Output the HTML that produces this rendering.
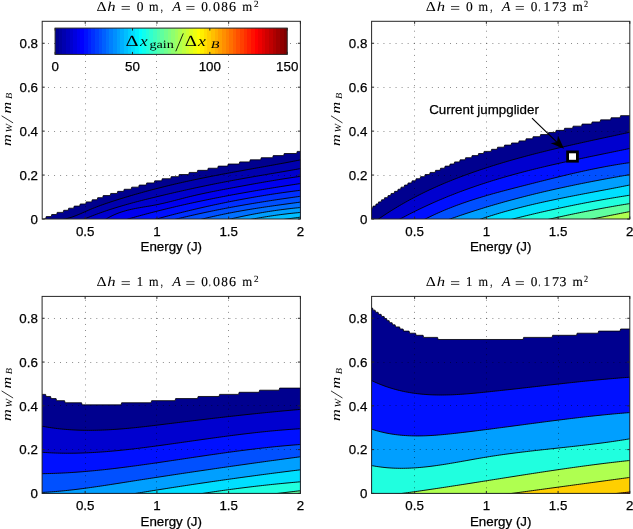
<!DOCTYPE html>
<html><head><meta charset="utf-8"><style>
*{margin:0;padding:0}
html,body{width:633px;height:529px;background:#fff;overflow:hidden}
svg{display:block;will-change:transform;filter:blur(0.3px)}
.gr{stroke:#000;stroke-width:1;stroke-dasharray:1 5.05;opacity:0.45}
.bx{fill:none;stroke:#262626;stroke-width:1}
.tk{stroke:#262626;stroke-width:1}
.tl{font-family:"Liberation Sans",sans-serif;font-size:13.33px;fill:#000;stroke:#000;stroke-width:0.25px}
.tt{font-family:"Liberation Serif",serif;font-size:13px;fill:#000}
.tsup{font-family:"Liberation Serif",serif;font-size:9px;fill:#000}
.it{font-style:italic}
.ml{font-family:"Liberation Serif",serif;font-size:14px;fill:#000}
.ms{font-family:"Liberation Serif",serif;font-size:10px;fill:#000}
.cbl{font-family:"Liberation Serif",serif;font-size:16px;fill:#000}
.cbs{font-family:"Liberation Serif",serif;font-size:11px;fill:#000}
.sf{font-family:"Liberation Serif",serif;fill:#000;text-rendering:geometricPrecision}
.ttl .sf{stroke:#000;stroke-width:0.12px}
.ttl .sfd{stroke-width:0.15px}
.ttl .nb{stroke:none}
</style></head>
<body><svg width="633" height="529" viewBox="0 0 633 529">
<rect width="633" height="529" fill="#fff"/>
<clipPath id="cTL"><rect x="42.2" y="21.3" width="258.2" height="197.7"/></clipPath>
<g clip-path="url(#cTL)">
<path d="M40.2,220.5 L44.2,220.5 L44.7,218.7 L45.7,218.7 L46.2,216.6 L51.2,216.6 L51.7,214.49 L56.7,214.49 L57.2,212.39 L63.2,212.39 L63.7,210.29 L68.2,210.29 L68.7,208.19 L73.7,208.19 L74.2,206.08 L79.7,206.08 L80.2,203.98 L85.7,203.98 L86.2,201.88 L91.7,201.88 L92.2,199.77 L97.2,199.77 L97.7,197.67 L102.7,197.67 L103.2,195.57 L110.2,195.57 L110.7,193.46 L117.2,193.46 L117.7,191.36 L123.7,191.36 L124.2,189.26 L131.2,189.26 L131.7,187.15 L138.7,187.15 L139.2,185.05 L146.2,185.05 L146.7,182.95 L154.2,182.95 L154.7,180.85 L161.7,180.85 L162.2,178.74 L170.7,178.74 L171.2,176.64 L178.7,176.64 L179.2,174.54 L188.7,174.54 L189.2,172.43 L197.2,172.43 L197.7,170.33 L207.7,170.33 L208.2,168.23 L217.7,168.23 L218.2,166.12 L227.7,166.12 L228.2,164.02 L239.2,164.02 L239.7,161.92 L249.7,161.92 L250.2,159.82 L260.7,159.82 L261.2,157.71 L272.7,157.71 L273.2,155.61 L283.7,155.61 L284.2,153.51 L296.7,153.51 L297.2,151.4 L302.2,151.4 L303.4,151.4 L303.4,224 L39.2,224 L39.2,220.5Z" fill="#00008f"/>
<path d="M39.2,224.14 L41.25,223.73 L43.3,223.32 L45.34,222.91 L47.39,222.5 L49.44,222.09 L51.49,221.68 L53.54,221.27 L55.58,220.86 L57.63,220.45 L59.68,220.04 L61.73,219.64 L63.78,219.23 L65.82,218.81 L67.87,218.31 L69.92,217.73 L71.97,217.07 L74.02,216.34 L76.07,215.56 L78.11,214.73 L80.16,213.87 L82.21,212.99 L84.26,212.09 L86.31,211.19 L88.35,210.29 L90.4,209.41 L92.45,208.56 L94.5,207.74 L96.55,206.93 L98.59,206.16 L100.64,205.4 L102.69,204.67 L104.74,203.95 L106.79,203.24 L108.83,202.56 L110.88,201.88 L112.93,201.21 L114.98,200.56 L117.03,199.91 L119.07,199.26 L121.12,198.63 L123.17,198 L125.22,197.37 L127.27,196.75 L129.31,196.14 L131.36,195.54 L133.41,194.94 L135.46,194.35 L137.51,193.77 L139.56,193.19 L141.6,192.61 L143.65,192.05 L145.7,191.49 L147.75,190.93 L149.8,190.38 L151.84,189.84 L153.89,189.3 L155.94,188.77 L157.99,188.24 L160.04,187.72 L162.08,187.21 L164.13,186.7 L166.18,186.19 L168.23,185.7 L170.28,185.2 L172.32,184.72 L174.37,184.23 L176.42,183.76 L178.47,183.28 L180.52,182.82 L182.56,182.35 L184.61,181.9 L186.66,181.44 L188.71,181 L190.76,180.55 L192.8,180.12 L194.85,179.68 L196.9,179.25 L198.95,178.83 L201,178.41 L203.04,177.99 L205.09,177.58 L207.14,177.17 L209.19,176.76 L211.24,176.36 L213.29,175.96 L215.33,175.57 L217.38,175.17 L219.43,174.78 L221.48,174.39 L223.53,174.01 L225.57,173.63 L227.62,173.25 L229.67,172.87 L231.72,172.49 L233.77,172.11 L235.81,171.74 L237.86,171.37 L239.91,171 L241.96,170.63 L244.01,170.26 L246.05,169.89 L248.1,169.52 L250.15,169.16 L252.2,168.79 L254.25,168.42 L256.29,168.06 L258.34,167.69 L260.39,167.32 L262.44,166.96 L264.49,166.59 L266.53,166.22 L268.58,165.85 L270.63,165.48 L272.68,165.11 L274.73,164.74 L276.78,164.37 L278.82,163.99 L280.87,163.62 L282.92,163.24 L284.97,162.86 L287.02,162.47 L289.06,162.09 L291.11,161.7 L293.16,161.31 L295.21,160.92 L297.26,160.52 L299.3,160.12 L301.35,159.73 L303.4,159.33 L303.4,259 L39.2,259Z" fill="#0000af"/>
<path d="M39.2,238 L41.25,237.14 L43.3,236.28 L45.34,235.42 L47.39,234.56 L49.44,233.7 L51.49,232.84 L53.54,231.98 L55.58,231.13 L57.63,230.27 L59.68,229.41 L61.73,228.55 L63.78,227.69 L65.82,226.83 L67.87,225.97 L69.92,225.11 L71.97,224.25 L74.02,223.4 L76.07,222.54 L78.11,221.68 L80.16,220.82 L82.21,219.96 L84.26,219.1 L86.31,218.24 L88.35,217.41 L90.4,216.58 L92.45,215.78 L94.5,214.99 L96.55,214.22 L98.59,213.47 L100.64,212.73 L102.69,212.01 L104.74,211.3 L106.79,210.6 L108.83,209.92 L110.88,209.25 L112.93,208.6 L114.98,207.96 L117.03,207.33 L119.07,206.71 L121.12,206.1 L123.17,205.5 L125.22,204.91 L127.27,204.33 L129.31,203.76 L131.36,203.2 L133.41,202.64 L135.46,202.1 L137.51,201.56 L139.56,201.03 L141.6,200.5 L143.65,199.98 L145.7,199.46 L147.75,198.95 L149.8,198.45 L151.84,197.94 L153.89,197.44 L155.94,196.95 L157.99,196.45 L160.04,195.96 L162.08,195.47 L164.13,194.99 L166.18,194.5 L168.23,194.02 L170.28,193.54 L172.32,193.07 L174.37,192.59 L176.42,192.12 L178.47,191.66 L180.52,191.19 L182.56,190.73 L184.61,190.27 L186.66,189.82 L188.71,189.36 L190.76,188.92 L192.8,188.47 L194.85,188.03 L196.9,187.59 L198.95,187.15 L201,186.72 L203.04,186.29 L205.09,185.86 L207.14,185.44 L209.19,185.02 L211.24,184.6 L213.29,184.19 L215.33,183.78 L217.38,183.37 L219.43,182.97 L221.48,182.57 L223.53,182.18 L225.57,181.78 L227.62,181.39 L229.67,181.01 L231.72,180.62 L233.77,180.24 L235.81,179.87 L237.86,179.5 L239.91,179.12 L241.96,178.76 L244.01,178.39 L246.05,178.03 L248.1,177.67 L250.15,177.31 L252.2,176.95 L254.25,176.59 L256.29,176.24 L258.34,175.89 L260.39,175.54 L262.44,175.18 L264.49,174.83 L266.53,174.48 L268.58,174.13 L270.63,173.78 L272.68,173.43 L274.73,173.09 L276.78,172.74 L278.82,172.38 L280.87,172.03 L282.92,171.68 L284.97,171.33 L287.02,170.97 L289.06,170.62 L291.11,170.26 L293.16,169.9 L295.21,169.54 L297.26,169.18 L299.3,168.82 L301.35,168.45 L303.4,168.09 L303.4,259 L39.2,259Z" fill="#0000cf"/>
<path d="M39.2,257.85 L41.25,256.66 L43.3,255.47 L45.34,254.28 L47.39,253.09 L49.44,251.9 L51.49,250.71 L53.54,249.52 L55.58,248.34 L57.63,247.15 L59.68,245.96 L61.73,244.77 L63.78,243.58 L65.82,242.39 L67.87,241.2 L69.92,240.01 L71.97,238.82 L74.02,237.64 L76.07,236.45 L78.11,235.26 L80.16,234.07 L82.21,232.88 L84.26,231.69 L86.31,230.5 L88.35,229.31 L90.4,228.12 L92.45,226.94 L94.5,225.75 L96.55,224.56 L98.59,223.37 L100.64,222.18 L102.69,220.99 L104.74,219.8 L106.79,218.61 L108.83,217.45 L110.88,216.37 L112.93,215.38 L114.98,214.46 L117.03,213.62 L119.07,212.84 L121.12,212.12 L123.17,211.47 L125.22,210.86 L127.27,210.31 L129.31,209.79 L131.36,209.32 L133.41,208.88 L135.46,208.47 L137.51,208.08 L139.56,207.71 L141.6,207.36 L143.65,207.01 L145.7,206.67 L147.75,206.33 L149.8,205.99 L151.84,205.63 L153.89,205.26 L155.94,204.87 L157.99,204.46 L160.04,204.02 L162.08,203.57 L164.13,203.1 L166.18,202.61 L168.23,202.12 L170.28,201.61 L172.32,201.09 L174.37,200.57 L176.42,200.04 L178.47,199.51 L180.52,198.98 L182.56,198.45 L184.61,197.92 L186.66,197.4 L188.71,196.89 L190.76,196.38 L192.8,195.89 L194.85,195.41 L196.9,194.94 L198.95,194.48 L201,194.03 L203.04,193.58 L205.09,193.15 L207.14,192.72 L209.19,192.3 L211.24,191.88 L213.29,191.47 L215.33,191.07 L217.38,190.67 L219.43,190.27 L221.48,189.88 L223.53,189.49 L225.57,189.1 L227.62,188.72 L229.67,188.33 L231.72,187.95 L233.77,187.57 L235.81,187.19 L237.86,186.81 L239.91,186.43 L241.96,186.05 L244.01,185.68 L246.05,185.3 L248.1,184.93 L250.15,184.56 L252.2,184.19 L254.25,183.82 L256.29,183.46 L258.34,183.1 L260.39,182.74 L262.44,182.38 L264.49,182.02 L266.53,181.67 L268.58,181.32 L270.63,180.98 L272.68,180.63 L274.73,180.29 L276.78,179.95 L278.82,179.62 L280.87,179.29 L282.92,178.96 L284.97,178.64 L287.02,178.32 L289.06,178.01 L291.11,177.7 L293.16,177.39 L295.21,177.09 L297.26,176.79 L299.3,176.49 L301.35,176.2 L303.4,175.9 L303.4,259 L39.2,259Z" fill="#0000ef"/>
<path d="M39.2,244.53 L41.25,243.94 L43.3,243.35 L45.34,242.77 L47.39,242.18 L49.44,241.59 L51.49,241 L53.54,240.41 L55.58,239.83 L57.63,239.24 L59.68,238.65 L61.73,238.06 L63.78,237.48 L65.82,236.89 L67.87,236.3 L69.92,235.71 L71.97,235.13 L74.02,234.54 L76.07,233.95 L78.11,233.36 L80.16,232.77 L82.21,232.19 L84.26,231.6 L86.31,231.01 L88.35,230.42 L90.4,229.84 L92.45,229.25 L94.5,228.66 L96.55,228.07 L98.59,227.49 L100.64,226.9 L102.69,226.31 L104.74,225.72 L106.79,225.13 L108.83,224.55 L110.88,223.96 L112.93,223.37 L114.98,222.78 L117.03,222.2 L119.07,221.61 L121.12,221.02 L123.17,220.43 L125.22,219.85 L127.27,219.26 L129.31,218.67 L131.36,218.09 L133.41,217.51 L135.46,216.93 L137.51,216.36 L139.56,215.8 L141.6,215.24 L143.65,214.69 L145.7,214.14 L147.75,213.6 L149.8,213.06 L151.84,212.52 L153.89,211.99 L155.94,211.47 L157.99,210.95 L160.04,210.43 L162.08,209.92 L164.13,209.42 L166.18,208.92 L168.23,208.42 L170.28,207.93 L172.32,207.44 L174.37,206.96 L176.42,206.48 L178.47,206 L180.52,205.53 L182.56,205.06 L184.61,204.6 L186.66,204.14 L188.71,203.69 L190.76,203.24 L192.8,202.79 L194.85,202.35 L196.9,201.91 L198.95,201.47 L201,201.04 L203.04,200.61 L205.09,200.19 L207.14,199.77 L209.19,199.35 L211.24,198.93 L213.29,198.52 L215.33,198.12 L217.38,197.71 L219.43,197.31 L221.48,196.91 L223.53,196.52 L225.57,196.13 L227.62,195.74 L229.67,195.36 L231.72,194.97 L233.77,194.59 L235.81,194.22 L237.86,193.84 L239.91,193.47 L241.96,193.11 L244.01,192.74 L246.05,192.38 L248.1,192.02 L250.15,191.66 L252.2,191.31 L254.25,190.95 L256.29,190.6 L258.34,190.25 L260.39,189.91 L262.44,189.57 L264.49,189.23 L266.53,188.89 L268.58,188.55 L270.63,188.22 L272.68,187.88 L274.73,187.55 L276.78,187.22 L278.82,186.9 L280.87,186.57 L282.92,186.25 L284.97,185.93 L287.02,185.61 L289.06,185.29 L291.11,184.97 L293.16,184.66 L295.21,184.34 L297.26,184.03 L299.3,183.72 L301.35,183.41 L303.4,183.1 L303.4,259 L39.2,259Z" fill="#0010ff"/>
<path d="M39.2,251.12 L41.25,250.56 L43.3,250 L45.34,249.44 L47.39,248.88 L49.44,248.32 L51.49,247.76 L53.54,247.2 L55.58,246.64 L57.63,246.08 L59.68,245.52 L61.73,244.96 L63.78,244.39 L65.82,243.83 L67.87,243.27 L69.92,242.71 L71.97,242.15 L74.02,241.59 L76.07,241.03 L78.11,240.47 L80.16,239.91 L82.21,239.35 L84.26,238.79 L86.31,238.23 L88.35,237.67 L90.4,237.11 L92.45,236.55 L94.5,235.98 L96.55,235.42 L98.59,234.86 L100.64,234.3 L102.69,233.74 L104.74,233.18 L106.79,232.62 L108.83,232.06 L110.88,231.5 L112.93,230.94 L114.98,230.38 L117.03,229.82 L119.07,229.26 L121.12,228.7 L123.17,228.14 L125.22,227.58 L127.27,227.01 L129.31,226.45 L131.36,225.89 L133.41,225.33 L135.46,224.77 L137.51,224.21 L139.56,223.65 L141.6,223.09 L143.65,222.53 L145.7,221.97 L147.75,221.41 L149.8,220.85 L151.84,220.29 L153.89,219.73 L155.94,219.17 L157.99,218.61 L160.04,218.05 L162.08,217.5 L164.13,216.95 L166.18,216.41 L168.23,215.87 L170.28,215.33 L172.32,214.8 L174.37,214.27 L176.42,213.75 L178.47,213.23 L180.52,212.72 L182.56,212.21 L184.61,211.71 L186.66,211.21 L188.71,210.71 L190.76,210.22 L192.8,209.73 L194.85,209.25 L196.9,208.77 L198.95,208.29 L201,207.82 L203.04,207.36 L205.09,206.9 L207.14,206.44 L209.19,205.99 L211.24,205.54 L213.29,205.09 L215.33,204.65 L217.38,204.22 L219.43,203.79 L221.48,203.36 L223.53,202.94 L225.57,202.52 L227.62,202.11 L229.67,201.7 L231.72,201.29 L233.77,200.89 L235.81,200.5 L237.86,200.11 L239.91,199.72 L241.96,199.34 L244.01,198.96 L246.05,198.59 L248.1,198.22 L250.15,197.85 L252.2,197.49 L254.25,197.14 L256.29,196.78 L258.34,196.44 L260.39,196.1 L262.44,195.76 L264.49,195.42 L266.53,195.09 L268.58,194.77 L270.63,194.45 L272.68,194.13 L274.73,193.82 L276.78,193.52 L278.82,193.21 L280.87,192.92 L282.92,192.62 L284.97,192.33 L287.02,192.05 L289.06,191.77 L291.11,191.5 L293.16,191.23 L295.21,190.96 L297.26,190.7 L299.3,190.44 L301.35,190.18 L303.4,189.92 L303.4,259 L39.2,259Z" fill="#0030ff"/>
<path d="M39.2,252.91 L41.25,252.4 L43.3,251.9 L45.34,251.39 L47.39,250.89 L49.44,250.38 L51.49,249.88 L53.54,249.37 L55.58,248.87 L57.63,248.36 L59.68,247.86 L61.73,247.35 L63.78,246.85 L65.82,246.34 L67.87,245.84 L69.92,245.33 L71.97,244.83 L74.02,244.32 L76.07,243.82 L78.11,243.31 L80.16,242.81 L82.21,242.3 L84.26,241.8 L86.31,241.29 L88.35,240.79 L90.4,240.28 L92.45,239.78 L94.5,239.27 L96.55,238.77 L98.59,238.26 L100.64,237.75 L102.69,237.25 L104.74,236.74 L106.79,236.24 L108.83,235.73 L110.88,235.23 L112.93,234.72 L114.98,234.22 L117.03,233.71 L119.07,233.21 L121.12,232.7 L123.17,232.2 L125.22,231.69 L127.27,231.19 L129.31,230.68 L131.36,230.18 L133.41,229.67 L135.46,229.17 L137.51,228.66 L139.56,228.16 L141.6,227.65 L143.65,227.15 L145.7,226.64 L147.75,226.14 L149.8,225.63 L151.84,225.13 L153.89,224.62 L155.94,224.12 L157.99,223.61 L160.04,223.11 L162.08,222.6 L164.13,222.1 L166.18,221.59 L168.23,221.09 L170.28,220.58 L172.32,220.07 L174.37,219.57 L176.42,219.06 L178.47,218.56 L180.52,218.06 L182.56,217.57 L184.61,217.08 L186.66,216.6 L188.71,216.12 L190.76,215.65 L192.8,215.18 L194.85,214.72 L196.9,214.26 L198.95,213.81 L201,213.36 L203.04,212.92 L205.09,212.48 L207.14,212.05 L209.19,211.62 L211.24,211.2 L213.29,210.78 L215.33,210.36 L217.38,209.95 L219.43,209.55 L221.48,209.14 L223.53,208.75 L225.57,208.35 L227.62,207.96 L229.67,207.58 L231.72,207.2 L233.77,206.82 L235.81,206.45 L237.86,206.08 L239.91,205.71 L241.96,205.35 L244.01,204.99 L246.05,204.64 L248.1,204.29 L250.15,203.94 L252.2,203.59 L254.25,203.25 L256.29,202.92 L258.34,202.58 L260.39,202.25 L262.44,201.92 L264.49,201.6 L266.53,201.27 L268.58,200.95 L270.63,200.64 L272.68,200.32 L274.73,200.01 L276.78,199.7 L278.82,199.4 L280.87,199.09 L282.92,198.79 L284.97,198.49 L287.02,198.2 L289.06,197.9 L291.11,197.61 L293.16,197.32 L295.21,197.03 L297.26,196.75 L299.3,196.46 L301.35,196.18 L303.4,195.9 L303.4,259 L39.2,259Z" fill="#0050ff"/>
<path d="M39.2,259.83 L41.25,259.32 L43.3,258.8 L45.34,258.29 L47.39,257.78 L49.44,257.27 L51.49,256.76 L53.54,256.25 L55.58,255.73 L57.63,255.22 L59.68,254.71 L61.73,254.2 L63.78,253.69 L65.82,253.17 L67.87,252.66 L69.92,252.15 L71.97,251.64 L74.02,251.13 L76.07,250.62 L78.11,250.1 L80.16,249.59 L82.21,249.08 L84.26,248.57 L86.31,248.06 L88.35,247.54 L90.4,247.03 L92.45,246.52 L94.5,246.01 L96.55,245.5 L98.59,244.99 L100.64,244.47 L102.69,243.96 L104.74,243.45 L106.79,242.94 L108.83,242.43 L110.88,241.91 L112.93,241.4 L114.98,240.89 L117.03,240.38 L119.07,239.87 L121.12,239.36 L123.17,238.84 L125.22,238.33 L127.27,237.82 L129.31,237.31 L131.36,236.8 L133.41,236.28 L135.46,235.77 L137.51,235.26 L139.56,234.75 L141.6,234.24 L143.65,233.73 L145.7,233.21 L147.75,232.7 L149.8,232.19 L151.84,231.68 L153.89,231.17 L155.94,230.65 L157.99,230.14 L160.04,229.63 L162.08,229.12 L164.13,228.61 L166.18,228.1 L168.23,227.58 L170.28,227.07 L172.32,226.56 L174.37,226.05 L176.42,225.54 L178.47,225.02 L180.52,224.51 L182.56,224 L184.61,223.49 L186.66,222.98 L188.71,222.47 L190.76,221.95 L192.8,221.44 L194.85,220.93 L196.9,220.42 L198.95,219.91 L201,219.39 L203.04,218.88 L205.09,218.38 L207.14,217.88 L209.19,217.39 L211.24,216.91 L213.29,216.45 L215.33,215.99 L217.38,215.53 L219.43,215.09 L221.48,214.66 L223.53,214.23 L225.57,213.82 L227.62,213.41 L229.67,213 L231.72,212.61 L233.77,212.22 L235.81,211.84 L237.86,211.46 L239.91,211.1 L241.96,210.73 L244.01,210.38 L246.05,210.03 L248.1,209.68 L250.15,209.35 L252.2,209.01 L254.25,208.68 L256.29,208.36 L258.34,208.04 L260.39,207.72 L262.44,207.41 L264.49,207.1 L266.53,206.8 L268.58,206.5 L270.63,206.2 L272.68,205.91 L274.73,205.62 L276.78,205.33 L278.82,205.04 L280.87,204.76 L282.92,204.48 L284.97,204.2 L287.02,203.92 L289.06,203.64 L291.11,203.36 L293.16,203.09 L295.21,202.81 L297.26,202.54 L299.3,202.26 L301.35,201.99 L303.4,201.71 L303.4,259 L39.2,259Z" fill="#0070ff"/>
<path d="M39.2,263.97 L41.25,263.49 L43.3,263.01 L45.34,262.53 L47.39,262.05 L49.44,261.57 L51.49,261.08 L53.54,260.6 L55.58,260.12 L57.63,259.64 L59.68,259.16 L61.73,258.68 L63.78,258.2 L65.82,257.71 L67.87,257.23 L69.92,256.75 L71.97,256.27 L74.02,255.79 L76.07,255.31 L78.11,254.83 L80.16,254.35 L82.21,253.86 L84.26,253.38 L86.31,252.9 L88.35,252.42 L90.4,251.94 L92.45,251.46 L94.5,250.98 L96.55,250.49 L98.59,250.01 L100.64,249.53 L102.69,249.05 L104.74,248.57 L106.79,248.09 L108.83,247.61 L110.88,247.12 L112.93,246.64 L114.98,246.16 L117.03,245.68 L119.07,245.2 L121.12,244.72 L123.17,244.24 L125.22,243.75 L127.27,243.27 L129.31,242.79 L131.36,242.31 L133.41,241.83 L135.46,241.35 L137.51,240.87 L139.56,240.39 L141.6,239.9 L143.65,239.42 L145.7,238.94 L147.75,238.46 L149.8,237.98 L151.84,237.5 L153.89,237.02 L155.94,236.53 L157.99,236.05 L160.04,235.57 L162.08,235.09 L164.13,234.61 L166.18,234.13 L168.23,233.65 L170.28,233.16 L172.32,232.68 L174.37,232.2 L176.42,231.72 L178.47,231.24 L180.52,230.76 L182.56,230.28 L184.61,229.79 L186.66,229.31 L188.71,228.83 L190.76,228.35 L192.8,227.87 L194.85,227.39 L196.9,226.91 L198.95,226.43 L201,225.94 L203.04,225.46 L205.09,224.98 L207.14,224.5 L209.19,224.02 L211.24,223.54 L213.29,223.06 L215.33,222.57 L217.38,222.09 L219.43,221.61 L221.48,221.13 L223.53,220.65 L225.57,220.17 L227.62,219.69 L229.67,219.2 L231.72,218.73 L233.77,218.25 L235.81,217.79 L237.86,217.34 L239.91,216.89 L241.96,216.45 L244.01,216.02 L246.05,215.6 L248.1,215.19 L250.15,214.79 L252.2,214.39 L254.25,214 L256.29,213.63 L258.34,213.26 L260.39,212.89 L262.44,212.54 L264.49,212.2 L266.53,211.86 L268.58,211.53 L270.63,211.21 L272.68,210.9 L274.73,210.6 L276.78,210.31 L278.82,210.02 L280.87,209.74 L282.92,209.48 L284.97,209.22 L287.02,208.96 L289.06,208.72 L291.11,208.49 L293.16,208.26 L295.21,208.04 L297.26,207.83 L299.3,207.63 L301.35,207.44 L303.4,207.24 L303.4,259 L39.2,259Z" fill="#009fff"/>
<path d="M39.2,258.9 L41.25,258.51 L43.3,258.13 L45.34,257.75 L47.39,257.37 L49.44,256.99 L51.49,256.6 L53.54,256.22 L55.58,255.84 L57.63,255.46 L59.68,255.08 L61.73,254.69 L63.78,254.31 L65.82,253.93 L67.87,253.55 L69.92,253.16 L71.97,252.78 L74.02,252.4 L76.07,252.02 L78.11,251.64 L80.16,251.25 L82.21,250.87 L84.26,250.49 L86.31,250.11 L88.35,249.72 L90.4,249.34 L92.45,248.96 L94.5,248.58 L96.55,248.2 L98.59,247.81 L100.64,247.43 L102.69,247.05 L104.74,246.67 L106.79,246.28 L108.83,245.9 L110.88,245.52 L112.93,245.14 L114.98,244.76 L117.03,244.37 L119.07,243.99 L121.12,243.61 L123.17,243.23 L125.22,242.85 L127.27,242.46 L129.31,242.08 L131.36,241.7 L133.41,241.32 L135.46,240.93 L137.51,240.55 L139.56,240.17 L141.6,239.79 L143.65,239.41 L145.7,239.02 L147.75,238.64 L149.8,238.26 L151.84,237.88 L153.89,237.49 L155.94,237.11 L157.99,236.73 L160.04,236.35 L162.08,235.97 L164.13,235.58 L166.18,235.2 L168.23,234.82 L170.28,234.44 L172.32,234.05 L174.37,233.67 L176.42,233.29 L178.47,232.91 L180.52,232.53 L182.56,232.14 L184.61,231.76 L186.66,231.38 L188.71,231 L190.76,230.62 L192.8,230.23 L194.85,229.85 L196.9,229.47 L198.95,229.09 L201,228.7 L203.04,228.32 L205.09,227.94 L207.14,227.56 L209.19,227.18 L211.24,226.79 L213.29,226.41 L215.33,226.03 L217.38,225.65 L219.43,225.26 L221.48,224.88 L223.53,224.5 L225.57,224.12 L227.62,223.74 L229.67,223.35 L231.72,222.97 L233.77,222.59 L235.81,222.21 L237.86,221.82 L239.91,221.44 L241.96,221.06 L244.01,220.68 L246.05,220.3 L248.1,219.91 L250.15,219.53 L252.2,219.15 L254.25,218.77 L256.29,218.39 L258.34,218.03 L260.39,217.67 L262.44,217.33 L264.49,216.99 L266.53,216.66 L268.58,216.34 L270.63,216.02 L272.68,215.72 L274.73,215.42 L276.78,215.14 L278.82,214.86 L280.87,214.59 L282.92,214.33 L284.97,214.08 L287.02,213.84 L289.06,213.6 L291.11,213.38 L293.16,213.16 L295.21,212.95 L297.26,212.75 L299.3,212.56 L301.35,212.38 L303.4,212.19 L303.4,259 L39.2,259Z" fill="#00bfff"/>
<path d="M39.2,253.31 L41.25,253.03 L43.3,252.74 L45.34,252.46 L47.39,252.18 L49.44,251.89 L51.49,251.61 L53.54,251.33 L55.58,251.04 L57.63,250.76 L59.68,250.47 L61.73,250.19 L63.78,249.91 L65.82,249.62 L67.87,249.34 L69.92,249.06 L71.97,248.77 L74.02,248.49 L76.07,248.21 L78.11,247.92 L80.16,247.64 L82.21,247.36 L84.26,247.07 L86.31,246.79 L88.35,246.5 L90.4,246.22 L92.45,245.94 L94.5,245.65 L96.55,245.37 L98.59,245.09 L100.64,244.8 L102.69,244.52 L104.74,244.24 L106.79,243.95 L108.83,243.67 L110.88,243.39 L112.93,243.1 L114.98,242.82 L117.03,242.53 L119.07,242.25 L121.12,241.97 L123.17,241.68 L125.22,241.4 L127.27,241.12 L129.31,240.83 L131.36,240.55 L133.41,240.27 L135.46,239.98 L137.51,239.7 L139.56,239.42 L141.6,239.13 L143.65,238.85 L145.7,238.56 L147.75,238.28 L149.8,238 L151.84,237.71 L153.89,237.43 L155.94,237.15 L157.99,236.86 L160.04,236.58 L162.08,236.3 L164.13,236.01 L166.18,235.73 L168.23,235.45 L170.28,235.16 L172.32,234.88 L174.37,234.59 L176.42,234.31 L178.47,234.03 L180.52,233.74 L182.56,233.46 L184.61,233.18 L186.66,232.89 L188.71,232.61 L190.76,232.33 L192.8,232.04 L194.85,231.76 L196.9,231.48 L198.95,231.19 L201,230.91 L203.04,230.62 L205.09,230.34 L207.14,230.06 L209.19,229.77 L211.24,229.49 L213.29,229.21 L215.33,228.92 L217.38,228.64 L219.43,228.36 L221.48,228.07 L223.53,227.79 L225.57,227.51 L227.62,227.22 L229.67,226.94 L231.72,226.65 L233.77,226.37 L235.81,226.09 L237.86,225.8 L239.91,225.52 L241.96,225.24 L244.01,224.95 L246.05,224.67 L248.1,224.39 L250.15,224.1 L252.2,223.82 L254.25,223.54 L256.29,223.25 L258.34,222.97 L260.39,222.68 L262.44,222.4 L264.49,222.12 L266.53,221.83 L268.58,221.55 L270.63,221.27 L272.68,220.98 L274.73,220.7 L276.78,220.42 L278.82,220.13 L280.87,219.85 L282.92,219.57 L284.97,219.28 L287.02,219 L289.06,218.71 L291.11,218.43 L293.16,218.15 L295.21,217.86 L297.26,217.58 L299.3,217.3 L301.35,217.01 L303.4,216.73 L303.4,259 L39.2,259Z" fill="#00dfff"/>
<path d="M39.2,224.14 L41.25,223.73 L43.3,223.32 L45.34,222.91 L47.39,222.5 L49.44,222.09 L51.49,221.68 L53.54,221.27 L55.58,220.86 L57.63,220.45 L59.68,220.04 L61.73,219.64 L63.78,219.23 L65.82,218.81 L67.87,218.31 L69.92,217.73 L71.97,217.07 L74.02,216.34 L76.07,215.56 L78.11,214.73 L80.16,213.87 L82.21,212.99 L84.26,212.09 L86.31,211.19 L88.35,210.29 L90.4,209.41 L92.45,208.56 L94.5,207.74 L96.55,206.93 L98.59,206.16 L100.64,205.4 L102.69,204.67 L104.74,203.95 L106.79,203.24 L108.83,202.56 L110.88,201.88 L112.93,201.21 L114.98,200.56 L117.03,199.91 L119.07,199.26 L121.12,198.63 L123.17,198 L125.22,197.37 L127.27,196.75 L129.31,196.14 L131.36,195.54 L133.41,194.94 L135.46,194.35 L137.51,193.77 L139.56,193.19 L141.6,192.61 L143.65,192.05 L145.7,191.49 L147.75,190.93 L149.8,190.38 L151.84,189.84 L153.89,189.3 L155.94,188.77 L157.99,188.24 L160.04,187.72 L162.08,187.21 L164.13,186.7 L166.18,186.19 L168.23,185.7 L170.28,185.2 L172.32,184.72 L174.37,184.23 L176.42,183.76 L178.47,183.28 L180.52,182.82 L182.56,182.35 L184.61,181.9 L186.66,181.44 L188.71,181 L190.76,180.55 L192.8,180.12 L194.85,179.68 L196.9,179.25 L198.95,178.83 L201,178.41 L203.04,177.99 L205.09,177.58 L207.14,177.17 L209.19,176.76 L211.24,176.36 L213.29,175.96 L215.33,175.57 L217.38,175.17 L219.43,174.78 L221.48,174.39 L223.53,174.01 L225.57,173.63 L227.62,173.25 L229.67,172.87 L231.72,172.49 L233.77,172.11 L235.81,171.74 L237.86,171.37 L239.91,171 L241.96,170.63 L244.01,170.26 L246.05,169.89 L248.1,169.52 L250.15,169.16 L252.2,168.79 L254.25,168.42 L256.29,168.06 L258.34,167.69 L260.39,167.32 L262.44,166.96 L264.49,166.59 L266.53,166.22 L268.58,165.85 L270.63,165.48 L272.68,165.11 L274.73,164.74 L276.78,164.37 L278.82,163.99 L280.87,163.62 L282.92,163.24 L284.97,162.86 L287.02,162.47 L289.06,162.09 L291.11,161.7 L293.16,161.31 L295.21,160.92 L297.26,160.52 L299.3,160.12 L301.35,159.73 L303.4,159.33" fill="none" stroke="#000" stroke-width="0.9"/>
<path d="M39.2,238 L41.25,237.14 L43.3,236.28 L45.34,235.42 L47.39,234.56 L49.44,233.7 L51.49,232.84 L53.54,231.98 L55.58,231.13 L57.63,230.27 L59.68,229.41 L61.73,228.55 L63.78,227.69 L65.82,226.83 L67.87,225.97 L69.92,225.11 L71.97,224.25 L74.02,223.4 L76.07,222.54 L78.11,221.68 L80.16,220.82 L82.21,219.96 L84.26,219.1 L86.31,218.24 L88.35,217.41 L90.4,216.58 L92.45,215.78 L94.5,214.99 L96.55,214.22 L98.59,213.47 L100.64,212.73 L102.69,212.01 L104.74,211.3 L106.79,210.6 L108.83,209.92 L110.88,209.25 L112.93,208.6 L114.98,207.96 L117.03,207.33 L119.07,206.71 L121.12,206.1 L123.17,205.5 L125.22,204.91 L127.27,204.33 L129.31,203.76 L131.36,203.2 L133.41,202.64 L135.46,202.1 L137.51,201.56 L139.56,201.03 L141.6,200.5 L143.65,199.98 L145.7,199.46 L147.75,198.95 L149.8,198.45 L151.84,197.94 L153.89,197.44 L155.94,196.95 L157.99,196.45 L160.04,195.96 L162.08,195.47 L164.13,194.99 L166.18,194.5 L168.23,194.02 L170.28,193.54 L172.32,193.07 L174.37,192.59 L176.42,192.12 L178.47,191.66 L180.52,191.19 L182.56,190.73 L184.61,190.27 L186.66,189.82 L188.71,189.36 L190.76,188.92 L192.8,188.47 L194.85,188.03 L196.9,187.59 L198.95,187.15 L201,186.72 L203.04,186.29 L205.09,185.86 L207.14,185.44 L209.19,185.02 L211.24,184.6 L213.29,184.19 L215.33,183.78 L217.38,183.37 L219.43,182.97 L221.48,182.57 L223.53,182.18 L225.57,181.78 L227.62,181.39 L229.67,181.01 L231.72,180.62 L233.77,180.24 L235.81,179.87 L237.86,179.5 L239.91,179.12 L241.96,178.76 L244.01,178.39 L246.05,178.03 L248.1,177.67 L250.15,177.31 L252.2,176.95 L254.25,176.59 L256.29,176.24 L258.34,175.89 L260.39,175.54 L262.44,175.18 L264.49,174.83 L266.53,174.48 L268.58,174.13 L270.63,173.78 L272.68,173.43 L274.73,173.09 L276.78,172.74 L278.82,172.38 L280.87,172.03 L282.92,171.68 L284.97,171.33 L287.02,170.97 L289.06,170.62 L291.11,170.26 L293.16,169.9 L295.21,169.54 L297.26,169.18 L299.3,168.82 L301.35,168.45 L303.4,168.09" fill="none" stroke="#000" stroke-width="0.9"/>
<path d="M39.2,257.85 L41.25,256.66 L43.3,255.47 L45.34,254.28 L47.39,253.09 L49.44,251.9 L51.49,250.71 L53.54,249.52 L55.58,248.34 L57.63,247.15 L59.68,245.96 L61.73,244.77 L63.78,243.58 L65.82,242.39 L67.87,241.2 L69.92,240.01 L71.97,238.82 L74.02,237.64 L76.07,236.45 L78.11,235.26 L80.16,234.07 L82.21,232.88 L84.26,231.69 L86.31,230.5 L88.35,229.31 L90.4,228.12 L92.45,226.94 L94.5,225.75 L96.55,224.56 L98.59,223.37 L100.64,222.18 L102.69,220.99 L104.74,219.8 L106.79,218.61 L108.83,217.45 L110.88,216.37 L112.93,215.38 L114.98,214.46 L117.03,213.62 L119.07,212.84 L121.12,212.12 L123.17,211.47 L125.22,210.86 L127.27,210.31 L129.31,209.79 L131.36,209.32 L133.41,208.88 L135.46,208.47 L137.51,208.08 L139.56,207.71 L141.6,207.36 L143.65,207.01 L145.7,206.67 L147.75,206.33 L149.8,205.99 L151.84,205.63 L153.89,205.26 L155.94,204.87 L157.99,204.46 L160.04,204.02 L162.08,203.57 L164.13,203.1 L166.18,202.61 L168.23,202.12 L170.28,201.61 L172.32,201.09 L174.37,200.57 L176.42,200.04 L178.47,199.51 L180.52,198.98 L182.56,198.45 L184.61,197.92 L186.66,197.4 L188.71,196.89 L190.76,196.38 L192.8,195.89 L194.85,195.41 L196.9,194.94 L198.95,194.48 L201,194.03 L203.04,193.58 L205.09,193.15 L207.14,192.72 L209.19,192.3 L211.24,191.88 L213.29,191.47 L215.33,191.07 L217.38,190.67 L219.43,190.27 L221.48,189.88 L223.53,189.49 L225.57,189.1 L227.62,188.72 L229.67,188.33 L231.72,187.95 L233.77,187.57 L235.81,187.19 L237.86,186.81 L239.91,186.43 L241.96,186.05 L244.01,185.68 L246.05,185.3 L248.1,184.93 L250.15,184.56 L252.2,184.19 L254.25,183.82 L256.29,183.46 L258.34,183.1 L260.39,182.74 L262.44,182.38 L264.49,182.02 L266.53,181.67 L268.58,181.32 L270.63,180.98 L272.68,180.63 L274.73,180.29 L276.78,179.95 L278.82,179.62 L280.87,179.29 L282.92,178.96 L284.97,178.64 L287.02,178.32 L289.06,178.01 L291.11,177.7 L293.16,177.39 L295.21,177.09 L297.26,176.79 L299.3,176.49 L301.35,176.2 L303.4,175.9" fill="none" stroke="#000" stroke-width="0.9"/>
<path d="M39.2,244.53 L41.25,243.94 L43.3,243.35 L45.34,242.77 L47.39,242.18 L49.44,241.59 L51.49,241 L53.54,240.41 L55.58,239.83 L57.63,239.24 L59.68,238.65 L61.73,238.06 L63.78,237.48 L65.82,236.89 L67.87,236.3 L69.92,235.71 L71.97,235.13 L74.02,234.54 L76.07,233.95 L78.11,233.36 L80.16,232.77 L82.21,232.19 L84.26,231.6 L86.31,231.01 L88.35,230.42 L90.4,229.84 L92.45,229.25 L94.5,228.66 L96.55,228.07 L98.59,227.49 L100.64,226.9 L102.69,226.31 L104.74,225.72 L106.79,225.13 L108.83,224.55 L110.88,223.96 L112.93,223.37 L114.98,222.78 L117.03,222.2 L119.07,221.61 L121.12,221.02 L123.17,220.43 L125.22,219.85 L127.27,219.26 L129.31,218.67 L131.36,218.09 L133.41,217.51 L135.46,216.93 L137.51,216.36 L139.56,215.8 L141.6,215.24 L143.65,214.69 L145.7,214.14 L147.75,213.6 L149.8,213.06 L151.84,212.52 L153.89,211.99 L155.94,211.47 L157.99,210.95 L160.04,210.43 L162.08,209.92 L164.13,209.42 L166.18,208.92 L168.23,208.42 L170.28,207.93 L172.32,207.44 L174.37,206.96 L176.42,206.48 L178.47,206 L180.52,205.53 L182.56,205.06 L184.61,204.6 L186.66,204.14 L188.71,203.69 L190.76,203.24 L192.8,202.79 L194.85,202.35 L196.9,201.91 L198.95,201.47 L201,201.04 L203.04,200.61 L205.09,200.19 L207.14,199.77 L209.19,199.35 L211.24,198.93 L213.29,198.52 L215.33,198.12 L217.38,197.71 L219.43,197.31 L221.48,196.91 L223.53,196.52 L225.57,196.13 L227.62,195.74 L229.67,195.36 L231.72,194.97 L233.77,194.59 L235.81,194.22 L237.86,193.84 L239.91,193.47 L241.96,193.11 L244.01,192.74 L246.05,192.38 L248.1,192.02 L250.15,191.66 L252.2,191.31 L254.25,190.95 L256.29,190.6 L258.34,190.25 L260.39,189.91 L262.44,189.57 L264.49,189.23 L266.53,188.89 L268.58,188.55 L270.63,188.22 L272.68,187.88 L274.73,187.55 L276.78,187.22 L278.82,186.9 L280.87,186.57 L282.92,186.25 L284.97,185.93 L287.02,185.61 L289.06,185.29 L291.11,184.97 L293.16,184.66 L295.21,184.34 L297.26,184.03 L299.3,183.72 L301.35,183.41 L303.4,183.1" fill="none" stroke="#000" stroke-width="0.9"/>
<path d="M39.2,251.12 L41.25,250.56 L43.3,250 L45.34,249.44 L47.39,248.88 L49.44,248.32 L51.49,247.76 L53.54,247.2 L55.58,246.64 L57.63,246.08 L59.68,245.52 L61.73,244.96 L63.78,244.39 L65.82,243.83 L67.87,243.27 L69.92,242.71 L71.97,242.15 L74.02,241.59 L76.07,241.03 L78.11,240.47 L80.16,239.91 L82.21,239.35 L84.26,238.79 L86.31,238.23 L88.35,237.67 L90.4,237.11 L92.45,236.55 L94.5,235.98 L96.55,235.42 L98.59,234.86 L100.64,234.3 L102.69,233.74 L104.74,233.18 L106.79,232.62 L108.83,232.06 L110.88,231.5 L112.93,230.94 L114.98,230.38 L117.03,229.82 L119.07,229.26 L121.12,228.7 L123.17,228.14 L125.22,227.58 L127.27,227.01 L129.31,226.45 L131.36,225.89 L133.41,225.33 L135.46,224.77 L137.51,224.21 L139.56,223.65 L141.6,223.09 L143.65,222.53 L145.7,221.97 L147.75,221.41 L149.8,220.85 L151.84,220.29 L153.89,219.73 L155.94,219.17 L157.99,218.61 L160.04,218.05 L162.08,217.5 L164.13,216.95 L166.18,216.41 L168.23,215.87 L170.28,215.33 L172.32,214.8 L174.37,214.27 L176.42,213.75 L178.47,213.23 L180.52,212.72 L182.56,212.21 L184.61,211.71 L186.66,211.21 L188.71,210.71 L190.76,210.22 L192.8,209.73 L194.85,209.25 L196.9,208.77 L198.95,208.29 L201,207.82 L203.04,207.36 L205.09,206.9 L207.14,206.44 L209.19,205.99 L211.24,205.54 L213.29,205.09 L215.33,204.65 L217.38,204.22 L219.43,203.79 L221.48,203.36 L223.53,202.94 L225.57,202.52 L227.62,202.11 L229.67,201.7 L231.72,201.29 L233.77,200.89 L235.81,200.5 L237.86,200.11 L239.91,199.72 L241.96,199.34 L244.01,198.96 L246.05,198.59 L248.1,198.22 L250.15,197.85 L252.2,197.49 L254.25,197.14 L256.29,196.78 L258.34,196.44 L260.39,196.1 L262.44,195.76 L264.49,195.42 L266.53,195.09 L268.58,194.77 L270.63,194.45 L272.68,194.13 L274.73,193.82 L276.78,193.52 L278.82,193.21 L280.87,192.92 L282.92,192.62 L284.97,192.33 L287.02,192.05 L289.06,191.77 L291.11,191.5 L293.16,191.23 L295.21,190.96 L297.26,190.7 L299.3,190.44 L301.35,190.18 L303.4,189.92" fill="none" stroke="#000" stroke-width="0.9"/>
<path d="M39.2,252.91 L41.25,252.4 L43.3,251.9 L45.34,251.39 L47.39,250.89 L49.44,250.38 L51.49,249.88 L53.54,249.37 L55.58,248.87 L57.63,248.36 L59.68,247.86 L61.73,247.35 L63.78,246.85 L65.82,246.34 L67.87,245.84 L69.92,245.33 L71.97,244.83 L74.02,244.32 L76.07,243.82 L78.11,243.31 L80.16,242.81 L82.21,242.3 L84.26,241.8 L86.31,241.29 L88.35,240.79 L90.4,240.28 L92.45,239.78 L94.5,239.27 L96.55,238.77 L98.59,238.26 L100.64,237.75 L102.69,237.25 L104.74,236.74 L106.79,236.24 L108.83,235.73 L110.88,235.23 L112.93,234.72 L114.98,234.22 L117.03,233.71 L119.07,233.21 L121.12,232.7 L123.17,232.2 L125.22,231.69 L127.27,231.19 L129.31,230.68 L131.36,230.18 L133.41,229.67 L135.46,229.17 L137.51,228.66 L139.56,228.16 L141.6,227.65 L143.65,227.15 L145.7,226.64 L147.75,226.14 L149.8,225.63 L151.84,225.13 L153.89,224.62 L155.94,224.12 L157.99,223.61 L160.04,223.11 L162.08,222.6 L164.13,222.1 L166.18,221.59 L168.23,221.09 L170.28,220.58 L172.32,220.07 L174.37,219.57 L176.42,219.06 L178.47,218.56 L180.52,218.06 L182.56,217.57 L184.61,217.08 L186.66,216.6 L188.71,216.12 L190.76,215.65 L192.8,215.18 L194.85,214.72 L196.9,214.26 L198.95,213.81 L201,213.36 L203.04,212.92 L205.09,212.48 L207.14,212.05 L209.19,211.62 L211.24,211.2 L213.29,210.78 L215.33,210.36 L217.38,209.95 L219.43,209.55 L221.48,209.14 L223.53,208.75 L225.57,208.35 L227.62,207.96 L229.67,207.58 L231.72,207.2 L233.77,206.82 L235.81,206.45 L237.86,206.08 L239.91,205.71 L241.96,205.35 L244.01,204.99 L246.05,204.64 L248.1,204.29 L250.15,203.94 L252.2,203.59 L254.25,203.25 L256.29,202.92 L258.34,202.58 L260.39,202.25 L262.44,201.92 L264.49,201.6 L266.53,201.27 L268.58,200.95 L270.63,200.64 L272.68,200.32 L274.73,200.01 L276.78,199.7 L278.82,199.4 L280.87,199.09 L282.92,198.79 L284.97,198.49 L287.02,198.2 L289.06,197.9 L291.11,197.61 L293.16,197.32 L295.21,197.03 L297.26,196.75 L299.3,196.46 L301.35,196.18 L303.4,195.9" fill="none" stroke="#000" stroke-width="0.9"/>
<path d="M39.2,259.83 L41.25,259.32 L43.3,258.8 L45.34,258.29 L47.39,257.78 L49.44,257.27 L51.49,256.76 L53.54,256.25 L55.58,255.73 L57.63,255.22 L59.68,254.71 L61.73,254.2 L63.78,253.69 L65.82,253.17 L67.87,252.66 L69.92,252.15 L71.97,251.64 L74.02,251.13 L76.07,250.62 L78.11,250.1 L80.16,249.59 L82.21,249.08 L84.26,248.57 L86.31,248.06 L88.35,247.54 L90.4,247.03 L92.45,246.52 L94.5,246.01 L96.55,245.5 L98.59,244.99 L100.64,244.47 L102.69,243.96 L104.74,243.45 L106.79,242.94 L108.83,242.43 L110.88,241.91 L112.93,241.4 L114.98,240.89 L117.03,240.38 L119.07,239.87 L121.12,239.36 L123.17,238.84 L125.22,238.33 L127.27,237.82 L129.31,237.31 L131.36,236.8 L133.41,236.28 L135.46,235.77 L137.51,235.26 L139.56,234.75 L141.6,234.24 L143.65,233.73 L145.7,233.21 L147.75,232.7 L149.8,232.19 L151.84,231.68 L153.89,231.17 L155.94,230.65 L157.99,230.14 L160.04,229.63 L162.08,229.12 L164.13,228.61 L166.18,228.1 L168.23,227.58 L170.28,227.07 L172.32,226.56 L174.37,226.05 L176.42,225.54 L178.47,225.02 L180.52,224.51 L182.56,224 L184.61,223.49 L186.66,222.98 L188.71,222.47 L190.76,221.95 L192.8,221.44 L194.85,220.93 L196.9,220.42 L198.95,219.91 L201,219.39 L203.04,218.88 L205.09,218.38 L207.14,217.88 L209.19,217.39 L211.24,216.91 L213.29,216.45 L215.33,215.99 L217.38,215.53 L219.43,215.09 L221.48,214.66 L223.53,214.23 L225.57,213.82 L227.62,213.41 L229.67,213 L231.72,212.61 L233.77,212.22 L235.81,211.84 L237.86,211.46 L239.91,211.1 L241.96,210.73 L244.01,210.38 L246.05,210.03 L248.1,209.68 L250.15,209.35 L252.2,209.01 L254.25,208.68 L256.29,208.36 L258.34,208.04 L260.39,207.72 L262.44,207.41 L264.49,207.1 L266.53,206.8 L268.58,206.5 L270.63,206.2 L272.68,205.91 L274.73,205.62 L276.78,205.33 L278.82,205.04 L280.87,204.76 L282.92,204.48 L284.97,204.2 L287.02,203.92 L289.06,203.64 L291.11,203.36 L293.16,203.09 L295.21,202.81 L297.26,202.54 L299.3,202.26 L301.35,201.99 L303.4,201.71" fill="none" stroke="#000" stroke-width="0.9"/>
<path d="M39.2,263.97 L41.25,263.49 L43.3,263.01 L45.34,262.53 L47.39,262.05 L49.44,261.57 L51.49,261.08 L53.54,260.6 L55.58,260.12 L57.63,259.64 L59.68,259.16 L61.73,258.68 L63.78,258.2 L65.82,257.71 L67.87,257.23 L69.92,256.75 L71.97,256.27 L74.02,255.79 L76.07,255.31 L78.11,254.83 L80.16,254.35 L82.21,253.86 L84.26,253.38 L86.31,252.9 L88.35,252.42 L90.4,251.94 L92.45,251.46 L94.5,250.98 L96.55,250.49 L98.59,250.01 L100.64,249.53 L102.69,249.05 L104.74,248.57 L106.79,248.09 L108.83,247.61 L110.88,247.12 L112.93,246.64 L114.98,246.16 L117.03,245.68 L119.07,245.2 L121.12,244.72 L123.17,244.24 L125.22,243.75 L127.27,243.27 L129.31,242.79 L131.36,242.31 L133.41,241.83 L135.46,241.35 L137.51,240.87 L139.56,240.39 L141.6,239.9 L143.65,239.42 L145.7,238.94 L147.75,238.46 L149.8,237.98 L151.84,237.5 L153.89,237.02 L155.94,236.53 L157.99,236.05 L160.04,235.57 L162.08,235.09 L164.13,234.61 L166.18,234.13 L168.23,233.65 L170.28,233.16 L172.32,232.68 L174.37,232.2 L176.42,231.72 L178.47,231.24 L180.52,230.76 L182.56,230.28 L184.61,229.79 L186.66,229.31 L188.71,228.83 L190.76,228.35 L192.8,227.87 L194.85,227.39 L196.9,226.91 L198.95,226.43 L201,225.94 L203.04,225.46 L205.09,224.98 L207.14,224.5 L209.19,224.02 L211.24,223.54 L213.29,223.06 L215.33,222.57 L217.38,222.09 L219.43,221.61 L221.48,221.13 L223.53,220.65 L225.57,220.17 L227.62,219.69 L229.67,219.2 L231.72,218.73 L233.77,218.25 L235.81,217.79 L237.86,217.34 L239.91,216.89 L241.96,216.45 L244.01,216.02 L246.05,215.6 L248.1,215.19 L250.15,214.79 L252.2,214.39 L254.25,214 L256.29,213.63 L258.34,213.26 L260.39,212.89 L262.44,212.54 L264.49,212.2 L266.53,211.86 L268.58,211.53 L270.63,211.21 L272.68,210.9 L274.73,210.6 L276.78,210.31 L278.82,210.02 L280.87,209.74 L282.92,209.48 L284.97,209.22 L287.02,208.96 L289.06,208.72 L291.11,208.49 L293.16,208.26 L295.21,208.04 L297.26,207.83 L299.3,207.63 L301.35,207.44 L303.4,207.24" fill="none" stroke="#000" stroke-width="0.9"/>
<path d="M39.2,258.9 L41.25,258.51 L43.3,258.13 L45.34,257.75 L47.39,257.37 L49.44,256.99 L51.49,256.6 L53.54,256.22 L55.58,255.84 L57.63,255.46 L59.68,255.08 L61.73,254.69 L63.78,254.31 L65.82,253.93 L67.87,253.55 L69.92,253.16 L71.97,252.78 L74.02,252.4 L76.07,252.02 L78.11,251.64 L80.16,251.25 L82.21,250.87 L84.26,250.49 L86.31,250.11 L88.35,249.72 L90.4,249.34 L92.45,248.96 L94.5,248.58 L96.55,248.2 L98.59,247.81 L100.64,247.43 L102.69,247.05 L104.74,246.67 L106.79,246.28 L108.83,245.9 L110.88,245.52 L112.93,245.14 L114.98,244.76 L117.03,244.37 L119.07,243.99 L121.12,243.61 L123.17,243.23 L125.22,242.85 L127.27,242.46 L129.31,242.08 L131.36,241.7 L133.41,241.32 L135.46,240.93 L137.51,240.55 L139.56,240.17 L141.6,239.79 L143.65,239.41 L145.7,239.02 L147.75,238.64 L149.8,238.26 L151.84,237.88 L153.89,237.49 L155.94,237.11 L157.99,236.73 L160.04,236.35 L162.08,235.97 L164.13,235.58 L166.18,235.2 L168.23,234.82 L170.28,234.44 L172.32,234.05 L174.37,233.67 L176.42,233.29 L178.47,232.91 L180.52,232.53 L182.56,232.14 L184.61,231.76 L186.66,231.38 L188.71,231 L190.76,230.62 L192.8,230.23 L194.85,229.85 L196.9,229.47 L198.95,229.09 L201,228.7 L203.04,228.32 L205.09,227.94 L207.14,227.56 L209.19,227.18 L211.24,226.79 L213.29,226.41 L215.33,226.03 L217.38,225.65 L219.43,225.26 L221.48,224.88 L223.53,224.5 L225.57,224.12 L227.62,223.74 L229.67,223.35 L231.72,222.97 L233.77,222.59 L235.81,222.21 L237.86,221.82 L239.91,221.44 L241.96,221.06 L244.01,220.68 L246.05,220.3 L248.1,219.91 L250.15,219.53 L252.2,219.15 L254.25,218.77 L256.29,218.39 L258.34,218.03 L260.39,217.67 L262.44,217.33 L264.49,216.99 L266.53,216.66 L268.58,216.34 L270.63,216.02 L272.68,215.72 L274.73,215.42 L276.78,215.14 L278.82,214.86 L280.87,214.59 L282.92,214.33 L284.97,214.08 L287.02,213.84 L289.06,213.6 L291.11,213.38 L293.16,213.16 L295.21,212.95 L297.26,212.75 L299.3,212.56 L301.35,212.38 L303.4,212.19" fill="none" stroke="#000" stroke-width="0.9"/>
<path d="M39.2,253.31 L41.25,253.03 L43.3,252.74 L45.34,252.46 L47.39,252.18 L49.44,251.89 L51.49,251.61 L53.54,251.33 L55.58,251.04 L57.63,250.76 L59.68,250.47 L61.73,250.19 L63.78,249.91 L65.82,249.62 L67.87,249.34 L69.92,249.06 L71.97,248.77 L74.02,248.49 L76.07,248.21 L78.11,247.92 L80.16,247.64 L82.21,247.36 L84.26,247.07 L86.31,246.79 L88.35,246.5 L90.4,246.22 L92.45,245.94 L94.5,245.65 L96.55,245.37 L98.59,245.09 L100.64,244.8 L102.69,244.52 L104.74,244.24 L106.79,243.95 L108.83,243.67 L110.88,243.39 L112.93,243.1 L114.98,242.82 L117.03,242.53 L119.07,242.25 L121.12,241.97 L123.17,241.68 L125.22,241.4 L127.27,241.12 L129.31,240.83 L131.36,240.55 L133.41,240.27 L135.46,239.98 L137.51,239.7 L139.56,239.42 L141.6,239.13 L143.65,238.85 L145.7,238.56 L147.75,238.28 L149.8,238 L151.84,237.71 L153.89,237.43 L155.94,237.15 L157.99,236.86 L160.04,236.58 L162.08,236.3 L164.13,236.01 L166.18,235.73 L168.23,235.45 L170.28,235.16 L172.32,234.88 L174.37,234.59 L176.42,234.31 L178.47,234.03 L180.52,233.74 L182.56,233.46 L184.61,233.18 L186.66,232.89 L188.71,232.61 L190.76,232.33 L192.8,232.04 L194.85,231.76 L196.9,231.48 L198.95,231.19 L201,230.91 L203.04,230.62 L205.09,230.34 L207.14,230.06 L209.19,229.77 L211.24,229.49 L213.29,229.21 L215.33,228.92 L217.38,228.64 L219.43,228.36 L221.48,228.07 L223.53,227.79 L225.57,227.51 L227.62,227.22 L229.67,226.94 L231.72,226.65 L233.77,226.37 L235.81,226.09 L237.86,225.8 L239.91,225.52 L241.96,225.24 L244.01,224.95 L246.05,224.67 L248.1,224.39 L250.15,224.1 L252.2,223.82 L254.25,223.54 L256.29,223.25 L258.34,222.97 L260.39,222.68 L262.44,222.4 L264.49,222.12 L266.53,221.83 L268.58,221.55 L270.63,221.27 L272.68,220.98 L274.73,220.7 L276.78,220.42 L278.82,220.13 L280.87,219.85 L282.92,219.57 L284.97,219.28 L287.02,219 L289.06,218.71 L291.11,218.43 L293.16,218.15 L295.21,217.86 L297.26,217.58 L299.3,217.3 L301.35,217.01 L303.4,216.73" fill="none" stroke="#000" stroke-width="0.9"/>
<path d="M40.2,220.5 L44.2,220.5 L44.7,218.7 L45.7,218.7 L46.2,216.6 L51.2,216.6 L51.7,214.49 L56.7,214.49 L57.2,212.39 L63.2,212.39 L63.7,210.29 L68.2,210.29 L68.7,208.19 L73.7,208.19 L74.2,206.08 L79.7,206.08 L80.2,203.98 L85.7,203.98 L86.2,201.88 L91.7,201.88 L92.2,199.77 L97.2,199.77 L97.7,197.67 L102.7,197.67 L103.2,195.57 L110.2,195.57 L110.7,193.46 L117.2,193.46 L117.7,191.36 L123.7,191.36 L124.2,189.26 L131.2,189.26 L131.7,187.15 L138.7,187.15 L139.2,185.05 L146.2,185.05 L146.7,182.95 L154.2,182.95 L154.7,180.85 L161.7,180.85 L162.2,178.74 L170.7,178.74 L171.2,176.64 L178.7,176.64 L179.2,174.54 L188.7,174.54 L189.2,172.43 L197.2,172.43 L197.7,170.33 L207.7,170.33 L208.2,168.23 L217.7,168.23 L218.2,166.12 L227.7,166.12 L228.2,164.02 L239.2,164.02 L239.7,161.92 L249.7,161.92 L250.2,159.82 L260.7,159.82 L261.2,157.71 L272.7,157.71 L273.2,155.61 L283.7,155.61 L284.2,153.51 L296.7,153.51 L297.2,151.4 L302.2,151.4" fill="none" stroke="#000" stroke-width="0.8" stroke-linejoin="round"/>
</g>
<clipPath id="cTR"><rect x="371.6" y="21.3" width="258.2" height="197.7"/></clipPath>
<g clip-path="url(#cTR)">
<path d="M369.6,208.19 L372.6,208.19 L373.1,206.08 L375.6,206.08 L376.1,203.98 L378.1,203.98 L378.6,201.88 L381.1,201.88 L381.6,199.77 L384.1,199.77 L384.6,197.67 L387.6,197.67 L388.1,195.57 L390.6,195.57 L391.1,193.46 L394.1,193.46 L394.6,191.36 L397.6,191.36 L398.1,189.26 L400.6,189.26 L401.1,187.15 L404.1,187.15 L404.6,185.05 L407.6,185.05 L408.1,182.95 L411.6,182.95 L412.1,180.85 L415.6,180.85 L416.1,178.74 L420.1,178.74 L420.6,176.64 L424.6,176.64 L425.1,174.54 L429.6,174.54 L430.1,172.43 L435.1,172.43 L435.6,170.33 L440.1,170.33 L440.6,168.23 L444.6,168.23 L445.1,166.12 L449.6,166.12 L450.1,164.02 L454.1,164.02 L454.6,161.92 L459.6,161.92 L460.1,159.82 L465.1,159.82 L465.6,157.71 L471.6,157.71 L472.1,155.61 L478.1,155.61 L478.6,153.51 L483.6,153.51 L484.1,151.4 L491.1,151.4 L491.6,149.3 L497.1,149.3 L497.6,147.2 L504.1,147.2 L504.6,145.09 L511.1,145.09 L511.6,142.99 L518.6,142.99 L519.1,140.89 L525.6,140.89 L526.1,138.79 L532.6,138.79 L533.1,136.68 L540.1,136.68 L540.6,134.58 L548.1,134.58 L548.6,132.48 L555.6,132.48 L556.1,130.37 L564.1,130.37 L564.6,128.27 L572.6,128.27 L573.1,126.17 L581.6,126.17 L582.1,124.06 L591.6,124.06 L592.1,121.96 L600.1,121.96 L600.6,119.86 L610.6,119.86 L611.1,117.76 L620.1,117.76 L620.6,115.65 L631.6,115.65 L632.8,115.65 L632.8,224 L368.6,224 L368.6,208.19Z" fill="#00008f"/>
<path d="M368.6,225.86 L370.65,224.45 L372.7,223.05 L374.74,221.64 L376.79,220.24 L378.84,218.83 L380.89,217.43 L382.94,216.05 L384.98,214.7 L387.03,213.36 L389.08,212.04 L391.13,210.75 L393.18,209.47 L395.22,208.22 L397.27,206.98 L399.32,205.76 L401.37,204.57 L403.42,203.39 L405.47,202.23 L407.51,201.09 L409.56,199.96 L411.61,198.85 L413.66,197.76 L415.71,196.69 L417.75,195.64 L419.8,194.6 L421.85,193.57 L423.9,192.56 L425.95,191.57 L427.99,190.59 L430.04,189.63 L432.09,188.68 L434.14,187.75 L436.19,186.83 L438.23,185.92 L440.28,185.03 L442.33,184.15 L444.38,183.28 L446.43,182.43 L448.47,181.59 L450.52,180.75 L452.57,179.93 L454.62,179.13 L456.67,178.33 L458.71,177.54 L460.76,176.77 L462.81,176 L464.86,175.24 L466.91,174.5 L468.96,173.76 L471,173.03 L473.05,172.31 L475.1,171.6 L477.15,170.89 L479.2,170.2 L481.24,169.51 L483.29,168.83 L485.34,168.15 L487.39,167.49 L489.44,166.83 L491.48,166.17 L493.53,165.53 L495.58,164.89 L497.63,164.26 L499.68,163.63 L501.72,163.02 L503.77,162.4 L505.82,161.8 L507.87,161.2 L509.92,160.6 L511.96,160.02 L514.01,159.43 L516.06,158.86 L518.11,158.29 L520.16,157.72 L522.2,157.16 L524.25,156.61 L526.3,156.06 L528.35,155.52 L530.4,154.98 L532.44,154.44 L534.49,153.91 L536.54,153.39 L538.59,152.86 L540.64,152.35 L542.69,151.83 L544.73,151.33 L546.78,150.82 L548.83,150.32 L550.88,149.82 L552.93,149.33 L554.97,148.84 L557.02,148.35 L559.07,147.87 L561.12,147.39 L563.17,146.91 L565.21,146.44 L567.26,145.96 L569.31,145.49 L571.36,145.03 L573.41,144.56 L575.45,144.1 L577.5,143.64 L579.55,143.18 L581.6,142.73 L583.65,142.27 L585.69,141.82 L587.74,141.37 L589.79,140.92 L591.84,140.47 L593.89,140.02 L595.93,139.58 L597.98,139.13 L600.03,138.69 L602.08,138.25 L604.13,137.8 L606.18,137.36 L608.22,136.92 L610.27,136.48 L612.32,136.04 L614.37,135.6 L616.42,135.15 L618.46,134.71 L620.51,134.27 L622.56,133.83 L624.61,133.39 L626.66,132.94 L628.7,132.5 L630.75,132.05 L632.8,131.61 L632.8,259 L368.6,259Z" fill="#0000cf"/>
<path d="M368.6,236.01 L370.65,234.91 L372.7,233.8 L374.74,232.7 L376.79,231.59 L378.84,230.49 L380.89,229.39 L382.94,228.28 L384.98,227.18 L387.03,226.07 L389.08,224.97 L391.13,223.87 L393.18,222.76 L395.22,221.66 L397.27,220.56 L399.32,219.45 L401.37,218.35 L403.42,217.25 L405.47,216.17 L407.51,215.1 L409.56,214.04 L411.61,213 L413.66,211.97 L415.71,210.95 L417.75,209.95 L419.8,208.96 L421.85,207.98 L423.9,207.01 L425.95,206.05 L427.99,205.11 L430.04,204.18 L432.09,203.26 L434.14,202.35 L436.19,201.45 L438.23,200.56 L440.28,199.69 L442.33,198.82 L444.38,197.97 L446.43,197.12 L448.47,196.29 L450.52,195.47 L452.57,194.66 L454.62,193.86 L456.67,193.06 L458.71,192.28 L460.76,191.51 L462.81,190.75 L464.86,190 L466.91,189.25 L468.96,188.52 L471,187.79 L473.05,187.08 L475.1,186.37 L477.15,185.67 L479.2,184.98 L481.24,184.3 L483.29,183.63 L485.34,182.96 L487.39,182.3 L489.44,181.65 L491.48,181.01 L493.53,180.38 L495.58,179.75 L497.63,179.13 L499.68,178.52 L501.72,177.92 L503.77,177.32 L505.82,176.73 L507.87,176.14 L509.92,175.56 L511.96,174.99 L514.01,174.43 L516.06,173.87 L518.11,173.32 L520.16,172.77 L522.2,172.23 L524.25,171.69 L526.3,171.16 L528.35,170.64 L530.4,170.12 L532.44,169.6 L534.49,169.09 L536.54,168.59 L538.59,168.09 L540.64,167.59 L542.69,167.1 L544.73,166.61 L546.78,166.13 L548.83,165.65 L550.88,165.18 L552.93,164.71 L554.97,164.24 L557.02,163.77 L559.07,163.31 L561.12,162.86 L563.17,162.4 L565.21,161.95 L567.26,161.5 L569.31,161.05 L571.36,160.61 L573.41,160.17 L575.45,159.73 L577.5,159.3 L579.55,158.86 L581.6,158.43 L583.65,158 L585.69,157.57 L587.74,157.14 L589.79,156.71 L591.84,156.29 L593.89,155.86 L595.93,155.44 L597.98,155.02 L600.03,154.6 L602.08,154.17 L604.13,153.75 L606.18,153.33 L608.22,152.91 L610.27,152.49 L612.32,152.07 L614.37,151.65 L616.42,151.23 L618.46,150.81 L620.51,150.38 L622.56,149.96 L624.61,149.54 L626.66,149.11 L628.7,148.69 L630.75,148.26 L632.8,147.83 L632.8,259 L368.6,259Z" fill="#0010ff"/>
<path d="M368.6,247.23 L370.65,246.21 L372.7,245.19 L374.74,244.17 L376.79,243.15 L378.84,242.13 L380.89,241.12 L382.94,240.1 L384.98,239.08 L387.03,238.06 L389.08,237.04 L391.13,236.02 L393.18,235 L395.22,233.98 L397.27,232.96 L399.32,231.94 L401.37,230.93 L403.42,229.91 L405.47,228.89 L407.51,227.87 L409.56,226.85 L411.61,225.83 L413.66,224.81 L415.71,223.79 L417.75,222.77 L419.8,221.75 L421.85,220.74 L423.9,219.72 L425.95,218.7 L427.99,217.68 L430.04,216.68 L432.09,215.71 L434.14,214.75 L436.19,213.81 L438.23,212.89 L440.28,211.99 L442.33,211.11 L444.38,210.24 L446.43,209.39 L448.47,208.56 L450.52,207.75 L452.57,206.95 L454.62,206.16 L456.67,205.39 L458.71,204.64 L460.76,203.9 L462.81,203.17 L464.86,202.46 L466.91,201.75 L468.96,201.06 L471,200.39 L473.05,199.72 L475.1,199.07 L477.15,198.42 L479.2,197.79 L481.24,197.16 L483.29,196.55 L485.34,195.94 L487.39,195.34 L489.44,194.75 L491.48,194.17 L493.53,193.59 L495.58,193.02 L497.63,192.46 L499.68,191.9 L501.72,191.35 L503.77,190.81 L505.82,190.26 L507.87,189.73 L509.92,189.19 L511.96,188.66 L514.01,188.13 L516.06,187.6 L518.11,187.08 L520.16,186.56 L522.2,186.03 L524.25,185.51 L526.3,184.99 L528.35,184.47 L530.4,183.95 L532.44,183.43 L534.49,182.91 L536.54,182.39 L538.59,181.87 L540.64,181.35 L542.69,180.83 L544.73,180.32 L546.78,179.8 L548.83,179.29 L550.88,178.78 L552.93,178.27 L554.97,177.77 L557.02,177.27 L559.07,176.77 L561.12,176.27 L563.17,175.78 L565.21,175.29 L567.26,174.8 L569.31,174.32 L571.36,173.84 L573.41,173.36 L575.45,172.89 L577.5,172.43 L579.55,171.96 L581.6,171.51 L583.65,171.06 L585.69,170.61 L587.74,170.17 L589.79,169.73 L591.84,169.31 L593.89,168.88 L595.93,168.47 L597.98,168.05 L600.03,167.65 L602.08,167.25 L604.13,166.86 L606.18,166.48 L608.22,166.11 L610.27,165.74 L612.32,165.38 L614.37,165.03 L616.42,164.68 L618.46,164.35 L620.51,164.02 L622.56,163.7 L624.61,163.39 L626.66,163.09 L628.7,162.8 L630.75,162.51 L632.8,162.23 L632.8,259 L368.6,259Z" fill="#0050ff"/>
<path d="M368.6,247.92 L370.65,247.19 L372.7,246.47 L374.74,245.74 L376.79,245.02 L378.84,244.29 L380.89,243.56 L382.94,242.84 L384.98,242.11 L387.03,241.38 L389.08,240.66 L391.13,239.93 L393.18,239.21 L395.22,238.48 L397.27,237.75 L399.32,237.03 L401.37,236.3 L403.42,235.57 L405.47,234.85 L407.51,234.12 L409.56,233.4 L411.61,232.67 L413.66,231.94 L415.71,231.22 L417.75,230.49 L419.8,229.77 L421.85,229.04 L423.9,228.31 L425.95,227.59 L427.99,226.86 L430.04,226.13 L432.09,225.41 L434.14,224.68 L436.19,223.96 L438.23,223.23 L440.28,222.5 L442.33,221.78 L444.38,221.05 L446.43,220.32 L448.47,219.6 L450.52,218.87 L452.57,218.15 L454.62,217.43 L456.67,216.72 L458.71,216.02 L460.76,215.32 L462.81,214.63 L464.86,213.95 L466.91,213.27 L468.96,212.59 L471,211.93 L473.05,211.27 L475.1,210.61 L477.15,209.97 L479.2,209.32 L481.24,208.69 L483.29,208.06 L485.34,207.43 L487.39,206.81 L489.44,206.2 L491.48,205.59 L493.53,204.99 L495.58,204.39 L497.63,203.8 L499.68,203.21 L501.72,202.63 L503.77,202.05 L505.82,201.48 L507.87,200.92 L509.92,200.36 L511.96,199.8 L514.01,199.25 L516.06,198.71 L518.11,198.16 L520.16,197.63 L522.2,197.1 L524.25,196.57 L526.3,196.05 L528.35,195.53 L530.4,195.02 L532.44,194.51 L534.49,194.01 L536.54,193.51 L538.59,193.02 L540.64,192.53 L542.69,192.04 L544.73,191.56 L546.78,191.08 L548.83,190.61 L550.88,190.14 L552.93,189.68 L554.97,189.22 L557.02,188.76 L559.07,188.31 L561.12,187.86 L563.17,187.41 L565.21,186.97 L567.26,186.53 L569.31,186.1 L571.36,185.66 L573.41,185.24 L575.45,184.81 L577.5,184.39 L579.55,183.97 L581.6,183.56 L583.65,183.15 L585.69,182.74 L587.74,182.34 L589.79,181.94 L591.84,181.54 L593.89,181.14 L595.93,180.75 L597.98,180.36 L600.03,179.97 L602.08,179.59 L604.13,179.21 L606.18,178.83 L608.22,178.46 L610.27,178.08 L612.32,177.71 L614.37,177.34 L616.42,176.98 L618.46,176.61 L620.51,176.25 L622.56,175.89 L624.61,175.54 L626.66,175.18 L628.7,174.83 L630.75,174.48 L632.8,174.13 L632.8,259 L368.6,259Z" fill="#009fff"/>
<path d="M368.6,256.84 L370.65,256.15 L372.7,255.46 L374.74,254.77 L376.79,254.08 L378.84,253.39 L380.89,252.7 L382.94,252.01 L384.98,251.32 L387.03,250.63 L389.08,249.94 L391.13,249.25 L393.18,248.56 L395.22,247.87 L397.27,247.18 L399.32,246.49 L401.37,245.8 L403.42,245.12 L405.47,244.43 L407.51,243.74 L409.56,243.05 L411.61,242.36 L413.66,241.67 L415.71,240.98 L417.75,240.29 L419.8,239.6 L421.85,238.91 L423.9,238.22 L425.95,237.53 L427.99,236.84 L430.04,236.15 L432.09,235.46 L434.14,234.77 L436.19,234.08 L438.23,233.39 L440.28,232.71 L442.33,232.02 L444.38,231.33 L446.43,230.64 L448.47,229.95 L450.52,229.26 L452.57,228.57 L454.62,227.88 L456.67,227.19 L458.71,226.5 L460.76,225.81 L462.81,225.12 L464.86,224.43 L466.91,223.74 L468.96,223.05 L471,222.36 L473.05,221.67 L475.1,220.98 L477.15,220.29 L479.2,219.61 L481.24,218.92 L483.29,218.23 L485.34,217.55 L487.39,216.89 L489.44,216.23 L491.48,215.59 L493.53,214.96 L495.58,214.33 L497.63,213.71 L499.68,213.11 L501.72,212.51 L503.77,211.92 L505.82,211.34 L507.87,210.77 L509.92,210.21 L511.96,209.66 L514.01,209.11 L516.06,208.57 L518.11,208.04 L520.16,207.52 L522.2,207 L524.25,206.49 L526.3,205.99 L528.35,205.49 L530.4,205 L532.44,204.52 L534.49,204.04 L536.54,203.57 L538.59,203.1 L540.64,202.64 L542.69,202.19 L544.73,201.74 L546.78,201.29 L548.83,200.85 L550.88,200.41 L552.93,199.98 L554.97,199.55 L557.02,199.13 L559.07,198.71 L561.12,198.29 L563.17,197.88 L565.21,197.47 L567.26,197.06 L569.31,196.66 L571.36,196.25 L573.41,195.85 L575.45,195.46 L577.5,195.06 L579.55,194.67 L581.6,194.27 L583.65,193.88 L585.69,193.49 L587.74,193.1 L589.79,192.71 L591.84,192.33 L593.89,191.94 L595.93,191.55 L597.98,191.16 L600.03,190.78 L602.08,190.39 L604.13,190 L606.18,189.61 L608.22,189.22 L610.27,188.83 L612.32,188.44 L614.37,188.04 L616.42,187.65 L618.46,187.25 L620.51,186.85 L622.56,186.45 L624.61,186.04 L626.66,185.64 L628.7,185.23 L630.75,184.81 L632.8,184.4 L632.8,259 L368.6,259Z" fill="#00dfff"/>
<path d="M368.6,255.64 L370.65,255.13 L372.7,254.61 L374.74,254.09 L376.79,253.57 L378.84,253.05 L380.89,252.53 L382.94,252.01 L384.98,251.49 L387.03,250.97 L389.08,250.45 L391.13,249.93 L393.18,249.41 L395.22,248.89 L397.27,248.37 L399.32,247.85 L401.37,247.33 L403.42,246.81 L405.47,246.29 L407.51,245.77 L409.56,245.25 L411.61,244.73 L413.66,244.21 L415.71,243.69 L417.75,243.17 L419.8,242.65 L421.85,242.13 L423.9,241.61 L425.95,241.09 L427.99,240.58 L430.04,240.06 L432.09,239.54 L434.14,239.02 L436.19,238.5 L438.23,237.98 L440.28,237.46 L442.33,236.94 L444.38,236.42 L446.43,235.9 L448.47,235.38 L450.52,234.86 L452.57,234.34 L454.62,233.82 L456.67,233.3 L458.71,232.78 L460.76,232.26 L462.81,231.74 L464.86,231.22 L466.91,230.7 L468.96,230.18 L471,229.66 L473.05,229.14 L475.1,228.62 L477.15,228.1 L479.2,227.58 L481.24,227.06 L483.29,226.55 L485.34,226.03 L487.39,225.51 L489.44,224.99 L491.48,224.47 L493.53,223.95 L495.58,223.43 L497.63,222.91 L499.68,222.39 L501.72,221.87 L503.77,221.35 L505.82,220.83 L507.87,220.31 L509.92,219.79 L511.96,219.27 L514.01,218.75 L516.06,218.23 L518.11,217.72 L520.16,217.21 L522.2,216.7 L524.25,216.2 L526.3,215.7 L528.35,215.21 L530.4,214.72 L532.44,214.23 L534.49,213.74 L536.54,213.26 L538.59,212.79 L540.64,212.31 L542.69,211.84 L544.73,211.38 L546.78,210.91 L548.83,210.45 L550.88,210 L552.93,209.55 L554.97,209.1 L557.02,208.66 L559.07,208.21 L561.12,207.78 L563.17,207.34 L565.21,206.91 L567.26,206.49 L569.31,206.06 L571.36,205.65 L573.41,205.23 L575.45,204.82 L577.5,204.41 L579.55,204 L581.6,203.6 L583.65,203.21 L585.69,202.81 L587.74,202.42 L589.79,202.04 L591.84,201.65 L593.89,201.27 L595.93,200.9 L597.98,200.53 L600.03,200.16 L602.08,199.79 L604.13,199.43 L606.18,199.07 L608.22,198.72 L610.27,198.37 L612.32,198.02 L614.37,197.68 L616.42,197.34 L618.46,197.01 L620.51,196.67 L622.56,196.35 L624.61,196.02 L626.66,195.7 L628.7,195.38 L630.75,195.07 L632.8,194.75 L632.8,259 L368.6,259Z" fill="#20ffdf"/>
<path d="M368.6,260.09 L370.65,259.63 L372.7,259.16 L374.74,258.7 L376.79,258.23 L378.84,257.77 L380.89,257.31 L382.94,256.84 L384.98,256.38 L387.03,255.92 L389.08,255.45 L391.13,254.99 L393.18,254.53 L395.22,254.06 L397.27,253.6 L399.32,253.13 L401.37,252.67 L403.42,252.21 L405.47,251.74 L407.51,251.28 L409.56,250.82 L411.61,250.35 L413.66,249.89 L415.71,249.43 L417.75,248.96 L419.8,248.5 L421.85,248.03 L423.9,247.57 L425.95,247.11 L427.99,246.64 L430.04,246.18 L432.09,245.72 L434.14,245.25 L436.19,244.79 L438.23,244.33 L440.28,243.86 L442.33,243.4 L444.38,242.93 L446.43,242.47 L448.47,242.01 L450.52,241.54 L452.57,241.08 L454.62,240.62 L456.67,240.15 L458.71,239.69 L460.76,239.22 L462.81,238.76 L464.86,238.3 L466.91,237.83 L468.96,237.37 L471,236.91 L473.05,236.44 L475.1,235.98 L477.15,235.52 L479.2,235.05 L481.24,234.59 L483.29,234.12 L485.34,233.66 L487.39,233.2 L489.44,232.73 L491.48,232.27 L493.53,231.81 L495.58,231.34 L497.63,230.88 L499.68,230.42 L501.72,229.95 L503.77,229.49 L505.82,229.02 L507.87,228.56 L509.92,228.1 L511.96,227.63 L514.01,227.17 L516.06,226.71 L518.11,226.24 L520.16,225.78 L522.2,225.32 L524.25,224.85 L526.3,224.39 L528.35,223.92 L530.4,223.46 L532.44,223 L534.49,222.53 L536.54,222.07 L538.59,221.61 L540.64,221.14 L542.69,220.68 L544.73,220.21 L546.78,219.75 L548.83,219.29 L550.88,218.82 L552.93,218.36 L554.97,217.91 L557.02,217.45 L559.07,217 L561.12,216.55 L563.17,216.11 L565.21,215.67 L567.26,215.23 L569.31,214.8 L571.36,214.37 L573.41,213.94 L575.45,213.52 L577.5,213.1 L579.55,212.69 L581.6,212.27 L583.65,211.86 L585.69,211.46 L587.74,211.06 L589.79,210.66 L591.84,210.26 L593.89,209.87 L595.93,209.48 L597.98,209.1 L600.03,208.72 L602.08,208.34 L604.13,207.97 L606.18,207.59 L608.22,207.23 L610.27,206.86 L612.32,206.5 L614.37,206.15 L616.42,205.79 L618.46,205.44 L620.51,205.1 L622.56,204.75 L624.61,204.41 L626.66,204.08 L628.7,203.74 L630.75,203.41 L632.8,203.08 L632.8,259 L368.6,259Z" fill="#60ff9f"/>
<path d="M368.6,263.24 L370.65,262.84 L372.7,262.43 L374.74,262.03 L376.79,261.62 L378.84,261.22 L380.89,260.81 L382.94,260.41 L384.98,260 L387.03,259.59 L389.08,259.19 L391.13,258.78 L393.18,258.38 L395.22,257.97 L397.27,257.57 L399.32,257.16 L401.37,256.76 L403.42,256.35 L405.47,255.95 L407.51,255.54 L409.56,255.14 L411.61,254.73 L413.66,254.33 L415.71,253.92 L417.75,253.52 L419.8,253.11 L421.85,252.71 L423.9,252.3 L425.95,251.9 L427.99,251.49 L430.04,251.08 L432.09,250.68 L434.14,250.27 L436.19,249.87 L438.23,249.46 L440.28,249.06 L442.33,248.65 L444.38,248.25 L446.43,247.84 L448.47,247.44 L450.52,247.03 L452.57,246.63 L454.62,246.22 L456.67,245.82 L458.71,245.41 L460.76,245.01 L462.81,244.6 L464.86,244.2 L466.91,243.79 L468.96,243.39 L471,242.98 L473.05,242.57 L475.1,242.17 L477.15,241.76 L479.2,241.36 L481.24,240.95 L483.29,240.55 L485.34,240.14 L487.39,239.74 L489.44,239.33 L491.48,238.93 L493.53,238.52 L495.58,238.12 L497.63,237.71 L499.68,237.31 L501.72,236.9 L503.77,236.5 L505.82,236.09 L507.87,235.69 L509.92,235.28 L511.96,234.88 L514.01,234.47 L516.06,234.07 L518.11,233.66 L520.16,233.25 L522.2,232.85 L524.25,232.44 L526.3,232.04 L528.35,231.63 L530.4,231.23 L532.44,230.82 L534.49,230.42 L536.54,230.01 L538.59,229.61 L540.64,229.2 L542.69,228.8 L544.73,228.39 L546.78,227.99 L548.83,227.58 L550.88,227.18 L552.93,226.77 L554.97,226.37 L557.02,225.96 L559.07,225.56 L561.12,225.15 L563.17,224.74 L565.21,224.34 L567.26,223.93 L569.31,223.53 L571.36,223.12 L573.41,222.72 L575.45,222.31 L577.5,221.91 L579.55,221.5 L581.6,221.1 L583.65,220.69 L585.69,220.29 L587.74,219.88 L589.79,219.48 L591.84,219.07 L593.89,218.67 L595.93,218.26 L597.98,217.86 L600.03,217.45 L602.08,217.05 L604.13,216.64 L606.18,216.23 L608.22,215.83 L610.27,215.42 L612.32,215.02 L614.37,214.61 L616.42,214.21 L618.46,213.8 L620.51,213.4 L622.56,212.99 L624.61,212.59 L626.66,212.18 L628.7,211.78 L630.75,211.37 L632.8,210.97 L632.8,259 L368.6,259Z" fill="#afff50"/>
<path d="M368.6,225.86 L370.65,224.45 L372.7,223.05 L374.74,221.64 L376.79,220.24 L378.84,218.83 L380.89,217.43 L382.94,216.05 L384.98,214.7 L387.03,213.36 L389.08,212.04 L391.13,210.75 L393.18,209.47 L395.22,208.22 L397.27,206.98 L399.32,205.76 L401.37,204.57 L403.42,203.39 L405.47,202.23 L407.51,201.09 L409.56,199.96 L411.61,198.85 L413.66,197.76 L415.71,196.69 L417.75,195.64 L419.8,194.6 L421.85,193.57 L423.9,192.56 L425.95,191.57 L427.99,190.59 L430.04,189.63 L432.09,188.68 L434.14,187.75 L436.19,186.83 L438.23,185.92 L440.28,185.03 L442.33,184.15 L444.38,183.28 L446.43,182.43 L448.47,181.59 L450.52,180.75 L452.57,179.93 L454.62,179.13 L456.67,178.33 L458.71,177.54 L460.76,176.77 L462.81,176 L464.86,175.24 L466.91,174.5 L468.96,173.76 L471,173.03 L473.05,172.31 L475.1,171.6 L477.15,170.89 L479.2,170.2 L481.24,169.51 L483.29,168.83 L485.34,168.15 L487.39,167.49 L489.44,166.83 L491.48,166.17 L493.53,165.53 L495.58,164.89 L497.63,164.26 L499.68,163.63 L501.72,163.02 L503.77,162.4 L505.82,161.8 L507.87,161.2 L509.92,160.6 L511.96,160.02 L514.01,159.43 L516.06,158.86 L518.11,158.29 L520.16,157.72 L522.2,157.16 L524.25,156.61 L526.3,156.06 L528.35,155.52 L530.4,154.98 L532.44,154.44 L534.49,153.91 L536.54,153.39 L538.59,152.86 L540.64,152.35 L542.69,151.83 L544.73,151.33 L546.78,150.82 L548.83,150.32 L550.88,149.82 L552.93,149.33 L554.97,148.84 L557.02,148.35 L559.07,147.87 L561.12,147.39 L563.17,146.91 L565.21,146.44 L567.26,145.96 L569.31,145.49 L571.36,145.03 L573.41,144.56 L575.45,144.1 L577.5,143.64 L579.55,143.18 L581.6,142.73 L583.65,142.27 L585.69,141.82 L587.74,141.37 L589.79,140.92 L591.84,140.47 L593.89,140.02 L595.93,139.58 L597.98,139.13 L600.03,138.69 L602.08,138.25 L604.13,137.8 L606.18,137.36 L608.22,136.92 L610.27,136.48 L612.32,136.04 L614.37,135.6 L616.42,135.15 L618.46,134.71 L620.51,134.27 L622.56,133.83 L624.61,133.39 L626.66,132.94 L628.7,132.5 L630.75,132.05 L632.8,131.61" fill="none" stroke="#000" stroke-width="0.9"/>
<path d="M368.6,236.01 L370.65,234.91 L372.7,233.8 L374.74,232.7 L376.79,231.59 L378.84,230.49 L380.89,229.39 L382.94,228.28 L384.98,227.18 L387.03,226.07 L389.08,224.97 L391.13,223.87 L393.18,222.76 L395.22,221.66 L397.27,220.56 L399.32,219.45 L401.37,218.35 L403.42,217.25 L405.47,216.17 L407.51,215.1 L409.56,214.04 L411.61,213 L413.66,211.97 L415.71,210.95 L417.75,209.95 L419.8,208.96 L421.85,207.98 L423.9,207.01 L425.95,206.05 L427.99,205.11 L430.04,204.18 L432.09,203.26 L434.14,202.35 L436.19,201.45 L438.23,200.56 L440.28,199.69 L442.33,198.82 L444.38,197.97 L446.43,197.12 L448.47,196.29 L450.52,195.47 L452.57,194.66 L454.62,193.86 L456.67,193.06 L458.71,192.28 L460.76,191.51 L462.81,190.75 L464.86,190 L466.91,189.25 L468.96,188.52 L471,187.79 L473.05,187.08 L475.1,186.37 L477.15,185.67 L479.2,184.98 L481.24,184.3 L483.29,183.63 L485.34,182.96 L487.39,182.3 L489.44,181.65 L491.48,181.01 L493.53,180.38 L495.58,179.75 L497.63,179.13 L499.68,178.52 L501.72,177.92 L503.77,177.32 L505.82,176.73 L507.87,176.14 L509.92,175.56 L511.96,174.99 L514.01,174.43 L516.06,173.87 L518.11,173.32 L520.16,172.77 L522.2,172.23 L524.25,171.69 L526.3,171.16 L528.35,170.64 L530.4,170.12 L532.44,169.6 L534.49,169.09 L536.54,168.59 L538.59,168.09 L540.64,167.59 L542.69,167.1 L544.73,166.61 L546.78,166.13 L548.83,165.65 L550.88,165.18 L552.93,164.71 L554.97,164.24 L557.02,163.77 L559.07,163.31 L561.12,162.86 L563.17,162.4 L565.21,161.95 L567.26,161.5 L569.31,161.05 L571.36,160.61 L573.41,160.17 L575.45,159.73 L577.5,159.3 L579.55,158.86 L581.6,158.43 L583.65,158 L585.69,157.57 L587.74,157.14 L589.79,156.71 L591.84,156.29 L593.89,155.86 L595.93,155.44 L597.98,155.02 L600.03,154.6 L602.08,154.17 L604.13,153.75 L606.18,153.33 L608.22,152.91 L610.27,152.49 L612.32,152.07 L614.37,151.65 L616.42,151.23 L618.46,150.81 L620.51,150.38 L622.56,149.96 L624.61,149.54 L626.66,149.11 L628.7,148.69 L630.75,148.26 L632.8,147.83" fill="none" stroke="#000" stroke-width="0.9"/>
<path d="M368.6,247.23 L370.65,246.21 L372.7,245.19 L374.74,244.17 L376.79,243.15 L378.84,242.13 L380.89,241.12 L382.94,240.1 L384.98,239.08 L387.03,238.06 L389.08,237.04 L391.13,236.02 L393.18,235 L395.22,233.98 L397.27,232.96 L399.32,231.94 L401.37,230.93 L403.42,229.91 L405.47,228.89 L407.51,227.87 L409.56,226.85 L411.61,225.83 L413.66,224.81 L415.71,223.79 L417.75,222.77 L419.8,221.75 L421.85,220.74 L423.9,219.72 L425.95,218.7 L427.99,217.68 L430.04,216.68 L432.09,215.71 L434.14,214.75 L436.19,213.81 L438.23,212.89 L440.28,211.99 L442.33,211.11 L444.38,210.24 L446.43,209.39 L448.47,208.56 L450.52,207.75 L452.57,206.95 L454.62,206.16 L456.67,205.39 L458.71,204.64 L460.76,203.9 L462.81,203.17 L464.86,202.46 L466.91,201.75 L468.96,201.06 L471,200.39 L473.05,199.72 L475.1,199.07 L477.15,198.42 L479.2,197.79 L481.24,197.16 L483.29,196.55 L485.34,195.94 L487.39,195.34 L489.44,194.75 L491.48,194.17 L493.53,193.59 L495.58,193.02 L497.63,192.46 L499.68,191.9 L501.72,191.35 L503.77,190.81 L505.82,190.26 L507.87,189.73 L509.92,189.19 L511.96,188.66 L514.01,188.13 L516.06,187.6 L518.11,187.08 L520.16,186.56 L522.2,186.03 L524.25,185.51 L526.3,184.99 L528.35,184.47 L530.4,183.95 L532.44,183.43 L534.49,182.91 L536.54,182.39 L538.59,181.87 L540.64,181.35 L542.69,180.83 L544.73,180.32 L546.78,179.8 L548.83,179.29 L550.88,178.78 L552.93,178.27 L554.97,177.77 L557.02,177.27 L559.07,176.77 L561.12,176.27 L563.17,175.78 L565.21,175.29 L567.26,174.8 L569.31,174.32 L571.36,173.84 L573.41,173.36 L575.45,172.89 L577.5,172.43 L579.55,171.96 L581.6,171.51 L583.65,171.06 L585.69,170.61 L587.74,170.17 L589.79,169.73 L591.84,169.31 L593.89,168.88 L595.93,168.47 L597.98,168.05 L600.03,167.65 L602.08,167.25 L604.13,166.86 L606.18,166.48 L608.22,166.11 L610.27,165.74 L612.32,165.38 L614.37,165.03 L616.42,164.68 L618.46,164.35 L620.51,164.02 L622.56,163.7 L624.61,163.39 L626.66,163.09 L628.7,162.8 L630.75,162.51 L632.8,162.23" fill="none" stroke="#000" stroke-width="0.9"/>
<path d="M368.6,247.92 L370.65,247.19 L372.7,246.47 L374.74,245.74 L376.79,245.02 L378.84,244.29 L380.89,243.56 L382.94,242.84 L384.98,242.11 L387.03,241.38 L389.08,240.66 L391.13,239.93 L393.18,239.21 L395.22,238.48 L397.27,237.75 L399.32,237.03 L401.37,236.3 L403.42,235.57 L405.47,234.85 L407.51,234.12 L409.56,233.4 L411.61,232.67 L413.66,231.94 L415.71,231.22 L417.75,230.49 L419.8,229.77 L421.85,229.04 L423.9,228.31 L425.95,227.59 L427.99,226.86 L430.04,226.13 L432.09,225.41 L434.14,224.68 L436.19,223.96 L438.23,223.23 L440.28,222.5 L442.33,221.78 L444.38,221.05 L446.43,220.32 L448.47,219.6 L450.52,218.87 L452.57,218.15 L454.62,217.43 L456.67,216.72 L458.71,216.02 L460.76,215.32 L462.81,214.63 L464.86,213.95 L466.91,213.27 L468.96,212.59 L471,211.93 L473.05,211.27 L475.1,210.61 L477.15,209.97 L479.2,209.32 L481.24,208.69 L483.29,208.06 L485.34,207.43 L487.39,206.81 L489.44,206.2 L491.48,205.59 L493.53,204.99 L495.58,204.39 L497.63,203.8 L499.68,203.21 L501.72,202.63 L503.77,202.05 L505.82,201.48 L507.87,200.92 L509.92,200.36 L511.96,199.8 L514.01,199.25 L516.06,198.71 L518.11,198.16 L520.16,197.63 L522.2,197.1 L524.25,196.57 L526.3,196.05 L528.35,195.53 L530.4,195.02 L532.44,194.51 L534.49,194.01 L536.54,193.51 L538.59,193.02 L540.64,192.53 L542.69,192.04 L544.73,191.56 L546.78,191.08 L548.83,190.61 L550.88,190.14 L552.93,189.68 L554.97,189.22 L557.02,188.76 L559.07,188.31 L561.12,187.86 L563.17,187.41 L565.21,186.97 L567.26,186.53 L569.31,186.1 L571.36,185.66 L573.41,185.24 L575.45,184.81 L577.5,184.39 L579.55,183.97 L581.6,183.56 L583.65,183.15 L585.69,182.74 L587.74,182.34 L589.79,181.94 L591.84,181.54 L593.89,181.14 L595.93,180.75 L597.98,180.36 L600.03,179.97 L602.08,179.59 L604.13,179.21 L606.18,178.83 L608.22,178.46 L610.27,178.08 L612.32,177.71 L614.37,177.34 L616.42,176.98 L618.46,176.61 L620.51,176.25 L622.56,175.89 L624.61,175.54 L626.66,175.18 L628.7,174.83 L630.75,174.48 L632.8,174.13" fill="none" stroke="#000" stroke-width="0.9"/>
<path d="M368.6,256.84 L370.65,256.15 L372.7,255.46 L374.74,254.77 L376.79,254.08 L378.84,253.39 L380.89,252.7 L382.94,252.01 L384.98,251.32 L387.03,250.63 L389.08,249.94 L391.13,249.25 L393.18,248.56 L395.22,247.87 L397.27,247.18 L399.32,246.49 L401.37,245.8 L403.42,245.12 L405.47,244.43 L407.51,243.74 L409.56,243.05 L411.61,242.36 L413.66,241.67 L415.71,240.98 L417.75,240.29 L419.8,239.6 L421.85,238.91 L423.9,238.22 L425.95,237.53 L427.99,236.84 L430.04,236.15 L432.09,235.46 L434.14,234.77 L436.19,234.08 L438.23,233.39 L440.28,232.71 L442.33,232.02 L444.38,231.33 L446.43,230.64 L448.47,229.95 L450.52,229.26 L452.57,228.57 L454.62,227.88 L456.67,227.19 L458.71,226.5 L460.76,225.81 L462.81,225.12 L464.86,224.43 L466.91,223.74 L468.96,223.05 L471,222.36 L473.05,221.67 L475.1,220.98 L477.15,220.29 L479.2,219.61 L481.24,218.92 L483.29,218.23 L485.34,217.55 L487.39,216.89 L489.44,216.23 L491.48,215.59 L493.53,214.96 L495.58,214.33 L497.63,213.71 L499.68,213.11 L501.72,212.51 L503.77,211.92 L505.82,211.34 L507.87,210.77 L509.92,210.21 L511.96,209.66 L514.01,209.11 L516.06,208.57 L518.11,208.04 L520.16,207.52 L522.2,207 L524.25,206.49 L526.3,205.99 L528.35,205.49 L530.4,205 L532.44,204.52 L534.49,204.04 L536.54,203.57 L538.59,203.1 L540.64,202.64 L542.69,202.19 L544.73,201.74 L546.78,201.29 L548.83,200.85 L550.88,200.41 L552.93,199.98 L554.97,199.55 L557.02,199.13 L559.07,198.71 L561.12,198.29 L563.17,197.88 L565.21,197.47 L567.26,197.06 L569.31,196.66 L571.36,196.25 L573.41,195.85 L575.45,195.46 L577.5,195.06 L579.55,194.67 L581.6,194.27 L583.65,193.88 L585.69,193.49 L587.74,193.1 L589.79,192.71 L591.84,192.33 L593.89,191.94 L595.93,191.55 L597.98,191.16 L600.03,190.78 L602.08,190.39 L604.13,190 L606.18,189.61 L608.22,189.22 L610.27,188.83 L612.32,188.44 L614.37,188.04 L616.42,187.65 L618.46,187.25 L620.51,186.85 L622.56,186.45 L624.61,186.04 L626.66,185.64 L628.7,185.23 L630.75,184.81 L632.8,184.4" fill="none" stroke="#000" stroke-width="0.9"/>
<path d="M368.6,255.64 L370.65,255.13 L372.7,254.61 L374.74,254.09 L376.79,253.57 L378.84,253.05 L380.89,252.53 L382.94,252.01 L384.98,251.49 L387.03,250.97 L389.08,250.45 L391.13,249.93 L393.18,249.41 L395.22,248.89 L397.27,248.37 L399.32,247.85 L401.37,247.33 L403.42,246.81 L405.47,246.29 L407.51,245.77 L409.56,245.25 L411.61,244.73 L413.66,244.21 L415.71,243.69 L417.75,243.17 L419.8,242.65 L421.85,242.13 L423.9,241.61 L425.95,241.09 L427.99,240.58 L430.04,240.06 L432.09,239.54 L434.14,239.02 L436.19,238.5 L438.23,237.98 L440.28,237.46 L442.33,236.94 L444.38,236.42 L446.43,235.9 L448.47,235.38 L450.52,234.86 L452.57,234.34 L454.62,233.82 L456.67,233.3 L458.71,232.78 L460.76,232.26 L462.81,231.74 L464.86,231.22 L466.91,230.7 L468.96,230.18 L471,229.66 L473.05,229.14 L475.1,228.62 L477.15,228.1 L479.2,227.58 L481.24,227.06 L483.29,226.55 L485.34,226.03 L487.39,225.51 L489.44,224.99 L491.48,224.47 L493.53,223.95 L495.58,223.43 L497.63,222.91 L499.68,222.39 L501.72,221.87 L503.77,221.35 L505.82,220.83 L507.87,220.31 L509.92,219.79 L511.96,219.27 L514.01,218.75 L516.06,218.23 L518.11,217.72 L520.16,217.21 L522.2,216.7 L524.25,216.2 L526.3,215.7 L528.35,215.21 L530.4,214.72 L532.44,214.23 L534.49,213.74 L536.54,213.26 L538.59,212.79 L540.64,212.31 L542.69,211.84 L544.73,211.38 L546.78,210.91 L548.83,210.45 L550.88,210 L552.93,209.55 L554.97,209.1 L557.02,208.66 L559.07,208.21 L561.12,207.78 L563.17,207.34 L565.21,206.91 L567.26,206.49 L569.31,206.06 L571.36,205.65 L573.41,205.23 L575.45,204.82 L577.5,204.41 L579.55,204 L581.6,203.6 L583.65,203.21 L585.69,202.81 L587.74,202.42 L589.79,202.04 L591.84,201.65 L593.89,201.27 L595.93,200.9 L597.98,200.53 L600.03,200.16 L602.08,199.79 L604.13,199.43 L606.18,199.07 L608.22,198.72 L610.27,198.37 L612.32,198.02 L614.37,197.68 L616.42,197.34 L618.46,197.01 L620.51,196.67 L622.56,196.35 L624.61,196.02 L626.66,195.7 L628.7,195.38 L630.75,195.07 L632.8,194.75" fill="none" stroke="#000" stroke-width="0.9"/>
<path d="M368.6,260.09 L370.65,259.63 L372.7,259.16 L374.74,258.7 L376.79,258.23 L378.84,257.77 L380.89,257.31 L382.94,256.84 L384.98,256.38 L387.03,255.92 L389.08,255.45 L391.13,254.99 L393.18,254.53 L395.22,254.06 L397.27,253.6 L399.32,253.13 L401.37,252.67 L403.42,252.21 L405.47,251.74 L407.51,251.28 L409.56,250.82 L411.61,250.35 L413.66,249.89 L415.71,249.43 L417.75,248.96 L419.8,248.5 L421.85,248.03 L423.9,247.57 L425.95,247.11 L427.99,246.64 L430.04,246.18 L432.09,245.72 L434.14,245.25 L436.19,244.79 L438.23,244.33 L440.28,243.86 L442.33,243.4 L444.38,242.93 L446.43,242.47 L448.47,242.01 L450.52,241.54 L452.57,241.08 L454.62,240.62 L456.67,240.15 L458.71,239.69 L460.76,239.22 L462.81,238.76 L464.86,238.3 L466.91,237.83 L468.96,237.37 L471,236.91 L473.05,236.44 L475.1,235.98 L477.15,235.52 L479.2,235.05 L481.24,234.59 L483.29,234.12 L485.34,233.66 L487.39,233.2 L489.44,232.73 L491.48,232.27 L493.53,231.81 L495.58,231.34 L497.63,230.88 L499.68,230.42 L501.72,229.95 L503.77,229.49 L505.82,229.02 L507.87,228.56 L509.92,228.1 L511.96,227.63 L514.01,227.17 L516.06,226.71 L518.11,226.24 L520.16,225.78 L522.2,225.32 L524.25,224.85 L526.3,224.39 L528.35,223.92 L530.4,223.46 L532.44,223 L534.49,222.53 L536.54,222.07 L538.59,221.61 L540.64,221.14 L542.69,220.68 L544.73,220.21 L546.78,219.75 L548.83,219.29 L550.88,218.82 L552.93,218.36 L554.97,217.91 L557.02,217.45 L559.07,217 L561.12,216.55 L563.17,216.11 L565.21,215.67 L567.26,215.23 L569.31,214.8 L571.36,214.37 L573.41,213.94 L575.45,213.52 L577.5,213.1 L579.55,212.69 L581.6,212.27 L583.65,211.86 L585.69,211.46 L587.74,211.06 L589.79,210.66 L591.84,210.26 L593.89,209.87 L595.93,209.48 L597.98,209.1 L600.03,208.72 L602.08,208.34 L604.13,207.97 L606.18,207.59 L608.22,207.23 L610.27,206.86 L612.32,206.5 L614.37,206.15 L616.42,205.79 L618.46,205.44 L620.51,205.1 L622.56,204.75 L624.61,204.41 L626.66,204.08 L628.7,203.74 L630.75,203.41 L632.8,203.08" fill="none" stroke="#000" stroke-width="0.9"/>
<path d="M368.6,263.24 L370.65,262.84 L372.7,262.43 L374.74,262.03 L376.79,261.62 L378.84,261.22 L380.89,260.81 L382.94,260.41 L384.98,260 L387.03,259.59 L389.08,259.19 L391.13,258.78 L393.18,258.38 L395.22,257.97 L397.27,257.57 L399.32,257.16 L401.37,256.76 L403.42,256.35 L405.47,255.95 L407.51,255.54 L409.56,255.14 L411.61,254.73 L413.66,254.33 L415.71,253.92 L417.75,253.52 L419.8,253.11 L421.85,252.71 L423.9,252.3 L425.95,251.9 L427.99,251.49 L430.04,251.08 L432.09,250.68 L434.14,250.27 L436.19,249.87 L438.23,249.46 L440.28,249.06 L442.33,248.65 L444.38,248.25 L446.43,247.84 L448.47,247.44 L450.52,247.03 L452.57,246.63 L454.62,246.22 L456.67,245.82 L458.71,245.41 L460.76,245.01 L462.81,244.6 L464.86,244.2 L466.91,243.79 L468.96,243.39 L471,242.98 L473.05,242.57 L475.1,242.17 L477.15,241.76 L479.2,241.36 L481.24,240.95 L483.29,240.55 L485.34,240.14 L487.39,239.74 L489.44,239.33 L491.48,238.93 L493.53,238.52 L495.58,238.12 L497.63,237.71 L499.68,237.31 L501.72,236.9 L503.77,236.5 L505.82,236.09 L507.87,235.69 L509.92,235.28 L511.96,234.88 L514.01,234.47 L516.06,234.07 L518.11,233.66 L520.16,233.25 L522.2,232.85 L524.25,232.44 L526.3,232.04 L528.35,231.63 L530.4,231.23 L532.44,230.82 L534.49,230.42 L536.54,230.01 L538.59,229.61 L540.64,229.2 L542.69,228.8 L544.73,228.39 L546.78,227.99 L548.83,227.58 L550.88,227.18 L552.93,226.77 L554.97,226.37 L557.02,225.96 L559.07,225.56 L561.12,225.15 L563.17,224.74 L565.21,224.34 L567.26,223.93 L569.31,223.53 L571.36,223.12 L573.41,222.72 L575.45,222.31 L577.5,221.91 L579.55,221.5 L581.6,221.1 L583.65,220.69 L585.69,220.29 L587.74,219.88 L589.79,219.48 L591.84,219.07 L593.89,218.67 L595.93,218.26 L597.98,217.86 L600.03,217.45 L602.08,217.05 L604.13,216.64 L606.18,216.23 L608.22,215.83 L610.27,215.42 L612.32,215.02 L614.37,214.61 L616.42,214.21 L618.46,213.8 L620.51,213.4 L622.56,212.99 L624.61,212.59 L626.66,212.18 L628.7,211.78 L630.75,211.37 L632.8,210.97" fill="none" stroke="#000" stroke-width="0.9"/>
<path d="M369.6,208.19 L372.6,208.19 L373.1,206.08 L375.6,206.08 L376.1,203.98 L378.1,203.98 L378.6,201.88 L381.1,201.88 L381.6,199.77 L384.1,199.77 L384.6,197.67 L387.6,197.67 L388.1,195.57 L390.6,195.57 L391.1,193.46 L394.1,193.46 L394.6,191.36 L397.6,191.36 L398.1,189.26 L400.6,189.26 L401.1,187.15 L404.1,187.15 L404.6,185.05 L407.6,185.05 L408.1,182.95 L411.6,182.95 L412.1,180.85 L415.6,180.85 L416.1,178.74 L420.1,178.74 L420.6,176.64 L424.6,176.64 L425.1,174.54 L429.6,174.54 L430.1,172.43 L435.1,172.43 L435.6,170.33 L440.1,170.33 L440.6,168.23 L444.6,168.23 L445.1,166.12 L449.6,166.12 L450.1,164.02 L454.1,164.02 L454.6,161.92 L459.6,161.92 L460.1,159.82 L465.1,159.82 L465.6,157.71 L471.6,157.71 L472.1,155.61 L478.1,155.61 L478.6,153.51 L483.6,153.51 L484.1,151.4 L491.1,151.4 L491.6,149.3 L497.1,149.3 L497.6,147.2 L504.1,147.2 L504.6,145.09 L511.1,145.09 L511.6,142.99 L518.6,142.99 L519.1,140.89 L525.6,140.89 L526.1,138.79 L532.6,138.79 L533.1,136.68 L540.1,136.68 L540.6,134.58 L548.1,134.58 L548.6,132.48 L555.6,132.48 L556.1,130.37 L564.1,130.37 L564.6,128.27 L572.6,128.27 L573.1,126.17 L581.6,126.17 L582.1,124.06 L591.6,124.06 L592.1,121.96 L600.1,121.96 L600.6,119.86 L610.6,119.86 L611.1,117.76 L620.1,117.76 L620.6,115.65 L631.6,115.65" fill="none" stroke="#000" stroke-width="0.8" stroke-linejoin="round"/>
</g>
<clipPath id="cBL"><rect x="42.1" y="296.4" width="258.3" height="197"/></clipPath>
<g clip-path="url(#cBL)">
<path d="M40.1,394.39 L45.6,394.39 L46.1,396.48 L50.6,396.48 L51.1,398.58 L56.1,398.58 L56.6,400.68 L64.6,400.68 L65.1,402.77 L81.6,402.77 L82.1,404.87 L121.1,404.87 L121.6,402.77 L151.1,402.77 L151.6,400.68 L175.1,400.68 L175.6,398.58 L197.6,398.58 L198.1,396.48 L219.1,396.48 L219.6,394.39 L238.6,394.39 L239.1,392.29 L259.1,392.29 L259.6,390.2 L279.1,390.2 L279.6,388.1 L302.1,388.1 L303.4,388.1 L303.4,498.4 L39.1,498.4 L39.1,394.39Z" fill="#00008f"/>
<path d="M39.1,425.63 L41.15,426.02 L43.2,426.41 L45.25,426.78 L47.3,427.13 L49.34,427.46 L51.39,427.76 L53.44,428.05 L55.49,428.33 L57.54,428.58 L59.59,428.81 L61.64,429.03 L63.69,429.22 L65.73,429.4 L67.78,429.57 L69.83,429.71 L71.88,429.84 L73.93,429.96 L75.98,430.05 L78.03,430.14 L80.08,430.21 L82.13,430.26 L84.17,430.3 L86.22,430.32 L88.27,430.33 L90.32,430.33 L92.37,430.32 L94.42,430.29 L96.47,430.25 L98.52,430.2 L100.57,430.13 L102.61,430.06 L104.66,429.97 L106.71,429.88 L108.76,429.77 L110.81,429.65 L112.86,429.53 L114.91,429.39 L116.96,429.25 L119,429.1 L121.05,428.94 L123.1,428.77 L125.15,428.59 L127.2,428.41 L129.25,428.22 L131.3,428.02 L133.35,427.82 L135.4,427.61 L137.44,427.4 L139.49,427.18 L141.54,426.96 L143.59,426.73 L145.64,426.5 L147.69,426.26 L149.74,426.03 L151.79,425.78 L153.83,425.54 L155.88,425.29 L157.93,425.04 L159.98,424.79 L162.03,424.54 L164.08,424.29 L166.13,424.03 L168.18,423.78 L170.23,423.53 L172.27,423.27 L174.32,423.02 L176.37,422.77 L178.42,422.52 L180.47,422.27 L182.52,422.01 L184.57,421.76 L186.62,421.51 L188.67,421.27 L190.71,421.02 L192.76,420.77 L194.81,420.52 L196.86,420.27 L198.91,420.03 L200.96,419.78 L203.01,419.54 L205.06,419.3 L207.1,419.05 L209.15,418.81 L211.2,418.57 L213.25,418.33 L215.3,418.09 L217.35,417.86 L219.4,417.62 L221.45,417.38 L223.5,417.15 L225.54,416.92 L227.59,416.68 L229.64,416.45 L231.69,416.22 L233.74,416 L235.79,415.77 L237.84,415.54 L239.89,415.32 L241.93,415.1 L243.98,414.87 L246.03,414.65 L248.08,414.44 L250.13,414.22 L252.18,414 L254.23,413.79 L256.28,413.58 L258.33,413.36 L260.37,413.16 L262.42,412.95 L264.47,412.74 L266.52,412.54 L268.57,412.34 L270.62,412.14 L272.67,411.94 L274.72,411.74 L276.77,411.55 L278.81,411.35 L280.86,411.16 L282.91,410.97 L284.96,410.78 L287.01,410.6 L289.06,410.42 L291.11,410.24 L293.16,410.06 L295.2,409.88 L297.25,409.71 L299.3,409.53 L301.35,409.36 L303.4,409.19 L303.4,533.4 L39.1,533.4Z" fill="#0000cf"/>
<path d="M39.1,452.07 L41.15,452.22 L43.2,452.37 L45.25,452.51 L47.3,452.64 L49.34,452.75 L51.39,452.85 L53.44,452.94 L55.49,453.02 L57.54,453.08 L59.59,453.14 L61.64,453.18 L63.69,453.21 L65.73,453.23 L67.78,453.23 L69.83,453.23 L71.88,453.22 L73.93,453.2 L75.98,453.16 L78.03,453.12 L80.08,453.07 L82.13,453 L84.17,452.93 L86.22,452.85 L88.27,452.76 L90.32,452.66 L92.37,452.55 L94.42,452.44 L96.47,452.31 L98.52,452.18 L100.57,452.04 L102.61,451.9 L104.66,451.74 L106.71,451.58 L108.76,451.41 L110.81,451.24 L112.86,451.05 L114.91,450.86 L116.96,450.67 L119,450.47 L121.05,450.26 L123.1,450.05 L125.15,449.83 L127.2,449.61 L129.25,449.38 L131.3,449.15 L133.35,448.91 L135.4,448.67 L137.44,448.43 L139.49,448.18 L141.54,447.92 L143.59,447.66 L145.64,447.4 L147.69,447.14 L149.74,446.87 L151.79,446.6 L153.83,446.33 L155.88,446.05 L157.93,445.78 L159.98,445.5 L162.03,445.21 L164.08,444.93 L166.13,444.65 L168.18,444.36 L170.23,444.07 L172.27,443.78 L174.32,443.49 L176.37,443.2 L178.42,442.91 L180.47,442.62 L182.52,442.33 L184.57,442.04 L186.62,441.75 L188.67,441.46 L190.71,441.17 L192.76,440.87 L194.81,440.58 L196.86,440.29 L198.91,440 L200.96,439.71 L203.01,439.42 L205.06,439.14 L207.1,438.85 L209.15,438.56 L211.2,438.28 L213.25,437.99 L215.3,437.71 L217.35,437.43 L219.4,437.15 L221.45,436.88 L223.5,436.6 L225.54,436.33 L227.59,436.06 L229.64,435.79 L231.69,435.52 L233.74,435.26 L235.79,435 L237.84,434.74 L239.89,434.48 L241.93,434.23 L243.98,433.98 L246.03,433.74 L248.08,433.49 L250.13,433.25 L252.18,433.02 L254.23,432.78 L256.28,432.55 L258.33,432.33 L260.37,432.11 L262.42,431.89 L264.47,431.68 L266.52,431.47 L268.57,431.26 L270.62,431.06 L272.67,430.87 L274.72,430.68 L276.77,430.49 L278.81,430.31 L280.86,430.13 L282.91,429.96 L284.96,429.8 L287.01,429.64 L289.06,429.48 L291.11,429.33 L293.16,429.19 L295.2,429.05 L297.25,428.92 L299.3,428.8 L301.35,428.68 L303.4,428.56 L303.4,533.4 L39.1,533.4Z" fill="#0010ff"/>
<path d="M39.1,473.71 L41.15,473.68 L43.2,473.66 L45.25,473.63 L47.3,473.58 L49.34,473.54 L51.39,473.48 L53.44,473.41 L55.49,473.34 L57.54,473.26 L59.59,473.17 L61.64,473.08 L63.69,472.97 L65.73,472.86 L67.78,472.75 L69.83,472.63 L71.88,472.5 L73.93,472.36 L75.98,472.22 L78.03,472.07 L80.08,471.91 L82.13,471.75 L84.17,471.58 L86.22,471.41 L88.27,471.23 L90.32,471.04 L92.37,470.85 L94.42,470.66 L96.47,470.46 L98.52,470.25 L100.57,470.04 L102.61,469.83 L104.66,469.61 L106.71,469.38 L108.76,469.15 L110.81,468.92 L112.86,468.68 L114.91,468.44 L116.96,468.19 L119,467.94 L121.05,467.69 L123.1,467.43 L125.15,467.17 L127.2,466.91 L129.25,466.64 L131.3,466.37 L133.35,466.1 L135.4,465.83 L137.44,465.55 L139.49,465.27 L141.54,464.98 L143.59,464.7 L145.64,464.41 L147.69,464.12 L149.74,463.83 L151.79,463.54 L153.83,463.24 L155.88,462.94 L157.93,462.65 L159.98,462.35 L162.03,462.05 L164.08,461.74 L166.13,461.44 L168.18,461.14 L170.23,460.83 L172.27,460.53 L174.32,460.23 L176.37,459.92 L178.42,459.61 L180.47,459.31 L182.52,459 L184.57,458.7 L186.62,458.39 L188.67,458.09 L190.71,457.78 L192.76,457.48 L194.81,457.17 L196.86,456.87 L198.91,456.56 L200.96,456.26 L203.01,455.96 L205.06,455.66 L207.1,455.36 L209.15,455.06 L211.2,454.77 L213.25,454.47 L215.3,454.18 L217.35,453.89 L219.4,453.6 L221.45,453.31 L223.5,453.02 L225.54,452.73 L227.59,452.45 L229.64,452.17 L231.69,451.89 L233.74,451.62 L235.79,451.34 L237.84,451.07 L239.89,450.8 L241.93,450.54 L243.98,450.27 L246.03,450.01 L248.08,449.76 L250.13,449.5 L252.18,449.25 L254.23,449 L256.28,448.76 L258.33,448.52 L260.37,448.28 L262.42,448.05 L264.47,447.82 L266.52,447.6 L268.57,447.37 L270.62,447.16 L272.67,446.94 L274.72,446.73 L276.77,446.53 L278.81,446.33 L280.86,446.13 L282.91,445.94 L284.96,445.76 L287.01,445.58 L289.06,445.4 L291.11,445.23 L293.16,445.06 L295.2,444.9 L297.25,444.74 L299.3,444.59 L301.35,444.45 L303.4,444.3 L303.4,533.4 L39.1,533.4Z" fill="#0050ff"/>
<path d="M39.1,492.6 L41.15,492.49 L43.2,492.39 L45.25,492.27 L47.3,492.15 L49.34,492.01 L51.39,491.87 L53.44,491.71 L55.49,491.55 L57.54,491.37 L59.59,491.19 L61.64,491 L63.69,490.8 L65.73,490.59 L67.78,490.37 L69.83,490.15 L71.88,489.92 L73.93,489.68 L75.98,489.44 L78.03,489.19 L80.08,488.93 L82.13,488.67 L84.17,488.4 L86.22,488.12 L88.27,487.84 L90.32,487.56 L92.37,487.27 L94.42,486.98 L96.47,486.68 L98.52,486.38 L100.57,486.08 L102.61,485.77 L104.66,485.46 L106.71,485.15 L108.76,484.84 L110.81,484.52 L112.86,484.2 L114.91,483.88 L116.96,483.56 L119,483.24 L121.05,482.92 L123.1,482.59 L125.15,482.27 L127.2,481.95 L129.25,481.62 L131.3,481.3 L133.35,480.98 L135.4,480.66 L137.44,480.34 L139.49,480.02 L141.54,479.7 L143.59,479.39 L145.64,479.07 L147.69,478.75 L149.74,478.43 L151.79,478.12 L153.83,477.8 L155.88,477.49 L157.93,477.18 L159.98,476.86 L162.03,476.55 L164.08,476.24 L166.13,475.93 L168.18,475.61 L170.23,475.3 L172.27,474.99 L174.32,474.68 L176.37,474.38 L178.42,474.07 L180.47,473.76 L182.52,473.45 L184.57,473.15 L186.62,472.84 L188.67,472.54 L190.71,472.23 L192.76,471.93 L194.81,471.62 L196.86,471.32 L198.91,471.02 L200.96,470.72 L203.01,470.42 L205.06,470.12 L207.1,469.82 L209.15,469.52 L211.2,469.22 L213.25,468.92 L215.3,468.62 L217.35,468.32 L219.4,468.03 L221.45,467.73 L223.5,467.44 L225.54,467.14 L227.59,466.85 L229.64,466.56 L231.69,466.26 L233.74,465.97 L235.79,465.68 L237.84,465.39 L239.89,465.1 L241.93,464.81 L243.98,464.52 L246.03,464.23 L248.08,463.94 L250.13,463.65 L252.18,463.37 L254.23,463.08 L256.28,462.79 L258.33,462.51 L260.37,462.22 L262.42,461.94 L264.47,461.66 L266.52,461.37 L268.57,461.09 L270.62,460.81 L272.67,460.53 L274.72,460.25 L276.77,459.97 L278.81,459.69 L280.86,459.41 L282.91,459.13 L284.96,458.85 L287.01,458.57 L289.06,458.3 L291.11,458.02 L293.16,457.75 L295.2,457.47 L297.25,457.2 L299.3,456.92 L301.35,456.65 L303.4,456.38 L303.4,533.4 L39.1,533.4Z" fill="#009fff"/>
<path d="M39.1,509.26 L41.15,508.93 L43.2,508.59 L45.25,508.26 L47.3,507.92 L49.34,507.58 L51.39,507.25 L53.44,506.91 L55.49,506.58 L57.54,506.24 L59.59,505.91 L61.64,505.57 L63.69,505.23 L65.73,504.9 L67.78,504.56 L69.83,504.23 L71.88,503.89 L73.93,503.56 L75.98,503.22 L78.03,502.88 L80.08,502.55 L82.13,502.21 L84.17,501.88 L86.22,501.54 L88.27,501.21 L90.32,500.87 L92.37,500.53 L94.42,500.2 L96.47,499.86 L98.52,499.53 L100.57,499.19 L102.61,498.85 L104.66,498.52 L106.71,498.18 L108.76,497.85 L110.81,497.51 L112.86,497.18 L114.91,496.84 L116.96,496.5 L119,496.17 L121.05,495.83 L123.1,495.5 L125.15,495.16 L127.2,494.83 L129.25,494.49 L131.3,494.15 L133.35,493.82 L135.4,493.48 L137.44,493.15 L139.49,492.81 L141.54,492.48 L143.59,492.15 L145.64,491.82 L147.69,491.48 L149.74,491.16 L151.79,490.83 L153.83,490.5 L155.88,490.17 L157.93,489.85 L159.98,489.52 L162.03,489.2 L164.08,488.88 L166.13,488.56 L168.18,488.24 L170.23,487.92 L172.27,487.6 L174.32,487.28 L176.37,486.97 L178.42,486.65 L180.47,486.34 L182.52,486.03 L184.57,485.72 L186.62,485.41 L188.67,485.1 L190.71,484.79 L192.76,484.48 L194.81,484.17 L196.86,483.87 L198.91,483.56 L200.96,483.26 L203.01,482.96 L205.06,482.66 L207.1,482.36 L209.15,482.06 L211.2,481.76 L213.25,481.46 L215.3,481.17 L217.35,480.87 L219.4,480.58 L221.45,480.29 L223.5,479.99 L225.54,479.7 L227.59,479.41 L229.64,479.13 L231.69,478.84 L233.74,478.55 L235.79,478.27 L237.84,477.98 L239.89,477.7 L241.93,477.42 L243.98,477.13 L246.03,476.85 L248.08,476.58 L250.13,476.3 L252.18,476.02 L254.23,475.74 L256.28,475.47 L258.33,475.19 L260.37,474.92 L262.42,474.65 L264.47,474.38 L266.52,474.11 L268.57,473.84 L270.62,473.57 L272.67,473.31 L274.72,473.04 L276.77,472.78 L278.81,472.51 L280.86,472.25 L282.91,471.99 L284.96,471.73 L287.01,471.47 L289.06,471.21 L291.11,470.95 L293.16,470.7 L295.2,470.44 L297.25,470.19 L299.3,469.94 L301.35,469.68 L303.4,469.43 L303.4,533.4 L39.1,533.4Z" fill="#00dfff"/>
<path d="M39.1,518.67 L41.15,518.35 L43.2,518.04 L45.25,517.72 L47.3,517.4 L49.34,517.09 L51.39,516.77 L53.44,516.46 L55.49,516.14 L57.54,515.82 L59.59,515.51 L61.64,515.19 L63.69,514.88 L65.73,514.56 L67.78,514.25 L69.83,513.93 L71.88,513.61 L73.93,513.3 L75.98,512.98 L78.03,512.67 L80.08,512.35 L82.13,512.03 L84.17,511.72 L86.22,511.4 L88.27,511.09 L90.32,510.77 L92.37,510.45 L94.42,510.14 L96.47,509.82 L98.52,509.51 L100.57,509.19 L102.61,508.88 L104.66,508.56 L106.71,508.24 L108.76,507.93 L110.81,507.61 L112.86,507.3 L114.91,506.98 L116.96,506.66 L119,506.35 L121.05,506.03 L123.1,505.72 L125.15,505.4 L127.2,505.09 L129.25,504.77 L131.3,504.45 L133.35,504.14 L135.4,503.82 L137.44,503.51 L139.49,503.19 L141.54,502.87 L143.59,502.56 L145.64,502.24 L147.69,501.93 L149.74,501.61 L151.79,501.3 L153.83,500.98 L155.88,500.66 L157.93,500.35 L159.98,500.03 L162.03,499.72 L164.08,499.4 L166.13,499.08 L168.18,498.77 L170.23,498.45 L172.27,498.14 L174.32,497.82 L176.37,497.5 L178.42,497.19 L180.47,496.87 L182.52,496.56 L184.57,496.24 L186.62,495.93 L188.67,495.61 L190.71,495.29 L192.76,494.98 L194.81,494.66 L196.86,494.35 L198.91,494.03 L200.96,493.71 L203.01,493.4 L205.06,493.08 L207.1,492.77 L209.15,492.46 L211.2,492.16 L213.25,491.86 L215.3,491.56 L217.35,491.26 L219.4,490.97 L221.45,490.68 L223.5,490.39 L225.54,490.1 L227.59,489.82 L229.64,489.54 L231.69,489.27 L233.74,489 L235.79,488.73 L237.84,488.46 L239.89,488.2 L241.93,487.94 L243.98,487.68 L246.03,487.43 L248.08,487.18 L250.13,486.93 L252.18,486.68 L254.23,486.44 L256.28,486.2 L258.33,485.97 L260.37,485.74 L262.42,485.51 L264.47,485.28 L266.52,485.06 L268.57,484.84 L270.62,484.62 L272.67,484.4 L274.72,484.19 L276.77,483.98 L278.81,483.78 L280.86,483.58 L282.91,483.38 L284.96,483.18 L287.01,482.99 L289.06,482.8 L291.11,482.61 L293.16,482.43 L295.2,482.25 L297.25,482.07 L299.3,481.89 L301.35,481.72 L303.4,481.55 L303.4,533.4 L39.1,533.4Z" fill="#20ffdf"/>
<path d="M39.1,521.92 L41.15,521.67 L43.2,521.43 L45.25,521.18 L47.3,520.94 L49.34,520.69 L51.39,520.45 L53.44,520.2 L55.49,519.96 L57.54,519.71 L59.59,519.47 L61.64,519.22 L63.69,518.98 L65.73,518.74 L67.78,518.49 L69.83,518.25 L71.88,518 L73.93,517.76 L75.98,517.51 L78.03,517.27 L80.08,517.02 L82.13,516.78 L84.17,516.53 L86.22,516.29 L88.27,516.04 L90.32,515.8 L92.37,515.55 L94.42,515.31 L96.47,515.06 L98.52,514.82 L100.57,514.57 L102.61,514.33 L104.66,514.08 L106.71,513.84 L108.76,513.59 L110.81,513.35 L112.86,513.11 L114.91,512.86 L116.96,512.62 L119,512.37 L121.05,512.13 L123.1,511.88 L125.15,511.64 L127.2,511.39 L129.25,511.15 L131.3,510.9 L133.35,510.66 L135.4,510.41 L137.44,510.17 L139.49,509.92 L141.54,509.68 L143.59,509.43 L145.64,509.19 L147.69,508.94 L149.74,508.7 L151.79,508.45 L153.83,508.21 L155.88,507.97 L157.93,507.72 L159.98,507.48 L162.03,507.23 L164.08,506.99 L166.13,506.74 L168.18,506.5 L170.23,506.25 L172.27,506.01 L174.32,505.76 L176.37,505.52 L178.42,505.27 L180.47,505.03 L182.52,504.78 L184.57,504.54 L186.62,504.29 L188.67,504.05 L190.71,503.8 L192.76,503.56 L194.81,503.31 L196.86,503.07 L198.91,502.82 L200.96,502.58 L203.01,502.34 L205.06,502.09 L207.1,501.85 L209.15,501.6 L211.2,501.36 L213.25,501.11 L215.3,500.87 L217.35,500.62 L219.4,500.38 L221.45,500.13 L223.5,499.89 L225.54,499.64 L227.59,499.4 L229.64,499.15 L231.69,498.91 L233.74,498.66 L235.79,498.42 L237.84,498.17 L239.89,497.93 L241.93,497.68 L243.98,497.44 L246.03,497.2 L248.08,496.95 L250.13,496.71 L252.18,496.46 L254.23,496.22 L256.28,495.97 L258.33,495.73 L260.37,495.48 L262.42,495.24 L264.47,494.99 L266.52,494.75 L268.57,494.5 L270.62,494.26 L272.67,494.01 L274.72,493.77 L276.77,493.52 L278.81,493.28 L280.86,493.03 L282.91,492.79 L284.96,492.54 L287.01,492.3 L289.06,492.06 L291.11,491.81 L293.16,491.57 L295.2,491.32 L297.25,491.08 L299.3,490.83 L301.35,490.59 L303.4,490.34 L303.4,533.4 L39.1,533.4Z" fill="#60ff9f"/>
<path d="M39.1,425.63 L41.15,426.02 L43.2,426.41 L45.25,426.78 L47.3,427.13 L49.34,427.46 L51.39,427.76 L53.44,428.05 L55.49,428.33 L57.54,428.58 L59.59,428.81 L61.64,429.03 L63.69,429.22 L65.73,429.4 L67.78,429.57 L69.83,429.71 L71.88,429.84 L73.93,429.96 L75.98,430.05 L78.03,430.14 L80.08,430.21 L82.13,430.26 L84.17,430.3 L86.22,430.32 L88.27,430.33 L90.32,430.33 L92.37,430.32 L94.42,430.29 L96.47,430.25 L98.52,430.2 L100.57,430.13 L102.61,430.06 L104.66,429.97 L106.71,429.88 L108.76,429.77 L110.81,429.65 L112.86,429.53 L114.91,429.39 L116.96,429.25 L119,429.1 L121.05,428.94 L123.1,428.77 L125.15,428.59 L127.2,428.41 L129.25,428.22 L131.3,428.02 L133.35,427.82 L135.4,427.61 L137.44,427.4 L139.49,427.18 L141.54,426.96 L143.59,426.73 L145.64,426.5 L147.69,426.26 L149.74,426.03 L151.79,425.78 L153.83,425.54 L155.88,425.29 L157.93,425.04 L159.98,424.79 L162.03,424.54 L164.08,424.29 L166.13,424.03 L168.18,423.78 L170.23,423.53 L172.27,423.27 L174.32,423.02 L176.37,422.77 L178.42,422.52 L180.47,422.27 L182.52,422.01 L184.57,421.76 L186.62,421.51 L188.67,421.27 L190.71,421.02 L192.76,420.77 L194.81,420.52 L196.86,420.27 L198.91,420.03 L200.96,419.78 L203.01,419.54 L205.06,419.3 L207.1,419.05 L209.15,418.81 L211.2,418.57 L213.25,418.33 L215.3,418.09 L217.35,417.86 L219.4,417.62 L221.45,417.38 L223.5,417.15 L225.54,416.92 L227.59,416.68 L229.64,416.45 L231.69,416.22 L233.74,416 L235.79,415.77 L237.84,415.54 L239.89,415.32 L241.93,415.1 L243.98,414.87 L246.03,414.65 L248.08,414.44 L250.13,414.22 L252.18,414 L254.23,413.79 L256.28,413.58 L258.33,413.36 L260.37,413.16 L262.42,412.95 L264.47,412.74 L266.52,412.54 L268.57,412.34 L270.62,412.14 L272.67,411.94 L274.72,411.74 L276.77,411.55 L278.81,411.35 L280.86,411.16 L282.91,410.97 L284.96,410.78 L287.01,410.6 L289.06,410.42 L291.11,410.24 L293.16,410.06 L295.2,409.88 L297.25,409.71 L299.3,409.53 L301.35,409.36 L303.4,409.19" fill="none" stroke="#000" stroke-width="0.9"/>
<path d="M39.1,452.07 L41.15,452.22 L43.2,452.37 L45.25,452.51 L47.3,452.64 L49.34,452.75 L51.39,452.85 L53.44,452.94 L55.49,453.02 L57.54,453.08 L59.59,453.14 L61.64,453.18 L63.69,453.21 L65.73,453.23 L67.78,453.23 L69.83,453.23 L71.88,453.22 L73.93,453.2 L75.98,453.16 L78.03,453.12 L80.08,453.07 L82.13,453 L84.17,452.93 L86.22,452.85 L88.27,452.76 L90.32,452.66 L92.37,452.55 L94.42,452.44 L96.47,452.31 L98.52,452.18 L100.57,452.04 L102.61,451.9 L104.66,451.74 L106.71,451.58 L108.76,451.41 L110.81,451.24 L112.86,451.05 L114.91,450.86 L116.96,450.67 L119,450.47 L121.05,450.26 L123.1,450.05 L125.15,449.83 L127.2,449.61 L129.25,449.38 L131.3,449.15 L133.35,448.91 L135.4,448.67 L137.44,448.43 L139.49,448.18 L141.54,447.92 L143.59,447.66 L145.64,447.4 L147.69,447.14 L149.74,446.87 L151.79,446.6 L153.83,446.33 L155.88,446.05 L157.93,445.78 L159.98,445.5 L162.03,445.21 L164.08,444.93 L166.13,444.65 L168.18,444.36 L170.23,444.07 L172.27,443.78 L174.32,443.49 L176.37,443.2 L178.42,442.91 L180.47,442.62 L182.52,442.33 L184.57,442.04 L186.62,441.75 L188.67,441.46 L190.71,441.17 L192.76,440.87 L194.81,440.58 L196.86,440.29 L198.91,440 L200.96,439.71 L203.01,439.42 L205.06,439.14 L207.1,438.85 L209.15,438.56 L211.2,438.28 L213.25,437.99 L215.3,437.71 L217.35,437.43 L219.4,437.15 L221.45,436.88 L223.5,436.6 L225.54,436.33 L227.59,436.06 L229.64,435.79 L231.69,435.52 L233.74,435.26 L235.79,435 L237.84,434.74 L239.89,434.48 L241.93,434.23 L243.98,433.98 L246.03,433.74 L248.08,433.49 L250.13,433.25 L252.18,433.02 L254.23,432.78 L256.28,432.55 L258.33,432.33 L260.37,432.11 L262.42,431.89 L264.47,431.68 L266.52,431.47 L268.57,431.26 L270.62,431.06 L272.67,430.87 L274.72,430.68 L276.77,430.49 L278.81,430.31 L280.86,430.13 L282.91,429.96 L284.96,429.8 L287.01,429.64 L289.06,429.48 L291.11,429.33 L293.16,429.19 L295.2,429.05 L297.25,428.92 L299.3,428.8 L301.35,428.68 L303.4,428.56" fill="none" stroke="#000" stroke-width="0.9"/>
<path d="M39.1,473.71 L41.15,473.68 L43.2,473.66 L45.25,473.63 L47.3,473.58 L49.34,473.54 L51.39,473.48 L53.44,473.41 L55.49,473.34 L57.54,473.26 L59.59,473.17 L61.64,473.08 L63.69,472.97 L65.73,472.86 L67.78,472.75 L69.83,472.63 L71.88,472.5 L73.93,472.36 L75.98,472.22 L78.03,472.07 L80.08,471.91 L82.13,471.75 L84.17,471.58 L86.22,471.41 L88.27,471.23 L90.32,471.04 L92.37,470.85 L94.42,470.66 L96.47,470.46 L98.52,470.25 L100.57,470.04 L102.61,469.83 L104.66,469.61 L106.71,469.38 L108.76,469.15 L110.81,468.92 L112.86,468.68 L114.91,468.44 L116.96,468.19 L119,467.94 L121.05,467.69 L123.1,467.43 L125.15,467.17 L127.2,466.91 L129.25,466.64 L131.3,466.37 L133.35,466.1 L135.4,465.83 L137.44,465.55 L139.49,465.27 L141.54,464.98 L143.59,464.7 L145.64,464.41 L147.69,464.12 L149.74,463.83 L151.79,463.54 L153.83,463.24 L155.88,462.94 L157.93,462.65 L159.98,462.35 L162.03,462.05 L164.08,461.74 L166.13,461.44 L168.18,461.14 L170.23,460.83 L172.27,460.53 L174.32,460.23 L176.37,459.92 L178.42,459.61 L180.47,459.31 L182.52,459 L184.57,458.7 L186.62,458.39 L188.67,458.09 L190.71,457.78 L192.76,457.48 L194.81,457.17 L196.86,456.87 L198.91,456.56 L200.96,456.26 L203.01,455.96 L205.06,455.66 L207.1,455.36 L209.15,455.06 L211.2,454.77 L213.25,454.47 L215.3,454.18 L217.35,453.89 L219.4,453.6 L221.45,453.31 L223.5,453.02 L225.54,452.73 L227.59,452.45 L229.64,452.17 L231.69,451.89 L233.74,451.62 L235.79,451.34 L237.84,451.07 L239.89,450.8 L241.93,450.54 L243.98,450.27 L246.03,450.01 L248.08,449.76 L250.13,449.5 L252.18,449.25 L254.23,449 L256.28,448.76 L258.33,448.52 L260.37,448.28 L262.42,448.05 L264.47,447.82 L266.52,447.6 L268.57,447.37 L270.62,447.16 L272.67,446.94 L274.72,446.73 L276.77,446.53 L278.81,446.33 L280.86,446.13 L282.91,445.94 L284.96,445.76 L287.01,445.58 L289.06,445.4 L291.11,445.23 L293.16,445.06 L295.2,444.9 L297.25,444.74 L299.3,444.59 L301.35,444.45 L303.4,444.3" fill="none" stroke="#000" stroke-width="0.9"/>
<path d="M39.1,492.6 L41.15,492.49 L43.2,492.39 L45.25,492.27 L47.3,492.15 L49.34,492.01 L51.39,491.87 L53.44,491.71 L55.49,491.55 L57.54,491.37 L59.59,491.19 L61.64,491 L63.69,490.8 L65.73,490.59 L67.78,490.37 L69.83,490.15 L71.88,489.92 L73.93,489.68 L75.98,489.44 L78.03,489.19 L80.08,488.93 L82.13,488.67 L84.17,488.4 L86.22,488.12 L88.27,487.84 L90.32,487.56 L92.37,487.27 L94.42,486.98 L96.47,486.68 L98.52,486.38 L100.57,486.08 L102.61,485.77 L104.66,485.46 L106.71,485.15 L108.76,484.84 L110.81,484.52 L112.86,484.2 L114.91,483.88 L116.96,483.56 L119,483.24 L121.05,482.92 L123.1,482.59 L125.15,482.27 L127.2,481.95 L129.25,481.62 L131.3,481.3 L133.35,480.98 L135.4,480.66 L137.44,480.34 L139.49,480.02 L141.54,479.7 L143.59,479.39 L145.64,479.07 L147.69,478.75 L149.74,478.43 L151.79,478.12 L153.83,477.8 L155.88,477.49 L157.93,477.18 L159.98,476.86 L162.03,476.55 L164.08,476.24 L166.13,475.93 L168.18,475.61 L170.23,475.3 L172.27,474.99 L174.32,474.68 L176.37,474.38 L178.42,474.07 L180.47,473.76 L182.52,473.45 L184.57,473.15 L186.62,472.84 L188.67,472.54 L190.71,472.23 L192.76,471.93 L194.81,471.62 L196.86,471.32 L198.91,471.02 L200.96,470.72 L203.01,470.42 L205.06,470.12 L207.1,469.82 L209.15,469.52 L211.2,469.22 L213.25,468.92 L215.3,468.62 L217.35,468.32 L219.4,468.03 L221.45,467.73 L223.5,467.44 L225.54,467.14 L227.59,466.85 L229.64,466.56 L231.69,466.26 L233.74,465.97 L235.79,465.68 L237.84,465.39 L239.89,465.1 L241.93,464.81 L243.98,464.52 L246.03,464.23 L248.08,463.94 L250.13,463.65 L252.18,463.37 L254.23,463.08 L256.28,462.79 L258.33,462.51 L260.37,462.22 L262.42,461.94 L264.47,461.66 L266.52,461.37 L268.57,461.09 L270.62,460.81 L272.67,460.53 L274.72,460.25 L276.77,459.97 L278.81,459.69 L280.86,459.41 L282.91,459.13 L284.96,458.85 L287.01,458.57 L289.06,458.3 L291.11,458.02 L293.16,457.75 L295.2,457.47 L297.25,457.2 L299.3,456.92 L301.35,456.65 L303.4,456.38" fill="none" stroke="#000" stroke-width="0.9"/>
<path d="M39.1,509.26 L41.15,508.93 L43.2,508.59 L45.25,508.26 L47.3,507.92 L49.34,507.58 L51.39,507.25 L53.44,506.91 L55.49,506.58 L57.54,506.24 L59.59,505.91 L61.64,505.57 L63.69,505.23 L65.73,504.9 L67.78,504.56 L69.83,504.23 L71.88,503.89 L73.93,503.56 L75.98,503.22 L78.03,502.88 L80.08,502.55 L82.13,502.21 L84.17,501.88 L86.22,501.54 L88.27,501.21 L90.32,500.87 L92.37,500.53 L94.42,500.2 L96.47,499.86 L98.52,499.53 L100.57,499.19 L102.61,498.85 L104.66,498.52 L106.71,498.18 L108.76,497.85 L110.81,497.51 L112.86,497.18 L114.91,496.84 L116.96,496.5 L119,496.17 L121.05,495.83 L123.1,495.5 L125.15,495.16 L127.2,494.83 L129.25,494.49 L131.3,494.15 L133.35,493.82 L135.4,493.48 L137.44,493.15 L139.49,492.81 L141.54,492.48 L143.59,492.15 L145.64,491.82 L147.69,491.48 L149.74,491.16 L151.79,490.83 L153.83,490.5 L155.88,490.17 L157.93,489.85 L159.98,489.52 L162.03,489.2 L164.08,488.88 L166.13,488.56 L168.18,488.24 L170.23,487.92 L172.27,487.6 L174.32,487.28 L176.37,486.97 L178.42,486.65 L180.47,486.34 L182.52,486.03 L184.57,485.72 L186.62,485.41 L188.67,485.1 L190.71,484.79 L192.76,484.48 L194.81,484.17 L196.86,483.87 L198.91,483.56 L200.96,483.26 L203.01,482.96 L205.06,482.66 L207.1,482.36 L209.15,482.06 L211.2,481.76 L213.25,481.46 L215.3,481.17 L217.35,480.87 L219.4,480.58 L221.45,480.29 L223.5,479.99 L225.54,479.7 L227.59,479.41 L229.64,479.13 L231.69,478.84 L233.74,478.55 L235.79,478.27 L237.84,477.98 L239.89,477.7 L241.93,477.42 L243.98,477.13 L246.03,476.85 L248.08,476.58 L250.13,476.3 L252.18,476.02 L254.23,475.74 L256.28,475.47 L258.33,475.19 L260.37,474.92 L262.42,474.65 L264.47,474.38 L266.52,474.11 L268.57,473.84 L270.62,473.57 L272.67,473.31 L274.72,473.04 L276.77,472.78 L278.81,472.51 L280.86,472.25 L282.91,471.99 L284.96,471.73 L287.01,471.47 L289.06,471.21 L291.11,470.95 L293.16,470.7 L295.2,470.44 L297.25,470.19 L299.3,469.94 L301.35,469.68 L303.4,469.43" fill="none" stroke="#000" stroke-width="0.9"/>
<path d="M39.1,518.67 L41.15,518.35 L43.2,518.04 L45.25,517.72 L47.3,517.4 L49.34,517.09 L51.39,516.77 L53.44,516.46 L55.49,516.14 L57.54,515.82 L59.59,515.51 L61.64,515.19 L63.69,514.88 L65.73,514.56 L67.78,514.25 L69.83,513.93 L71.88,513.61 L73.93,513.3 L75.98,512.98 L78.03,512.67 L80.08,512.35 L82.13,512.03 L84.17,511.72 L86.22,511.4 L88.27,511.09 L90.32,510.77 L92.37,510.45 L94.42,510.14 L96.47,509.82 L98.52,509.51 L100.57,509.19 L102.61,508.88 L104.66,508.56 L106.71,508.24 L108.76,507.93 L110.81,507.61 L112.86,507.3 L114.91,506.98 L116.96,506.66 L119,506.35 L121.05,506.03 L123.1,505.72 L125.15,505.4 L127.2,505.09 L129.25,504.77 L131.3,504.45 L133.35,504.14 L135.4,503.82 L137.44,503.51 L139.49,503.19 L141.54,502.87 L143.59,502.56 L145.64,502.24 L147.69,501.93 L149.74,501.61 L151.79,501.3 L153.83,500.98 L155.88,500.66 L157.93,500.35 L159.98,500.03 L162.03,499.72 L164.08,499.4 L166.13,499.08 L168.18,498.77 L170.23,498.45 L172.27,498.14 L174.32,497.82 L176.37,497.5 L178.42,497.19 L180.47,496.87 L182.52,496.56 L184.57,496.24 L186.62,495.93 L188.67,495.61 L190.71,495.29 L192.76,494.98 L194.81,494.66 L196.86,494.35 L198.91,494.03 L200.96,493.71 L203.01,493.4 L205.06,493.08 L207.1,492.77 L209.15,492.46 L211.2,492.16 L213.25,491.86 L215.3,491.56 L217.35,491.26 L219.4,490.97 L221.45,490.68 L223.5,490.39 L225.54,490.1 L227.59,489.82 L229.64,489.54 L231.69,489.27 L233.74,489 L235.79,488.73 L237.84,488.46 L239.89,488.2 L241.93,487.94 L243.98,487.68 L246.03,487.43 L248.08,487.18 L250.13,486.93 L252.18,486.68 L254.23,486.44 L256.28,486.2 L258.33,485.97 L260.37,485.74 L262.42,485.51 L264.47,485.28 L266.52,485.06 L268.57,484.84 L270.62,484.62 L272.67,484.4 L274.72,484.19 L276.77,483.98 L278.81,483.78 L280.86,483.58 L282.91,483.38 L284.96,483.18 L287.01,482.99 L289.06,482.8 L291.11,482.61 L293.16,482.43 L295.2,482.25 L297.25,482.07 L299.3,481.89 L301.35,481.72 L303.4,481.55" fill="none" stroke="#000" stroke-width="0.9"/>
<path d="M39.1,521.92 L41.15,521.67 L43.2,521.43 L45.25,521.18 L47.3,520.94 L49.34,520.69 L51.39,520.45 L53.44,520.2 L55.49,519.96 L57.54,519.71 L59.59,519.47 L61.64,519.22 L63.69,518.98 L65.73,518.74 L67.78,518.49 L69.83,518.25 L71.88,518 L73.93,517.76 L75.98,517.51 L78.03,517.27 L80.08,517.02 L82.13,516.78 L84.17,516.53 L86.22,516.29 L88.27,516.04 L90.32,515.8 L92.37,515.55 L94.42,515.31 L96.47,515.06 L98.52,514.82 L100.57,514.57 L102.61,514.33 L104.66,514.08 L106.71,513.84 L108.76,513.59 L110.81,513.35 L112.86,513.11 L114.91,512.86 L116.96,512.62 L119,512.37 L121.05,512.13 L123.1,511.88 L125.15,511.64 L127.2,511.39 L129.25,511.15 L131.3,510.9 L133.35,510.66 L135.4,510.41 L137.44,510.17 L139.49,509.92 L141.54,509.68 L143.59,509.43 L145.64,509.19 L147.69,508.94 L149.74,508.7 L151.79,508.45 L153.83,508.21 L155.88,507.97 L157.93,507.72 L159.98,507.48 L162.03,507.23 L164.08,506.99 L166.13,506.74 L168.18,506.5 L170.23,506.25 L172.27,506.01 L174.32,505.76 L176.37,505.52 L178.42,505.27 L180.47,505.03 L182.52,504.78 L184.57,504.54 L186.62,504.29 L188.67,504.05 L190.71,503.8 L192.76,503.56 L194.81,503.31 L196.86,503.07 L198.91,502.82 L200.96,502.58 L203.01,502.34 L205.06,502.09 L207.1,501.85 L209.15,501.6 L211.2,501.36 L213.25,501.11 L215.3,500.87 L217.35,500.62 L219.4,500.38 L221.45,500.13 L223.5,499.89 L225.54,499.64 L227.59,499.4 L229.64,499.15 L231.69,498.91 L233.74,498.66 L235.79,498.42 L237.84,498.17 L239.89,497.93 L241.93,497.68 L243.98,497.44 L246.03,497.2 L248.08,496.95 L250.13,496.71 L252.18,496.46 L254.23,496.22 L256.28,495.97 L258.33,495.73 L260.37,495.48 L262.42,495.24 L264.47,494.99 L266.52,494.75 L268.57,494.5 L270.62,494.26 L272.67,494.01 L274.72,493.77 L276.77,493.52 L278.81,493.28 L280.86,493.03 L282.91,492.79 L284.96,492.54 L287.01,492.3 L289.06,492.06 L291.11,491.81 L293.16,491.57 L295.2,491.32 L297.25,491.08 L299.3,490.83 L301.35,490.59 L303.4,490.34" fill="none" stroke="#000" stroke-width="0.9"/>
<path d="M40.1,394.39 L45.6,394.39 L46.1,396.48 L50.6,396.48 L51.1,398.58 L56.1,398.58 L56.6,400.68 L64.6,400.68 L65.1,402.77 L81.6,402.77 L82.1,404.87 L121.1,404.87 L121.6,402.77 L151.1,402.77 L151.6,400.68 L175.1,400.68 L175.6,398.58 L197.6,398.58 L198.1,396.48 L219.1,396.48 L219.6,394.39 L238.6,394.39 L239.1,392.29 L259.1,392.29 L259.6,390.2 L279.1,390.2 L279.6,388.1 L302.1,388.1" fill="none" stroke="#000" stroke-width="0.8" stroke-linejoin="round"/>
</g>
<clipPath id="cBR"><rect x="371.6" y="296.4" width="258.2" height="197"/></clipPath>
<g clip-path="url(#cBR)">
<path d="M369.6,305.96 L370.6,305.96 L371.1,308.05 L372.6,308.05 L373.1,310.15 L375.1,310.15 L375.6,312.24 L378.1,312.24 L378.6,314.34 L381.1,314.34 L381.6,316.44 L384.1,316.44 L384.6,318.53 L386.6,318.53 L387.1,320.63 L389.1,320.63 L389.6,322.72 L392.1,322.72 L392.6,324.82 L395.1,324.82 L395.6,326.92 L399.6,326.92 L400.1,329.01 L403.1,329.01 L403.6,331.11 L409.1,331.11 L409.6,333.2 L415.6,333.2 L416.1,335.3 L423.1,335.3 L423.6,337.4 L437.6,337.4 L438.1,339.49 L523.1,339.49 L523.6,337.4 L552.1,337.4 L552.6,335.3 L576.6,335.3 L577.1,333.2 L598.1,333.2 L598.6,331.11 L620.1,331.11 L620.6,329.01 L631.6,329.01 L632.8,329.01 L632.8,498.4 L368.6,498.4 L368.6,305.96Z" fill="#00008f"/>
<path d="M368.6,379.1 L370.65,380.09 L372.7,381.07 L374.74,382.01 L376.79,382.92 L378.84,383.79 L380.89,384.61 L382.94,385.4 L384.98,386.16 L387.03,386.87 L389.08,387.55 L391.13,388.2 L393.18,388.81 L395.22,389.39 L397.27,389.93 L399.32,390.44 L401.37,390.93 L403.42,391.38 L405.47,391.8 L407.51,392.19 L409.56,392.55 L411.61,392.88 L413.66,393.19 L415.71,393.47 L417.75,393.72 L419.8,393.95 L421.85,394.16 L423.9,394.34 L425.95,394.49 L427.99,394.63 L430.04,394.74 L432.09,394.83 L434.14,394.91 L436.19,394.96 L438.23,394.99 L440.28,395.01 L442.33,395 L444.38,394.98 L446.43,394.95 L448.47,394.9 L450.52,394.83 L452.57,394.75 L454.62,394.66 L456.67,394.55 L458.71,394.44 L460.76,394.31 L462.81,394.17 L464.86,394.02 L466.91,393.86 L468.96,393.69 L471,393.52 L473.05,393.34 L475.1,393.15 L477.15,392.95 L479.2,392.76 L481.24,392.55 L483.29,392.35 L485.34,392.14 L487.39,391.93 L489.44,391.71 L491.48,391.5 L493.53,391.28 L495.58,391.06 L497.63,390.84 L499.68,390.62 L501.72,390.4 L503.77,390.17 L505.82,389.95 L507.87,389.72 L509.92,389.5 L511.96,389.27 L514.01,389.04 L516.06,388.81 L518.11,388.58 L520.16,388.35 L522.2,388.12 L524.25,387.88 L526.3,387.65 L528.35,387.42 L530.4,387.19 L532.44,386.95 L534.49,386.72 L536.54,386.49 L538.59,386.25 L540.64,386.02 L542.69,385.79 L544.73,385.56 L546.78,385.32 L548.83,385.09 L550.88,384.86 L552.93,384.63 L554.97,384.4 L557.02,384.17 L559.07,383.95 L561.12,383.72 L563.17,383.49 L565.21,383.27 L567.26,383.05 L569.31,382.82 L571.36,382.6 L573.41,382.38 L575.45,382.17 L577.5,381.95 L579.55,381.73 L581.6,381.52 L583.65,381.31 L585.69,381.1 L587.74,380.9 L589.79,380.69 L591.84,380.49 L593.89,380.29 L595.93,380.09 L597.98,379.89 L600.03,379.7 L602.08,379.51 L604.13,379.32 L606.18,379.14 L608.22,378.95 L610.27,378.77 L612.32,378.6 L614.37,378.42 L616.42,378.25 L618.46,378.09 L620.51,377.92 L622.56,377.76 L624.61,377.61 L626.66,377.45 L628.7,377.3 L630.75,377.15 L632.8,377.01 L632.8,533.4 L368.6,533.4Z" fill="#0010ff"/>
<path d="M368.6,428.17 L370.65,428.85 L372.7,429.53 L374.74,430.16 L376.79,430.76 L378.84,431.32 L380.89,431.85 L382.94,432.34 L384.98,432.79 L387.03,433.21 L389.08,433.59 L391.13,433.94 L393.18,434.26 L395.22,434.55 L397.27,434.81 L399.32,435.04 L401.37,435.24 L403.42,435.41 L405.47,435.56 L407.51,435.68 L409.56,435.78 L411.61,435.85 L413.66,435.9 L415.71,435.93 L417.75,435.94 L419.8,435.92 L421.85,435.89 L423.9,435.84 L425.95,435.77 L427.99,435.68 L430.04,435.58 L432.09,435.46 L434.14,435.33 L436.19,435.18 L438.23,435.02 L440.28,434.85 L442.33,434.67 L444.38,434.48 L446.43,434.28 L448.47,434.07 L450.52,433.86 L452.57,433.64 L454.62,433.41 L456.67,433.18 L458.71,432.94 L460.76,432.7 L462.81,432.46 L464.86,432.22 L466.91,431.97 L468.96,431.73 L471,431.48 L473.05,431.23 L475.1,430.97 L477.15,430.72 L479.2,430.46 L481.24,430.2 L483.29,429.94 L485.34,429.68 L487.39,429.42 L489.44,429.16 L491.48,428.89 L493.53,428.63 L495.58,428.36 L497.63,428.09 L499.68,427.82 L501.72,427.55 L503.77,427.28 L505.82,427.01 L507.87,426.74 L509.92,426.47 L511.96,426.19 L514.01,425.92 L516.06,425.65 L518.11,425.38 L520.16,425.1 L522.2,424.83 L524.25,424.56 L526.3,424.28 L528.35,424.01 L530.4,423.74 L532.44,423.47 L534.49,423.2 L536.54,422.93 L538.59,422.66 L540.64,422.39 L542.69,422.12 L544.73,421.85 L546.78,421.58 L548.83,421.32 L550.88,421.05 L552.93,420.79 L554.97,420.53 L557.02,420.27 L559.07,420.01 L561.12,419.75 L563.17,419.5 L565.21,419.24 L567.26,418.99 L569.31,418.74 L571.36,418.49 L573.41,418.25 L575.45,418 L577.5,417.76 L579.55,417.52 L581.6,417.28 L583.65,417.05 L585.69,416.82 L587.74,416.59 L589.79,416.36 L591.84,416.13 L593.89,415.91 L595.93,415.69 L597.98,415.48 L600.03,415.27 L602.08,415.06 L604.13,414.85 L606.18,414.65 L608.22,414.45 L610.27,414.25 L612.32,414.06 L614.37,413.87 L616.42,413.69 L618.46,413.51 L620.51,413.33 L622.56,413.16 L624.61,412.99 L626.66,412.82 L628.7,412.66 L630.75,412.5 L632.8,412.34 L632.8,533.4 L368.6,533.4Z" fill="#009fff"/>
<path d="M368.6,464.94 L370.65,465.35 L372.7,465.76 L374.74,466.13 L376.79,466.47 L378.84,466.78 L380.89,467.06 L382.94,467.31 L384.98,467.53 L387.03,467.73 L389.08,467.89 L391.13,468.03 L393.18,468.14 L395.22,468.22 L397.27,468.28 L399.32,468.32 L401.37,468.33 L403.42,468.32 L405.47,468.28 L407.51,468.23 L409.56,468.15 L411.61,468.05 L413.66,467.94 L415.71,467.81 L417.75,467.65 L419.8,467.49 L421.85,467.3 L423.9,467.1 L425.95,466.88 L427.99,466.65 L430.04,466.41 L432.09,466.15 L434.14,465.88 L436.19,465.6 L438.23,465.31 L440.28,465.01 L442.33,464.7 L444.38,464.38 L446.43,464.05 L448.47,463.72 L450.52,463.37 L452.57,463.03 L454.62,462.68 L456.67,462.32 L458.71,461.96 L460.76,461.6 L462.81,461.23 L464.86,460.87 L466.91,460.5 L468.96,460.13 L471,459.77 L473.05,459.4 L475.1,459.04 L477.15,458.68 L479.2,458.32 L481.24,457.97 L483.29,457.62 L485.34,457.28 L487.39,456.94 L489.44,456.62 L491.48,456.29 L493.53,455.98 L495.58,455.67 L497.63,455.36 L499.68,455.06 L501.72,454.77 L503.77,454.48 L505.82,454.2 L507.87,453.92 L509.92,453.65 L511.96,453.38 L514.01,453.11 L516.06,452.85 L518.11,452.6 L520.16,452.34 L522.2,452.09 L524.25,451.85 L526.3,451.6 L528.35,451.36 L530.4,451.12 L532.44,450.89 L534.49,450.65 L536.54,450.42 L538.59,450.19 L540.64,449.97 L542.69,449.74 L544.73,449.52 L546.78,449.29 L548.83,449.07 L550.88,448.85 L552.93,448.63 L554.97,448.4 L557.02,448.18 L559.07,447.96 L561.12,447.74 L563.17,447.52 L565.21,447.3 L567.26,447.07 L569.31,446.85 L571.36,446.62 L573.41,446.4 L575.45,446.17 L577.5,445.94 L579.55,445.7 L581.6,445.47 L583.65,445.23 L585.69,444.99 L587.74,444.75 L589.79,444.5 L591.84,444.26 L593.89,444 L595.93,443.75 L597.98,443.49 L600.03,443.22 L602.08,442.96 L604.13,442.68 L606.18,442.41 L608.22,442.13 L610.27,441.84 L612.32,441.55 L614.37,441.25 L616.42,440.95 L618.46,440.64 L620.51,440.33 L622.56,440.01 L624.61,439.68 L626.66,439.35 L628.7,439.01 L630.75,438.67 L632.8,438.32 L632.8,533.4 L368.6,533.4Z" fill="#20ffdf"/>
<path d="M368.6,497.95 L370.65,497.67 L372.7,497.4 L374.74,497.12 L376.79,496.84 L378.84,496.57 L380.89,496.29 L382.94,496.01 L384.98,495.74 L387.03,495.46 L389.08,495.18 L391.13,494.91 L393.18,494.63 L395.22,494.35 L397.27,494.08 L399.32,493.8 L401.37,493.52 L403.42,493.25 L405.47,492.97 L407.51,492.69 L409.56,492.4 L411.61,492.12 L413.66,491.83 L415.71,491.54 L417.75,491.25 L419.8,490.96 L421.85,490.66 L423.9,490.37 L425.95,490.07 L427.99,489.77 L430.04,489.47 L432.09,489.17 L434.14,488.87 L436.19,488.56 L438.23,488.25 L440.28,487.95 L442.33,487.64 L444.38,487.33 L446.43,487.02 L448.47,486.7 L450.52,486.39 L452.57,486.07 L454.62,485.76 L456.67,485.44 L458.71,485.13 L460.76,484.81 L462.81,484.49 L464.86,484.17 L466.91,483.85 L468.96,483.53 L471,483.21 L473.05,482.88 L475.1,482.56 L477.15,482.24 L479.2,481.91 L481.24,481.59 L483.29,481.27 L485.34,480.94 L487.39,480.62 L489.44,480.29 L491.48,479.97 L493.53,479.64 L495.58,479.32 L497.63,479 L499.68,478.67 L501.72,478.35 L503.77,478.02 L505.82,477.7 L507.87,477.38 L509.92,477.05 L511.96,476.73 L514.01,476.41 L516.06,476.09 L518.11,475.76 L520.16,475.44 L522.2,475.12 L524.25,474.81 L526.3,474.49 L528.35,474.17 L530.4,473.85 L532.44,473.54 L534.49,473.22 L536.54,472.91 L538.59,472.59 L540.64,472.28 L542.69,471.97 L544.73,471.66 L546.78,471.35 L548.83,471.05 L550.88,470.74 L552.93,470.44 L554.97,470.13 L557.02,469.83 L559.07,469.53 L561.12,469.23 L563.17,468.94 L565.21,468.64 L567.26,468.35 L569.31,468.06 L571.36,467.77 L573.41,467.48 L575.45,467.2 L577.5,466.91 L579.55,466.63 L581.6,466.35 L583.65,466.07 L585.69,465.8 L587.74,465.52 L589.79,465.25 L591.84,464.98 L593.89,464.72 L595.93,464.45 L597.98,464.19 L600.03,463.93 L602.08,463.68 L604.13,463.42 L606.18,463.17 L608.22,462.92 L610.27,462.68 L612.32,462.44 L614.37,462.2 L616.42,461.96 L618.46,461.73 L620.51,461.49 L622.56,461.27 L624.61,461.04 L626.66,460.82 L628.7,460.6 L630.75,460.39 L632.8,460.17 L632.8,533.4 L368.6,533.4Z" fill="#afff50"/>
<path d="M368.6,512.87 L370.65,512.59 L372.7,512.31 L374.74,512.03 L376.79,511.76 L378.84,511.48 L380.89,511.2 L382.94,510.92 L384.98,510.64 L387.03,510.37 L389.08,510.09 L391.13,509.81 L393.18,509.53 L395.22,509.25 L397.27,508.98 L399.32,508.7 L401.37,508.42 L403.42,508.14 L405.47,507.86 L407.51,507.59 L409.56,507.31 L411.61,507.03 L413.66,506.75 L415.71,506.47 L417.75,506.2 L419.8,505.92 L421.85,505.64 L423.9,505.36 L425.95,505.08 L427.99,504.81 L430.04,504.53 L432.09,504.25 L434.14,503.97 L436.19,503.69 L438.23,503.41 L440.28,503.14 L442.33,502.86 L444.38,502.58 L446.43,502.3 L448.47,502.02 L450.52,501.75 L452.57,501.47 L454.62,501.19 L456.67,500.91 L458.71,500.63 L460.76,500.36 L462.81,500.08 L464.86,499.8 L466.91,499.52 L468.96,499.24 L471,498.97 L473.05,498.69 L475.1,498.41 L477.15,498.13 L479.2,497.85 L481.24,497.58 L483.29,497.3 L485.34,497.02 L487.39,496.74 L489.44,496.46 L491.48,496.19 L493.53,495.91 L495.58,495.63 L497.63,495.35 L499.68,495.07 L501.72,494.8 L503.77,494.52 L505.82,494.24 L507.87,493.96 L509.92,493.68 L511.96,493.4 L514.01,493.13 L516.06,492.85 L518.11,492.57 L520.16,492.29 L522.2,492.01 L524.25,491.74 L526.3,491.46 L528.35,491.18 L530.4,490.9 L532.44,490.63 L534.49,490.35 L536.54,490.07 L538.59,489.79 L540.64,489.51 L542.69,489.24 L544.73,488.96 L546.78,488.68 L548.83,488.4 L550.88,488.12 L552.93,487.85 L554.97,487.57 L557.02,487.29 L559.07,487.01 L561.12,486.74 L563.17,486.46 L565.21,486.18 L567.26,485.9 L569.31,485.63 L571.36,485.35 L573.41,485.07 L575.45,484.79 L577.5,484.51 L579.55,484.24 L581.6,483.96 L583.65,483.68 L585.69,483.4 L587.74,483.13 L589.79,482.85 L591.84,482.57 L593.89,482.29 L595.93,482.02 L597.98,481.74 L600.03,481.46 L602.08,481.19 L604.13,480.91 L606.18,480.63 L608.22,480.35 L610.27,480.08 L612.32,479.8 L614.37,479.52 L616.42,479.24 L618.46,478.97 L620.51,478.69 L622.56,478.41 L624.61,478.14 L626.66,477.86 L628.7,477.58 L630.75,477.3 L632.8,477.03 L632.8,533.4 L368.6,533.4Z" fill="#ffcf00"/>
<path d="M368.6,521.22 L370.65,520.99 L372.7,520.76 L374.74,520.53 L376.79,520.3 L378.84,520.07 L380.89,519.84 L382.94,519.62 L384.98,519.39 L387.03,519.16 L389.08,518.93 L391.13,518.7 L393.18,518.47 L395.22,518.24 L397.27,518.01 L399.32,517.78 L401.37,517.55 L403.42,517.32 L405.47,517.09 L407.51,516.86 L409.56,516.63 L411.61,516.4 L413.66,516.17 L415.71,515.94 L417.75,515.72 L419.8,515.49 L421.85,515.26 L423.9,515.03 L425.95,514.8 L427.99,514.57 L430.04,514.34 L432.09,514.11 L434.14,513.88 L436.19,513.65 L438.23,513.42 L440.28,513.19 L442.33,512.96 L444.38,512.73 L446.43,512.5 L448.47,512.27 L450.52,512.05 L452.57,511.82 L454.62,511.59 L456.67,511.36 L458.71,511.13 L460.76,510.9 L462.81,510.67 L464.86,510.44 L466.91,510.21 L468.96,509.98 L471,509.75 L473.05,509.52 L475.1,509.29 L477.15,509.06 L479.2,508.83 L481.24,508.6 L483.29,508.38 L485.34,508.15 L487.39,507.92 L489.44,507.69 L491.48,507.46 L493.53,507.23 L495.58,507 L497.63,506.77 L499.68,506.54 L501.72,506.31 L503.77,506.08 L505.82,505.85 L507.87,505.62 L509.92,505.39 L511.96,505.16 L514.01,504.93 L516.06,504.71 L518.11,504.48 L520.16,504.25 L522.2,504.02 L524.25,503.79 L526.3,503.56 L528.35,503.33 L530.4,503.1 L532.44,502.87 L534.49,502.64 L536.54,502.41 L538.59,502.18 L540.64,501.95 L542.69,501.72 L544.73,501.49 L546.78,501.26 L548.83,501.04 L550.88,500.81 L552.93,500.58 L554.97,500.35 L557.02,500.12 L559.07,499.89 L561.12,499.66 L563.17,499.43 L565.21,499.2 L567.26,498.97 L569.31,498.74 L571.36,498.51 L573.41,498.28 L575.45,498.05 L577.5,497.82 L579.55,497.59 L581.6,497.36 L583.65,497.14 L585.69,496.91 L587.74,496.68 L589.79,496.45 L591.84,496.22 L593.89,495.99 L595.93,495.76 L597.98,495.53 L600.03,495.3 L602.08,495.07 L604.13,494.84 L606.18,494.61 L608.22,494.38 L610.27,494.15 L612.32,493.92 L614.37,493.69 L616.42,493.47 L618.46,493.24 L620.51,493.01 L622.56,492.78 L624.61,492.55 L626.66,492.32 L628.7,492.09 L630.75,491.86 L632.8,491.63 L632.8,533.4 L368.6,533.4Z" fill="#ff4000"/>
<path d="M368.6,379.1 L370.65,380.09 L372.7,381.07 L374.74,382.01 L376.79,382.92 L378.84,383.79 L380.89,384.61 L382.94,385.4 L384.98,386.16 L387.03,386.87 L389.08,387.55 L391.13,388.2 L393.18,388.81 L395.22,389.39 L397.27,389.93 L399.32,390.44 L401.37,390.93 L403.42,391.38 L405.47,391.8 L407.51,392.19 L409.56,392.55 L411.61,392.88 L413.66,393.19 L415.71,393.47 L417.75,393.72 L419.8,393.95 L421.85,394.16 L423.9,394.34 L425.95,394.49 L427.99,394.63 L430.04,394.74 L432.09,394.83 L434.14,394.91 L436.19,394.96 L438.23,394.99 L440.28,395.01 L442.33,395 L444.38,394.98 L446.43,394.95 L448.47,394.9 L450.52,394.83 L452.57,394.75 L454.62,394.66 L456.67,394.55 L458.71,394.44 L460.76,394.31 L462.81,394.17 L464.86,394.02 L466.91,393.86 L468.96,393.69 L471,393.52 L473.05,393.34 L475.1,393.15 L477.15,392.95 L479.2,392.76 L481.24,392.55 L483.29,392.35 L485.34,392.14 L487.39,391.93 L489.44,391.71 L491.48,391.5 L493.53,391.28 L495.58,391.06 L497.63,390.84 L499.68,390.62 L501.72,390.4 L503.77,390.17 L505.82,389.95 L507.87,389.72 L509.92,389.5 L511.96,389.27 L514.01,389.04 L516.06,388.81 L518.11,388.58 L520.16,388.35 L522.2,388.12 L524.25,387.88 L526.3,387.65 L528.35,387.42 L530.4,387.19 L532.44,386.95 L534.49,386.72 L536.54,386.49 L538.59,386.25 L540.64,386.02 L542.69,385.79 L544.73,385.56 L546.78,385.32 L548.83,385.09 L550.88,384.86 L552.93,384.63 L554.97,384.4 L557.02,384.17 L559.07,383.95 L561.12,383.72 L563.17,383.49 L565.21,383.27 L567.26,383.05 L569.31,382.82 L571.36,382.6 L573.41,382.38 L575.45,382.17 L577.5,381.95 L579.55,381.73 L581.6,381.52 L583.65,381.31 L585.69,381.1 L587.74,380.9 L589.79,380.69 L591.84,380.49 L593.89,380.29 L595.93,380.09 L597.98,379.89 L600.03,379.7 L602.08,379.51 L604.13,379.32 L606.18,379.14 L608.22,378.95 L610.27,378.77 L612.32,378.6 L614.37,378.42 L616.42,378.25 L618.46,378.09 L620.51,377.92 L622.56,377.76 L624.61,377.61 L626.66,377.45 L628.7,377.3 L630.75,377.15 L632.8,377.01" fill="none" stroke="#000" stroke-width="0.9"/>
<path d="M368.6,428.17 L370.65,428.85 L372.7,429.53 L374.74,430.16 L376.79,430.76 L378.84,431.32 L380.89,431.85 L382.94,432.34 L384.98,432.79 L387.03,433.21 L389.08,433.59 L391.13,433.94 L393.18,434.26 L395.22,434.55 L397.27,434.81 L399.32,435.04 L401.37,435.24 L403.42,435.41 L405.47,435.56 L407.51,435.68 L409.56,435.78 L411.61,435.85 L413.66,435.9 L415.71,435.93 L417.75,435.94 L419.8,435.92 L421.85,435.89 L423.9,435.84 L425.95,435.77 L427.99,435.68 L430.04,435.58 L432.09,435.46 L434.14,435.33 L436.19,435.18 L438.23,435.02 L440.28,434.85 L442.33,434.67 L444.38,434.48 L446.43,434.28 L448.47,434.07 L450.52,433.86 L452.57,433.64 L454.62,433.41 L456.67,433.18 L458.71,432.94 L460.76,432.7 L462.81,432.46 L464.86,432.22 L466.91,431.97 L468.96,431.73 L471,431.48 L473.05,431.23 L475.1,430.97 L477.15,430.72 L479.2,430.46 L481.24,430.2 L483.29,429.94 L485.34,429.68 L487.39,429.42 L489.44,429.16 L491.48,428.89 L493.53,428.63 L495.58,428.36 L497.63,428.09 L499.68,427.82 L501.72,427.55 L503.77,427.28 L505.82,427.01 L507.87,426.74 L509.92,426.47 L511.96,426.19 L514.01,425.92 L516.06,425.65 L518.11,425.38 L520.16,425.1 L522.2,424.83 L524.25,424.56 L526.3,424.28 L528.35,424.01 L530.4,423.74 L532.44,423.47 L534.49,423.2 L536.54,422.93 L538.59,422.66 L540.64,422.39 L542.69,422.12 L544.73,421.85 L546.78,421.58 L548.83,421.32 L550.88,421.05 L552.93,420.79 L554.97,420.53 L557.02,420.27 L559.07,420.01 L561.12,419.75 L563.17,419.5 L565.21,419.24 L567.26,418.99 L569.31,418.74 L571.36,418.49 L573.41,418.25 L575.45,418 L577.5,417.76 L579.55,417.52 L581.6,417.28 L583.65,417.05 L585.69,416.82 L587.74,416.59 L589.79,416.36 L591.84,416.13 L593.89,415.91 L595.93,415.69 L597.98,415.48 L600.03,415.27 L602.08,415.06 L604.13,414.85 L606.18,414.65 L608.22,414.45 L610.27,414.25 L612.32,414.06 L614.37,413.87 L616.42,413.69 L618.46,413.51 L620.51,413.33 L622.56,413.16 L624.61,412.99 L626.66,412.82 L628.7,412.66 L630.75,412.5 L632.8,412.34" fill="none" stroke="#000" stroke-width="0.9"/>
<path d="M368.6,464.94 L370.65,465.35 L372.7,465.76 L374.74,466.13 L376.79,466.47 L378.84,466.78 L380.89,467.06 L382.94,467.31 L384.98,467.53 L387.03,467.73 L389.08,467.89 L391.13,468.03 L393.18,468.14 L395.22,468.22 L397.27,468.28 L399.32,468.32 L401.37,468.33 L403.42,468.32 L405.47,468.28 L407.51,468.23 L409.56,468.15 L411.61,468.05 L413.66,467.94 L415.71,467.81 L417.75,467.65 L419.8,467.49 L421.85,467.3 L423.9,467.1 L425.95,466.88 L427.99,466.65 L430.04,466.41 L432.09,466.15 L434.14,465.88 L436.19,465.6 L438.23,465.31 L440.28,465.01 L442.33,464.7 L444.38,464.38 L446.43,464.05 L448.47,463.72 L450.52,463.37 L452.57,463.03 L454.62,462.68 L456.67,462.32 L458.71,461.96 L460.76,461.6 L462.81,461.23 L464.86,460.87 L466.91,460.5 L468.96,460.13 L471,459.77 L473.05,459.4 L475.1,459.04 L477.15,458.68 L479.2,458.32 L481.24,457.97 L483.29,457.62 L485.34,457.28 L487.39,456.94 L489.44,456.62 L491.48,456.29 L493.53,455.98 L495.58,455.67 L497.63,455.36 L499.68,455.06 L501.72,454.77 L503.77,454.48 L505.82,454.2 L507.87,453.92 L509.92,453.65 L511.96,453.38 L514.01,453.11 L516.06,452.85 L518.11,452.6 L520.16,452.34 L522.2,452.09 L524.25,451.85 L526.3,451.6 L528.35,451.36 L530.4,451.12 L532.44,450.89 L534.49,450.65 L536.54,450.42 L538.59,450.19 L540.64,449.97 L542.69,449.74 L544.73,449.52 L546.78,449.29 L548.83,449.07 L550.88,448.85 L552.93,448.63 L554.97,448.4 L557.02,448.18 L559.07,447.96 L561.12,447.74 L563.17,447.52 L565.21,447.3 L567.26,447.07 L569.31,446.85 L571.36,446.62 L573.41,446.4 L575.45,446.17 L577.5,445.94 L579.55,445.7 L581.6,445.47 L583.65,445.23 L585.69,444.99 L587.74,444.75 L589.79,444.5 L591.84,444.26 L593.89,444 L595.93,443.75 L597.98,443.49 L600.03,443.22 L602.08,442.96 L604.13,442.68 L606.18,442.41 L608.22,442.13 L610.27,441.84 L612.32,441.55 L614.37,441.25 L616.42,440.95 L618.46,440.64 L620.51,440.33 L622.56,440.01 L624.61,439.68 L626.66,439.35 L628.7,439.01 L630.75,438.67 L632.8,438.32" fill="none" stroke="#000" stroke-width="0.9"/>
<path d="M368.6,497.95 L370.65,497.67 L372.7,497.4 L374.74,497.12 L376.79,496.84 L378.84,496.57 L380.89,496.29 L382.94,496.01 L384.98,495.74 L387.03,495.46 L389.08,495.18 L391.13,494.91 L393.18,494.63 L395.22,494.35 L397.27,494.08 L399.32,493.8 L401.37,493.52 L403.42,493.25 L405.47,492.97 L407.51,492.69 L409.56,492.4 L411.61,492.12 L413.66,491.83 L415.71,491.54 L417.75,491.25 L419.8,490.96 L421.85,490.66 L423.9,490.37 L425.95,490.07 L427.99,489.77 L430.04,489.47 L432.09,489.17 L434.14,488.87 L436.19,488.56 L438.23,488.25 L440.28,487.95 L442.33,487.64 L444.38,487.33 L446.43,487.02 L448.47,486.7 L450.52,486.39 L452.57,486.07 L454.62,485.76 L456.67,485.44 L458.71,485.13 L460.76,484.81 L462.81,484.49 L464.86,484.17 L466.91,483.85 L468.96,483.53 L471,483.21 L473.05,482.88 L475.1,482.56 L477.15,482.24 L479.2,481.91 L481.24,481.59 L483.29,481.27 L485.34,480.94 L487.39,480.62 L489.44,480.29 L491.48,479.97 L493.53,479.64 L495.58,479.32 L497.63,479 L499.68,478.67 L501.72,478.35 L503.77,478.02 L505.82,477.7 L507.87,477.38 L509.92,477.05 L511.96,476.73 L514.01,476.41 L516.06,476.09 L518.11,475.76 L520.16,475.44 L522.2,475.12 L524.25,474.81 L526.3,474.49 L528.35,474.17 L530.4,473.85 L532.44,473.54 L534.49,473.22 L536.54,472.91 L538.59,472.59 L540.64,472.28 L542.69,471.97 L544.73,471.66 L546.78,471.35 L548.83,471.05 L550.88,470.74 L552.93,470.44 L554.97,470.13 L557.02,469.83 L559.07,469.53 L561.12,469.23 L563.17,468.94 L565.21,468.64 L567.26,468.35 L569.31,468.06 L571.36,467.77 L573.41,467.48 L575.45,467.2 L577.5,466.91 L579.55,466.63 L581.6,466.35 L583.65,466.07 L585.69,465.8 L587.74,465.52 L589.79,465.25 L591.84,464.98 L593.89,464.72 L595.93,464.45 L597.98,464.19 L600.03,463.93 L602.08,463.68 L604.13,463.42 L606.18,463.17 L608.22,462.92 L610.27,462.68 L612.32,462.44 L614.37,462.2 L616.42,461.96 L618.46,461.73 L620.51,461.49 L622.56,461.27 L624.61,461.04 L626.66,460.82 L628.7,460.6 L630.75,460.39 L632.8,460.17" fill="none" stroke="#000" stroke-width="0.9"/>
<path d="M368.6,512.87 L370.65,512.59 L372.7,512.31 L374.74,512.03 L376.79,511.76 L378.84,511.48 L380.89,511.2 L382.94,510.92 L384.98,510.64 L387.03,510.37 L389.08,510.09 L391.13,509.81 L393.18,509.53 L395.22,509.25 L397.27,508.98 L399.32,508.7 L401.37,508.42 L403.42,508.14 L405.47,507.86 L407.51,507.59 L409.56,507.31 L411.61,507.03 L413.66,506.75 L415.71,506.47 L417.75,506.2 L419.8,505.92 L421.85,505.64 L423.9,505.36 L425.95,505.08 L427.99,504.81 L430.04,504.53 L432.09,504.25 L434.14,503.97 L436.19,503.69 L438.23,503.41 L440.28,503.14 L442.33,502.86 L444.38,502.58 L446.43,502.3 L448.47,502.02 L450.52,501.75 L452.57,501.47 L454.62,501.19 L456.67,500.91 L458.71,500.63 L460.76,500.36 L462.81,500.08 L464.86,499.8 L466.91,499.52 L468.96,499.24 L471,498.97 L473.05,498.69 L475.1,498.41 L477.15,498.13 L479.2,497.85 L481.24,497.58 L483.29,497.3 L485.34,497.02 L487.39,496.74 L489.44,496.46 L491.48,496.19 L493.53,495.91 L495.58,495.63 L497.63,495.35 L499.68,495.07 L501.72,494.8 L503.77,494.52 L505.82,494.24 L507.87,493.96 L509.92,493.68 L511.96,493.4 L514.01,493.13 L516.06,492.85 L518.11,492.57 L520.16,492.29 L522.2,492.01 L524.25,491.74 L526.3,491.46 L528.35,491.18 L530.4,490.9 L532.44,490.63 L534.49,490.35 L536.54,490.07 L538.59,489.79 L540.64,489.51 L542.69,489.24 L544.73,488.96 L546.78,488.68 L548.83,488.4 L550.88,488.12 L552.93,487.85 L554.97,487.57 L557.02,487.29 L559.07,487.01 L561.12,486.74 L563.17,486.46 L565.21,486.18 L567.26,485.9 L569.31,485.63 L571.36,485.35 L573.41,485.07 L575.45,484.79 L577.5,484.51 L579.55,484.24 L581.6,483.96 L583.65,483.68 L585.69,483.4 L587.74,483.13 L589.79,482.85 L591.84,482.57 L593.89,482.29 L595.93,482.02 L597.98,481.74 L600.03,481.46 L602.08,481.19 L604.13,480.91 L606.18,480.63 L608.22,480.35 L610.27,480.08 L612.32,479.8 L614.37,479.52 L616.42,479.24 L618.46,478.97 L620.51,478.69 L622.56,478.41 L624.61,478.14 L626.66,477.86 L628.7,477.58 L630.75,477.3 L632.8,477.03" fill="none" stroke="#000" stroke-width="0.9"/>
<path d="M368.6,521.22 L370.65,520.99 L372.7,520.76 L374.74,520.53 L376.79,520.3 L378.84,520.07 L380.89,519.84 L382.94,519.62 L384.98,519.39 L387.03,519.16 L389.08,518.93 L391.13,518.7 L393.18,518.47 L395.22,518.24 L397.27,518.01 L399.32,517.78 L401.37,517.55 L403.42,517.32 L405.47,517.09 L407.51,516.86 L409.56,516.63 L411.61,516.4 L413.66,516.17 L415.71,515.94 L417.75,515.72 L419.8,515.49 L421.85,515.26 L423.9,515.03 L425.95,514.8 L427.99,514.57 L430.04,514.34 L432.09,514.11 L434.14,513.88 L436.19,513.65 L438.23,513.42 L440.28,513.19 L442.33,512.96 L444.38,512.73 L446.43,512.5 L448.47,512.27 L450.52,512.05 L452.57,511.82 L454.62,511.59 L456.67,511.36 L458.71,511.13 L460.76,510.9 L462.81,510.67 L464.86,510.44 L466.91,510.21 L468.96,509.98 L471,509.75 L473.05,509.52 L475.1,509.29 L477.15,509.06 L479.2,508.83 L481.24,508.6 L483.29,508.38 L485.34,508.15 L487.39,507.92 L489.44,507.69 L491.48,507.46 L493.53,507.23 L495.58,507 L497.63,506.77 L499.68,506.54 L501.72,506.31 L503.77,506.08 L505.82,505.85 L507.87,505.62 L509.92,505.39 L511.96,505.16 L514.01,504.93 L516.06,504.71 L518.11,504.48 L520.16,504.25 L522.2,504.02 L524.25,503.79 L526.3,503.56 L528.35,503.33 L530.4,503.1 L532.44,502.87 L534.49,502.64 L536.54,502.41 L538.59,502.18 L540.64,501.95 L542.69,501.72 L544.73,501.49 L546.78,501.26 L548.83,501.04 L550.88,500.81 L552.93,500.58 L554.97,500.35 L557.02,500.12 L559.07,499.89 L561.12,499.66 L563.17,499.43 L565.21,499.2 L567.26,498.97 L569.31,498.74 L571.36,498.51 L573.41,498.28 L575.45,498.05 L577.5,497.82 L579.55,497.59 L581.6,497.36 L583.65,497.14 L585.69,496.91 L587.74,496.68 L589.79,496.45 L591.84,496.22 L593.89,495.99 L595.93,495.76 L597.98,495.53 L600.03,495.3 L602.08,495.07 L604.13,494.84 L606.18,494.61 L608.22,494.38 L610.27,494.15 L612.32,493.92 L614.37,493.69 L616.42,493.47 L618.46,493.24 L620.51,493.01 L622.56,492.78 L624.61,492.55 L626.66,492.32 L628.7,492.09 L630.75,491.86 L632.8,491.63" fill="none" stroke="#000" stroke-width="0.9"/>
<path d="M369.6,305.96 L370.6,305.96 L371.1,308.05 L372.6,308.05 L373.1,310.15 L375.1,310.15 L375.6,312.24 L378.1,312.24 L378.6,314.34 L381.1,314.34 L381.6,316.44 L384.1,316.44 L384.6,318.53 L386.6,318.53 L387.1,320.63 L389.1,320.63 L389.6,322.72 L392.1,322.72 L392.6,324.82 L395.1,324.82 L395.6,326.92 L399.6,326.92 L400.1,329.01 L403.1,329.01 L403.6,331.11 L409.1,331.11 L409.6,333.2 L415.6,333.2 L416.1,335.3 L423.1,335.3 L423.6,337.4 L437.6,337.4 L438.1,339.49 L523.1,339.49 L523.6,337.4 L552.1,337.4 L552.6,335.3 L576.6,335.3 L577.1,333.2 L598.1,333.2 L598.6,331.11 L620.1,331.11 L620.6,329.01 L631.6,329.01" fill="none" stroke="#000" stroke-width="0.8" stroke-linejoin="round"/>
</g>
<line x1="85.5" y1="24.65" x2="85.5" y2="219" class="gr"/>
<line x1="156.5" y1="24.65" x2="156.5" y2="219" class="gr"/>
<line x1="228.5" y1="24.65" x2="228.5" y2="219" class="gr"/>
<line x1="48" y1="175.5" x2="300.4" y2="175.5" class="gr"/>
<line x1="48" y1="131.5" x2="300.4" y2="131.5" class="gr"/>
<line x1="48" y1="87.5" x2="300.4" y2="87.5" class="gr"/>
<line x1="48" y1="43.5" x2="300.4" y2="43.5" class="gr"/>
<rect x="42.2" y="21.3" width="258.2" height="197.7" class="bx"/>
<line x1="85.23" y1="219" x2="85.23" y2="216.5" class="tk"/>
<line x1="85.23" y1="21.3" x2="85.23" y2="23.8" class="tk"/>
<line x1="156.96" y1="219" x2="156.96" y2="216.5" class="tk"/>
<line x1="156.96" y1="21.3" x2="156.96" y2="23.8" class="tk"/>
<line x1="228.68" y1="219" x2="228.68" y2="216.5" class="tk"/>
<line x1="228.68" y1="21.3" x2="228.68" y2="23.8" class="tk"/>
<line x1="300.4" y1="219" x2="300.4" y2="216.5" class="tk"/>
<line x1="300.4" y1="21.3" x2="300.4" y2="23.8" class="tk"/>
<line x1="42.2" y1="219" x2="44.7" y2="219" class="tk"/>
<line x1="300.4" y1="219" x2="297.9" y2="219" class="tk"/>
<line x1="42.2" y1="175.07" x2="44.7" y2="175.07" class="tk"/>
<line x1="300.4" y1="175.07" x2="297.9" y2="175.07" class="tk"/>
<line x1="42.2" y1="131.13" x2="44.7" y2="131.13" class="tk"/>
<line x1="300.4" y1="131.13" x2="297.9" y2="131.13" class="tk"/>
<line x1="42.2" y1="87.2" x2="44.7" y2="87.2" class="tk"/>
<line x1="300.4" y1="87.2" x2="297.9" y2="87.2" class="tk"/>
<line x1="42.2" y1="43.27" x2="44.7" y2="43.27" class="tk"/>
<line x1="300.4" y1="43.27" x2="297.9" y2="43.27" class="tk"/>
<text x="85.23" y="235.5" class="tl" text-anchor="middle">0.5</text>
<text x="156.96" y="235.5" class="tl" text-anchor="middle">1</text>
<text x="228.68" y="235.5" class="tl" text-anchor="middle">1.5</text>
<text x="300.4" y="235.5" class="tl" text-anchor="middle">2</text>
<text x="38" y="223.8" class="tl" text-anchor="end">0</text>
<text x="38" y="179.87" class="tl" text-anchor="end">0.2</text>
<text x="38" y="135.93" class="tl" text-anchor="end">0.4</text>
<text x="38" y="92" class="tl" text-anchor="end">0.6</text>
<text x="38" y="48.07" class="tl" text-anchor="end">0.8</text>
<text x="171.3" y="251.3" class="tl" text-anchor="middle">Energy (J)</text>
<g transform="translate(10.5,145.8) rotate(-90)"><text transform="translate(-0.22,0) scale(1.254,1)" style="font-style:italic;font-size:13px" class="sf">m</text><text transform="translate(13.28,1.5) scale(1.107,1)" style="font-style:italic;font-size:9.3px" class="sf">W</text><line x1="22.9" y1="2.6" x2="30.0" y2="-8.9" stroke="#000" stroke-width="0.8"/><text transform="translate(32.28,0) scale(1.243,1)" style="font-style:italic;font-size:13px" class="sf">m</text><text transform="translate(46.7,1.7) scale(1.103,1)" style="font-style:italic;font-size:9.3px" class="sf">B</text></g>
<line x1="414.5" y1="24.65" x2="414.5" y2="219" class="gr"/>
<line x1="486.5" y1="24.65" x2="486.5" y2="219" class="gr"/>
<line x1="558.5" y1="24.65" x2="558.5" y2="219" class="gr"/>
<line x1="377.4" y1="175.5" x2="629.8" y2="175.5" class="gr"/>
<line x1="377.4" y1="131.5" x2="629.8" y2="131.5" class="gr"/>
<line x1="377.4" y1="87.5" x2="629.8" y2="87.5" class="gr"/>
<line x1="377.4" y1="43.5" x2="629.8" y2="43.5" class="gr"/>
<rect x="371.6" y="21.3" width="258.2" height="197.7" class="bx"/>
<line x1="414.63" y1="219" x2="414.63" y2="216.5" class="tk"/>
<line x1="414.63" y1="21.3" x2="414.63" y2="23.8" class="tk"/>
<line x1="486.36" y1="219" x2="486.36" y2="216.5" class="tk"/>
<line x1="486.36" y1="21.3" x2="486.36" y2="23.8" class="tk"/>
<line x1="558.08" y1="219" x2="558.08" y2="216.5" class="tk"/>
<line x1="558.08" y1="21.3" x2="558.08" y2="23.8" class="tk"/>
<line x1="629.8" y1="219" x2="629.8" y2="216.5" class="tk"/>
<line x1="629.8" y1="21.3" x2="629.8" y2="23.8" class="tk"/>
<line x1="371.6" y1="219" x2="374.1" y2="219" class="tk"/>
<line x1="629.8" y1="219" x2="627.3" y2="219" class="tk"/>
<line x1="371.6" y1="175.07" x2="374.1" y2="175.07" class="tk"/>
<line x1="629.8" y1="175.07" x2="627.3" y2="175.07" class="tk"/>
<line x1="371.6" y1="131.13" x2="374.1" y2="131.13" class="tk"/>
<line x1="629.8" y1="131.13" x2="627.3" y2="131.13" class="tk"/>
<line x1="371.6" y1="87.2" x2="374.1" y2="87.2" class="tk"/>
<line x1="629.8" y1="87.2" x2="627.3" y2="87.2" class="tk"/>
<line x1="371.6" y1="43.27" x2="374.1" y2="43.27" class="tk"/>
<line x1="629.8" y1="43.27" x2="627.3" y2="43.27" class="tk"/>
<text x="414.63" y="235.5" class="tl" text-anchor="middle">0.5</text>
<text x="486.36" y="235.5" class="tl" text-anchor="middle">1</text>
<text x="558.08" y="235.5" class="tl" text-anchor="middle">1.5</text>
<text x="629.8" y="235.5" class="tl" text-anchor="middle">2</text>
<text x="367.4" y="223.8" class="tl" text-anchor="end">0</text>
<text x="367.4" y="179.87" class="tl" text-anchor="end">0.2</text>
<text x="367.4" y="135.93" class="tl" text-anchor="end">0.4</text>
<text x="367.4" y="92" class="tl" text-anchor="end">0.6</text>
<text x="367.4" y="48.07" class="tl" text-anchor="end">0.8</text>
<text x="500.7" y="251.3" class="tl" text-anchor="middle">Energy (J)</text>
<g transform="translate(339.9,145.8) rotate(-90)"><text transform="translate(-0.22,0) scale(1.254,1)" style="font-style:italic;font-size:13px" class="sf">m</text><text transform="translate(13.28,1.5) scale(1.107,1)" style="font-style:italic;font-size:9.3px" class="sf">W</text><line x1="22.9" y1="2.6" x2="30.0" y2="-8.9" stroke="#000" stroke-width="0.8"/><text transform="translate(32.28,0) scale(1.243,1)" style="font-style:italic;font-size:13px" class="sf">m</text><text transform="translate(46.7,1.7) scale(1.103,1)" style="font-style:italic;font-size:9.3px" class="sf">B</text></g>
<line x1="85.5" y1="299.75" x2="85.5" y2="493.4" class="gr"/>
<line x1="156.5" y1="299.75" x2="156.5" y2="493.4" class="gr"/>
<line x1="228.5" y1="299.75" x2="228.5" y2="493.4" class="gr"/>
<line x1="47.9" y1="449.5" x2="300.4" y2="449.5" class="gr"/>
<line x1="47.9" y1="405.5" x2="300.4" y2="405.5" class="gr"/>
<line x1="47.9" y1="362.5" x2="300.4" y2="362.5" class="gr"/>
<line x1="47.9" y1="318.5" x2="300.4" y2="318.5" class="gr"/>
<rect x="42.1" y="296.4" width="258.3" height="197" class="bx"/>
<line x1="85.15" y1="493.4" x2="85.15" y2="490.9" class="tk"/>
<line x1="85.15" y1="296.4" x2="85.15" y2="298.9" class="tk"/>
<line x1="156.9" y1="493.4" x2="156.9" y2="490.9" class="tk"/>
<line x1="156.9" y1="296.4" x2="156.9" y2="298.9" class="tk"/>
<line x1="228.65" y1="493.4" x2="228.65" y2="490.9" class="tk"/>
<line x1="228.65" y1="296.4" x2="228.65" y2="298.9" class="tk"/>
<line x1="300.4" y1="493.4" x2="300.4" y2="490.9" class="tk"/>
<line x1="300.4" y1="296.4" x2="300.4" y2="298.9" class="tk"/>
<line x1="42.1" y1="493.4" x2="44.6" y2="493.4" class="tk"/>
<line x1="300.4" y1="493.4" x2="297.9" y2="493.4" class="tk"/>
<line x1="42.1" y1="449.62" x2="44.6" y2="449.62" class="tk"/>
<line x1="300.4" y1="449.62" x2="297.9" y2="449.62" class="tk"/>
<line x1="42.1" y1="405.84" x2="44.6" y2="405.84" class="tk"/>
<line x1="300.4" y1="405.84" x2="297.9" y2="405.84" class="tk"/>
<line x1="42.1" y1="362.07" x2="44.6" y2="362.07" class="tk"/>
<line x1="300.4" y1="362.07" x2="297.9" y2="362.07" class="tk"/>
<line x1="42.1" y1="318.29" x2="44.6" y2="318.29" class="tk"/>
<line x1="300.4" y1="318.29" x2="297.9" y2="318.29" class="tk"/>
<text x="85.15" y="509.9" class="tl" text-anchor="middle">0.5</text>
<text x="156.9" y="509.9" class="tl" text-anchor="middle">1</text>
<text x="228.65" y="509.9" class="tl" text-anchor="middle">1.5</text>
<text x="300.4" y="509.9" class="tl" text-anchor="middle">2</text>
<text x="37.9" y="498.2" class="tl" text-anchor="end">0</text>
<text x="37.9" y="454.42" class="tl" text-anchor="end">0.2</text>
<text x="37.9" y="410.64" class="tl" text-anchor="end">0.4</text>
<text x="37.9" y="366.87" class="tl" text-anchor="end">0.6</text>
<text x="37.9" y="323.09" class="tl" text-anchor="end">0.8</text>
<text x="171.25" y="525.7" class="tl" text-anchor="middle">Energy (J)</text>
<g transform="translate(10.5,420.9) rotate(-90)"><text transform="translate(-0.22,0) scale(1.254,1)" style="font-style:italic;font-size:13px" class="sf">m</text><text transform="translate(13.28,1.5) scale(1.107,1)" style="font-style:italic;font-size:9.3px" class="sf">W</text><line x1="22.9" y1="2.6" x2="30.0" y2="-8.9" stroke="#000" stroke-width="0.8"/><text transform="translate(32.28,0) scale(1.243,1)" style="font-style:italic;font-size:13px" class="sf">m</text><text transform="translate(46.7,1.7) scale(1.103,1)" style="font-style:italic;font-size:9.3px" class="sf">B</text></g>
<line x1="414.5" y1="299.75" x2="414.5" y2="493.4" class="gr"/>
<line x1="486.5" y1="299.75" x2="486.5" y2="493.4" class="gr"/>
<line x1="558.5" y1="299.75" x2="558.5" y2="493.4" class="gr"/>
<line x1="377.4" y1="449.5" x2="629.8" y2="449.5" class="gr"/>
<line x1="377.4" y1="405.5" x2="629.8" y2="405.5" class="gr"/>
<line x1="377.4" y1="362.5" x2="629.8" y2="362.5" class="gr"/>
<line x1="377.4" y1="318.5" x2="629.8" y2="318.5" class="gr"/>
<rect x="371.6" y="296.4" width="258.2" height="197" class="bx"/>
<line x1="414.63" y1="493.4" x2="414.63" y2="490.9" class="tk"/>
<line x1="414.63" y1="296.4" x2="414.63" y2="298.9" class="tk"/>
<line x1="486.36" y1="493.4" x2="486.36" y2="490.9" class="tk"/>
<line x1="486.36" y1="296.4" x2="486.36" y2="298.9" class="tk"/>
<line x1="558.08" y1="493.4" x2="558.08" y2="490.9" class="tk"/>
<line x1="558.08" y1="296.4" x2="558.08" y2="298.9" class="tk"/>
<line x1="629.8" y1="493.4" x2="629.8" y2="490.9" class="tk"/>
<line x1="629.8" y1="296.4" x2="629.8" y2="298.9" class="tk"/>
<line x1="371.6" y1="493.4" x2="374.1" y2="493.4" class="tk"/>
<line x1="629.8" y1="493.4" x2="627.3" y2="493.4" class="tk"/>
<line x1="371.6" y1="449.62" x2="374.1" y2="449.62" class="tk"/>
<line x1="629.8" y1="449.62" x2="627.3" y2="449.62" class="tk"/>
<line x1="371.6" y1="405.84" x2="374.1" y2="405.84" class="tk"/>
<line x1="629.8" y1="405.84" x2="627.3" y2="405.84" class="tk"/>
<line x1="371.6" y1="362.07" x2="374.1" y2="362.07" class="tk"/>
<line x1="629.8" y1="362.07" x2="627.3" y2="362.07" class="tk"/>
<line x1="371.6" y1="318.29" x2="374.1" y2="318.29" class="tk"/>
<line x1="629.8" y1="318.29" x2="627.3" y2="318.29" class="tk"/>
<text x="414.63" y="509.9" class="tl" text-anchor="middle">0.5</text>
<text x="486.36" y="509.9" class="tl" text-anchor="middle">1</text>
<text x="558.08" y="509.9" class="tl" text-anchor="middle">1.5</text>
<text x="629.8" y="509.9" class="tl" text-anchor="middle">2</text>
<text x="367.4" y="498.2" class="tl" text-anchor="end">0</text>
<text x="367.4" y="454.42" class="tl" text-anchor="end">0.2</text>
<text x="367.4" y="410.64" class="tl" text-anchor="end">0.4</text>
<text x="367.4" y="366.87" class="tl" text-anchor="end">0.6</text>
<text x="367.4" y="323.09" class="tl" text-anchor="end">0.8</text>
<text x="500.7" y="525.7" class="tl" text-anchor="middle">Energy (J)</text>
<g transform="translate(339.9,420.9) rotate(-90)"><text transform="translate(-0.22,0) scale(1.254,1)" style="font-style:italic;font-size:13px" class="sf">m</text><text transform="translate(13.28,1.5) scale(1.107,1)" style="font-style:italic;font-size:9.3px" class="sf">W</text><line x1="22.9" y1="2.6" x2="30.0" y2="-8.9" stroke="#000" stroke-width="0.8"/><text transform="translate(32.28,0) scale(1.243,1)" style="font-style:italic;font-size:13px" class="sf">m</text><text transform="translate(46.7,1.7) scale(1.103,1)" style="font-style:italic;font-size:9.3px" class="sf">B</text></g>
<g class="ttl"><text transform="translate(96.4,11.2) scale(1.159,1)" style="font-size:13.5px" class="sf nb">Δ</text>
<text transform="translate(107.37,11.2) scale(1.237,1)" style="font-style:italic;font-size:13.5px" class="sf nb">h</text>
<text transform="translate(136.68,11.2) scale(0.999,1)" style="font-size:13.5px" class="sf sfd">0</text>
<text transform="translate(149.11,11.2) scale(0.905,1)" style="font-size:13.5px" class="sf">m</text>
<text transform="translate(160.76,11.2) scale(0.621,1)" style="font-size:13.5px" class="sf sfd">,</text>
<text transform="translate(172.25,11.2) scale(1.072,1)" style="font-style:italic;font-size:13.5px" class="sf nb">A</text>
<text transform="translate(201.29,11.2) scale(0.982,1)" style="font-size:13.5px" class="sf sfd">0</text>
<text transform="translate(209.12,11.2) scale(0.494,1)" style="font-size:13.5px" class="sf sfd">.</text>
<text transform="translate(213.06,11.2) scale(1.034,1)" style="font-size:13.5px" class="sf sfd">0</text>
<text transform="translate(221.19,11.2) scale(0.982,1)" style="font-size:13.5px" class="sf sfd">8</text>
<text transform="translate(228.99,11.2) scale(1.039,1)" style="font-size:13.5px" class="sf sfd">6</text>
<text transform="translate(242.29,11.2) scale(0.945,1)" style="font-size:13.5px" class="sf">m</text>
<text transform="translate(253.88,6.5) scale(0.962,1)" style="font-size:9.5px" class="sf sfd">2</text>
<line x1="121.6" y1="6.55" x2="129.9" y2="6.55" stroke="#000" stroke-width="0.75"/>
<line x1="121.6" y1="9.3" x2="129.9" y2="9.3" stroke="#000" stroke-width="0.75"/>
<line x1="186.3" y1="6.55" x2="194.5" y2="6.55" stroke="#000" stroke-width="0.75"/>
<line x1="186.3" y1="9.3" x2="194.5" y2="9.3" stroke="#000" stroke-width="0.75"/></g>
<g class="ttl"><text transform="translate(425.8,11.2) scale(1.159,1)" style="font-size:13.5px" class="sf nb">Δ</text>
<text transform="translate(436.77,11.2) scale(1.237,1)" style="font-style:italic;font-size:13.5px" class="sf nb">h</text>
<text transform="translate(466.08,11.2) scale(0.999,1)" style="font-size:13.5px" class="sf sfd">0</text>
<text transform="translate(478.51,11.2) scale(0.905,1)" style="font-size:13.5px" class="sf">m</text>
<text transform="translate(490.16,11.2) scale(0.621,1)" style="font-size:13.5px" class="sf sfd">,</text>
<text transform="translate(501.65,11.2) scale(1.072,1)" style="font-style:italic;font-size:13.5px" class="sf nb">A</text>
<text transform="translate(530.69,11.2) scale(0.982,1)" style="font-size:13.5px" class="sf sfd">0</text>
<text transform="translate(538.52,11.2) scale(0.494,1)" style="font-size:13.5px" class="sf sfd">.</text>
<text transform="translate(543.42,11.2) scale(0.981,1)" style="font-size:13.5px" class="sf sfd">1</text>
<text transform="translate(551.93,11.2) scale(1.048,1)" style="font-size:13.5px" class="sf sfd">7</text>
<text transform="translate(559.53,11.2) scale(1.023,1)" style="font-size:13.5px" class="sf sfd">3</text>
<text transform="translate(572.48,11.2) scale(0.984,1)" style="font-size:13.5px" class="sf">m</text>
<text transform="translate(584.02,6.5) scale(0.858,1)" style="font-size:9.5px" class="sf sfd">2</text>
<line x1="451" y1="6.55" x2="459.3" y2="6.55" stroke="#000" stroke-width="0.75"/>
<line x1="451" y1="9.3" x2="459.3" y2="9.3" stroke="#000" stroke-width="0.75"/>
<line x1="515.7" y1="6.55" x2="523.9" y2="6.55" stroke="#000" stroke-width="0.75"/>
<line x1="515.7" y1="9.3" x2="523.9" y2="9.3" stroke="#000" stroke-width="0.75"/></g>
<g class="ttl"><text transform="translate(96.4,286.3) scale(1.159,1)" style="font-size:13.5px" class="sf nb">Δ</text>
<text transform="translate(107.37,286.3) scale(1.237,1)" style="font-style:italic;font-size:13.5px" class="sf nb">h</text>
<text transform="translate(136.67,286.3) scale(0.939,1)" style="font-size:13.5px" class="sf sfd">1</text>
<text transform="translate(149.11,286.3) scale(0.905,1)" style="font-size:13.5px" class="sf">m</text>
<text transform="translate(160.76,286.3) scale(0.621,1)" style="font-size:13.5px" class="sf sfd">,</text>
<text transform="translate(172.25,286.3) scale(1.072,1)" style="font-style:italic;font-size:13.5px" class="sf nb">A</text>
<text transform="translate(201.29,286.3) scale(0.982,1)" style="font-size:13.5px" class="sf sfd">0</text>
<text transform="translate(209.12,286.3) scale(0.494,1)" style="font-size:13.5px" class="sf sfd">.</text>
<text transform="translate(213.06,286.3) scale(1.034,1)" style="font-size:13.5px" class="sf sfd">0</text>
<text transform="translate(221.19,286.3) scale(0.982,1)" style="font-size:13.5px" class="sf sfd">8</text>
<text transform="translate(228.99,286.3) scale(1.039,1)" style="font-size:13.5px" class="sf sfd">6</text>
<text transform="translate(242.29,286.3) scale(0.945,1)" style="font-size:13.5px" class="sf">m</text>
<text transform="translate(253.88,281.6) scale(0.962,1)" style="font-size:9.5px" class="sf sfd">2</text>
<line x1="121.6" y1="281.65" x2="129.9" y2="281.65" stroke="#000" stroke-width="0.75"/>
<line x1="121.6" y1="284.4" x2="129.9" y2="284.4" stroke="#000" stroke-width="0.75"/>
<line x1="186.3" y1="281.65" x2="194.5" y2="281.65" stroke="#000" stroke-width="0.75"/>
<line x1="186.3" y1="284.4" x2="194.5" y2="284.4" stroke="#000" stroke-width="0.75"/></g>
<g class="ttl"><text transform="translate(425.8,286.3) scale(1.159,1)" style="font-size:13.5px" class="sf nb">Δ</text>
<text transform="translate(436.77,286.3) scale(1.237,1)" style="font-style:italic;font-size:13.5px" class="sf nb">h</text>
<text transform="translate(466.07,286.3) scale(0.939,1)" style="font-size:13.5px" class="sf sfd">1</text>
<text transform="translate(478.51,286.3) scale(0.905,1)" style="font-size:13.5px" class="sf">m</text>
<text transform="translate(490.16,286.3) scale(0.621,1)" style="font-size:13.5px" class="sf sfd">,</text>
<text transform="translate(501.65,286.3) scale(1.072,1)" style="font-style:italic;font-size:13.5px" class="sf nb">A</text>
<text transform="translate(530.69,286.3) scale(0.982,1)" style="font-size:13.5px" class="sf sfd">0</text>
<text transform="translate(538.52,286.3) scale(0.494,1)" style="font-size:13.5px" class="sf sfd">.</text>
<text transform="translate(543.42,286.3) scale(0.981,1)" style="font-size:13.5px" class="sf sfd">1</text>
<text transform="translate(551.93,286.3) scale(1.048,1)" style="font-size:13.5px" class="sf sfd">7</text>
<text transform="translate(559.53,286.3) scale(1.023,1)" style="font-size:13.5px" class="sf sfd">3</text>
<text transform="translate(572.48,286.3) scale(0.984,1)" style="font-size:13.5px" class="sf">m</text>
<text transform="translate(584.02,281.6) scale(0.858,1)" style="font-size:9.5px" class="sf sfd">2</text>
<line x1="451" y1="281.65" x2="459.3" y2="281.65" stroke="#000" stroke-width="0.75"/>
<line x1="451" y1="284.4" x2="459.3" y2="284.4" stroke="#000" stroke-width="0.75"/>
<line x1="515.7" y1="281.65" x2="523.9" y2="281.65" stroke="#000" stroke-width="0.75"/>
<line x1="515.7" y1="284.4" x2="523.9" y2="284.4" stroke="#000" stroke-width="0.75"/></g>
<defs><linearGradient id="jetg" x1="0" y1="0" x2="1" y2="0"><stop offset="0.00000" stop-color="#00008f"/><stop offset="0.01562" stop-color="#00008f"/><stop offset="0.01562" stop-color="#00009f"/><stop offset="0.03125" stop-color="#00009f"/><stop offset="0.03125" stop-color="#0000af"/><stop offset="0.04688" stop-color="#0000af"/><stop offset="0.04688" stop-color="#0000bf"/><stop offset="0.06250" stop-color="#0000bf"/><stop offset="0.06250" stop-color="#0000cf"/><stop offset="0.07812" stop-color="#0000cf"/><stop offset="0.07812" stop-color="#0000df"/><stop offset="0.09375" stop-color="#0000df"/><stop offset="0.09375" stop-color="#0000ef"/><stop offset="0.10938" stop-color="#0000ef"/><stop offset="0.10938" stop-color="#0000ff"/><stop offset="0.12500" stop-color="#0000ff"/><stop offset="0.12500" stop-color="#0010ff"/><stop offset="0.14062" stop-color="#0010ff"/><stop offset="0.14062" stop-color="#0020ff"/><stop offset="0.15625" stop-color="#0020ff"/><stop offset="0.15625" stop-color="#0030ff"/><stop offset="0.17188" stop-color="#0030ff"/><stop offset="0.17188" stop-color="#0040ff"/><stop offset="0.18750" stop-color="#0040ff"/><stop offset="0.18750" stop-color="#0050ff"/><stop offset="0.20312" stop-color="#0050ff"/><stop offset="0.20312" stop-color="#0060ff"/><stop offset="0.21875" stop-color="#0060ff"/><stop offset="0.21875" stop-color="#0070ff"/><stop offset="0.23438" stop-color="#0070ff"/><stop offset="0.23438" stop-color="#0080ff"/><stop offset="0.25000" stop-color="#0080ff"/><stop offset="0.25000" stop-color="#008fff"/><stop offset="0.26562" stop-color="#008fff"/><stop offset="0.26562" stop-color="#009fff"/><stop offset="0.28125" stop-color="#009fff"/><stop offset="0.28125" stop-color="#00afff"/><stop offset="0.29688" stop-color="#00afff"/><stop offset="0.29688" stop-color="#00bfff"/><stop offset="0.31250" stop-color="#00bfff"/><stop offset="0.31250" stop-color="#00cfff"/><stop offset="0.32812" stop-color="#00cfff"/><stop offset="0.32812" stop-color="#00dfff"/><stop offset="0.34375" stop-color="#00dfff"/><stop offset="0.34375" stop-color="#00efff"/><stop offset="0.35938" stop-color="#00efff"/><stop offset="0.35938" stop-color="#00ffff"/><stop offset="0.37500" stop-color="#00ffff"/><stop offset="0.37500" stop-color="#10ffef"/><stop offset="0.39062" stop-color="#10ffef"/><stop offset="0.39062" stop-color="#20ffdf"/><stop offset="0.40625" stop-color="#20ffdf"/><stop offset="0.40625" stop-color="#30ffcf"/><stop offset="0.42188" stop-color="#30ffcf"/><stop offset="0.42188" stop-color="#40ffbf"/><stop offset="0.43750" stop-color="#40ffbf"/><stop offset="0.43750" stop-color="#50ffaf"/><stop offset="0.45312" stop-color="#50ffaf"/><stop offset="0.45312" stop-color="#60ff9f"/><stop offset="0.46875" stop-color="#60ff9f"/><stop offset="0.46875" stop-color="#70ff8f"/><stop offset="0.48438" stop-color="#70ff8f"/><stop offset="0.48438" stop-color="#80ff80"/><stop offset="0.50000" stop-color="#80ff80"/><stop offset="0.50000" stop-color="#8fff70"/><stop offset="0.51562" stop-color="#8fff70"/><stop offset="0.51562" stop-color="#9fff60"/><stop offset="0.53125" stop-color="#9fff60"/><stop offset="0.53125" stop-color="#afff50"/><stop offset="0.54688" stop-color="#afff50"/><stop offset="0.54688" stop-color="#bfff40"/><stop offset="0.56250" stop-color="#bfff40"/><stop offset="0.56250" stop-color="#cfff30"/><stop offset="0.57812" stop-color="#cfff30"/><stop offset="0.57812" stop-color="#dfff20"/><stop offset="0.59375" stop-color="#dfff20"/><stop offset="0.59375" stop-color="#efff10"/><stop offset="0.60938" stop-color="#efff10"/><stop offset="0.60938" stop-color="#ffff00"/><stop offset="0.62500" stop-color="#ffff00"/><stop offset="0.62500" stop-color="#ffef00"/><stop offset="0.64062" stop-color="#ffef00"/><stop offset="0.64062" stop-color="#ffdf00"/><stop offset="0.65625" stop-color="#ffdf00"/><stop offset="0.65625" stop-color="#ffcf00"/><stop offset="0.67188" stop-color="#ffcf00"/><stop offset="0.67188" stop-color="#ffbf00"/><stop offset="0.68750" stop-color="#ffbf00"/><stop offset="0.68750" stop-color="#ffaf00"/><stop offset="0.70312" stop-color="#ffaf00"/><stop offset="0.70312" stop-color="#ff9f00"/><stop offset="0.71875" stop-color="#ff9f00"/><stop offset="0.71875" stop-color="#ff8f00"/><stop offset="0.73438" stop-color="#ff8f00"/><stop offset="0.73438" stop-color="#ff8000"/><stop offset="0.75000" stop-color="#ff8000"/><stop offset="0.75000" stop-color="#ff7000"/><stop offset="0.76562" stop-color="#ff7000"/><stop offset="0.76562" stop-color="#ff6000"/><stop offset="0.78125" stop-color="#ff6000"/><stop offset="0.78125" stop-color="#ff5000"/><stop offset="0.79688" stop-color="#ff5000"/><stop offset="0.79688" stop-color="#ff4000"/><stop offset="0.81250" stop-color="#ff4000"/><stop offset="0.81250" stop-color="#ff3000"/><stop offset="0.82812" stop-color="#ff3000"/><stop offset="0.82812" stop-color="#ff2000"/><stop offset="0.84375" stop-color="#ff2000"/><stop offset="0.84375" stop-color="#ff1000"/><stop offset="0.85938" stop-color="#ff1000"/><stop offset="0.85938" stop-color="#ff0000"/><stop offset="0.87500" stop-color="#ff0000"/><stop offset="0.87500" stop-color="#ef0000"/><stop offset="0.89062" stop-color="#ef0000"/><stop offset="0.89062" stop-color="#df0000"/><stop offset="0.90625" stop-color="#df0000"/><stop offset="0.90625" stop-color="#cf0000"/><stop offset="0.92188" stop-color="#cf0000"/><stop offset="0.92188" stop-color="#bf0000"/><stop offset="0.93750" stop-color="#bf0000"/><stop offset="0.93750" stop-color="#af0000"/><stop offset="0.95312" stop-color="#af0000"/><stop offset="0.95312" stop-color="#9f0000"/><stop offset="0.96875" stop-color="#9f0000"/><stop offset="0.96875" stop-color="#8f0000"/><stop offset="0.98438" stop-color="#8f0000"/><stop offset="0.98438" stop-color="#800000"/><stop offset="1.00000" stop-color="#800000"/></linearGradient></defs>
<rect x="55.1" y="28.1" width="232.1" height="26.3" fill="url(#jetg)"/>
<rect x="55.1" y="28.1" width="232.1" height="26.3" class="bx"/>
<line x1="55.1" y1="28.1" x2="55.1" y2="30.6" class="tk"/>
<line x1="55.1" y1="54.4" x2="55.1" y2="51.9" class="tk"/>
<text x="55.1" y="70.8" class="tl" text-anchor="middle">0</text>
<line x1="132.47" y1="28.1" x2="132.47" y2="30.6" class="tk"/>
<line x1="132.47" y1="54.4" x2="132.47" y2="51.9" class="tk"/>
<text x="132.47" y="70.8" class="tl" text-anchor="middle">50</text>
<line x1="209.83" y1="28.1" x2="209.83" y2="30.6" class="tk"/>
<line x1="209.83" y1="54.4" x2="209.83" y2="51.9" class="tk"/>
<text x="209.83" y="70.8" class="tl" text-anchor="middle">100</text>
<line x1="287.2" y1="28.1" x2="287.2" y2="30.6" class="tk"/>
<line x1="287.2" y1="54.4" x2="287.2" y2="51.9" class="tk"/>
<text x="287.2" y="70.8" class="tl" text-anchor="middle">150</text>
<text transform="translate(125.44,46.2) scale(1.313,1)" style="font-size:15.5px" class="sf nb">Δ</text>
<text transform="translate(140.11,46.2) scale(1.182,1)" style="font-style:italic;font-size:14.5px" class="sf">x</text>
<text transform="translate(149.48,48.3) scale(1.253,1)" style="font-size:11.3px" class="sf">gain</text>
<line x1="183.3" y1="33.4" x2="175.8" y2="51.3" stroke="#000" stroke-width="0.85"/>
<text transform="translate(184.69,46.2) scale(1.223,1)" style="font-size:15.5px" class="sf nb">Δ</text>
<text transform="translate(197.91,46.2) scale(1.213,1)" style="font-style:italic;font-size:14.5px" class="sf">x</text>
<text transform="translate(210.68,47.9) scale(1.351,1)" style="font-style:italic;font-size:10.5px" class="sf">B</text>
<text x="429.2" y="113.8" class="tl">Current jumpglider</text>
<line x1="532" y1="118.1" x2="557.3" y2="142.6" stroke="#000" stroke-width="1.15"/>
<path d="M564,148.7 L550.65,143.27 L557.06,142.07 L557.98,135.61Z" fill="#000"/>
<rect x="567.6" y="151.9" width="9.8" height="9.3" fill="#fff" stroke="#000" stroke-width="2.8"/>
</svg></body></html>
